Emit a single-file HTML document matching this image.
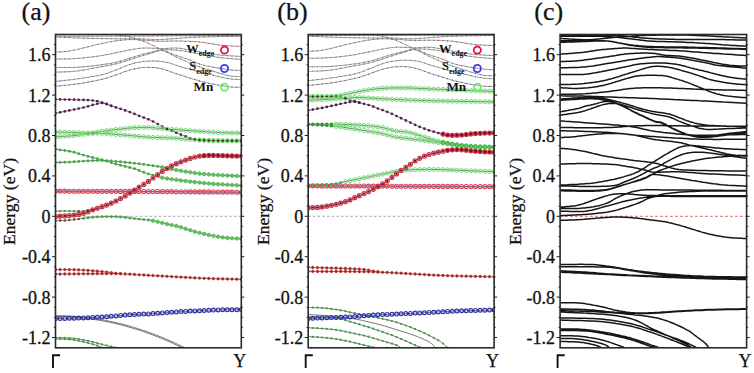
<!DOCTYPE html>
<html><head><meta charset="utf-8"><style>
html,body{margin:0;padding:0;background:#fff;width:754px;height:373px;overflow:hidden}
svg{display:block}
text{font-family:"Liberation Serif",serif;fill:#111}
.tl{font-size:18px;stroke:#111;stroke-width:0.3px}
.ky{font-size:18px;stroke:#111;stroke-width:0.25px}
.yl{font-size:17px;stroke:#111;stroke-width:0.25px}
.pl{font-size:26px;stroke:#111;stroke-width:0.25px}
.lg{font-size:12.5px;font-weight:bold}
.lgs{font-size:8px;font-weight:bold}
</style></head><body>
<svg width="754" height="373" viewBox="0 0 754 373">
<clipPath id="cla"><rect x="55.5" y="34.5" width="185.80" height="313.30"/></clipPath>
<clipPath id="clb"><rect x="308.2" y="34.5" width="185.90" height="313.30"/></clipPath>
<clipPath id="clc"><rect x="560.1" y="34.5" width="186.50" height="313.30"/></clipPath>
<line x1="55.5" y1="216.30" x2="241.3" y2="216.30" stroke="#999" stroke-width="0.9" stroke-dasharray="2.4 2.3"/>
<line x1="308.2" y1="216.30" x2="494.1" y2="216.30" stroke="#999" stroke-width="0.9" stroke-dasharray="2.4 2.3"/>
<line x1="560.1" y1="216.30" x2="746.6" y2="216.30" stroke="#e04848" stroke-width="0.9" stroke-dasharray="2.7 2.3"/>
<g clip-path="url(#cla)">
<path d="M55.5 36.2 L62.0 36.2 L68.5 36.2 L75.0 36.2 L81.5 36.2 L88.0 36.2 L94.5 36.2 L101.0 36.1 L107.4 36.1 L113.7 36.1 L120.0 36.1 L126.2 36.1 L132.3 36.1 L138.3 36.0 L144.3 36.0 L150.2 36.0 L156.1 35.9 L162.0 35.9 L168.0 35.9 L174.0 35.8 L180.0 35.8 L186.8 35.8 L193.5 35.7 L200.3 35.7 L207.2 35.7 L214.0 35.7 L220.8 35.7 L227.7 35.6 L234.5 35.6 L241.3 35.6 M55.5 37.0 L58.5 37.1 L61.6 37.2 L64.6 37.4 L67.7 37.5 L70.7 37.6 L73.8 37.8 L76.8 37.9 L79.9 38.0 L82.9 38.1 L86.0 38.2 L89.1 38.3 L92.3 38.4 L95.5 38.4 L98.7 38.5 L102.0 38.6 L105.2 38.6 L108.3 38.7 L111.3 38.7 L114.2 38.8 L117.0 38.8 L119.6 38.8 L122.2 38.8 L124.6 38.8 L127.0 38.8 L129.3 38.8 L131.5 38.8 L133.7 38.8 L135.8 38.8 L137.9 38.9 L140.0 38.9 L142.0 39.0 L143.9 39.0 L145.8 39.1 L147.6 39.2 L149.4 39.3 L151.1 39.4 L152.8 39.5 L154.5 39.6 L156.3 39.6 L158.0 39.6 L159.7 39.6 L161.3 39.5 L162.9 39.4 L164.5 39.4 L166.1 39.2 L167.7 39.1 L169.3 39.0 L171.1 38.9 L173.0 38.7 L175.0 38.6 L177.1 38.5 L179.2 38.3 L181.4 38.1 L183.6 38.0 L186.0 37.8 L188.4 37.6 L191.0 37.4 L193.8 37.3 L196.8 37.1 L200.0 37.0 L203.9 36.9 L208.1 36.8 L212.6 36.7 L217.2 36.6 L222.1 36.5 L226.9 36.4 L231.8 36.4 L236.6 36.3 L241.3 36.2 M55.5 52.1 L56.5 52.0 L57.6 52.0 L58.6 52.0 L59.7 51.9 L60.8 51.9 L61.8 51.8 L62.9 51.8 L63.9 51.7 L65.0 51.6 L66.0 51.5 L67.0 51.4 L68.1 51.2 L69.2 51.0 L70.2 50.9 L71.2 50.7 L72.3 50.5 L73.3 50.3 L74.4 50.0 L75.5 49.8 L76.5 49.6 L77.5 49.4 L78.6 49.1 L79.6 48.9 L80.7 48.6 L81.7 48.4 L82.8 48.1 L83.8 47.8 L84.9 47.5 L85.9 47.3 L87.0 47.0 L88.1 46.7 L89.2 46.5 L90.3 46.2 L91.4 45.9 L92.5 45.6 L93.6 45.3 L94.7 45.1 L95.8 44.8 L96.9 44.6 L98.0 44.3 L99.1 44.1 L100.2 43.8 L101.3 43.6 L102.4 43.3 L103.5 43.1 L104.5 42.9 L105.6 42.7 L106.6 42.5 L107.6 42.3 L108.6 42.1 L109.5 41.9 L110.3 41.8 L111.1 41.6 L111.9 41.5 L112.6 41.3 L113.4 41.2 L114.2 41.1 L115.1 40.9 L116.0 40.8 L117.0 40.7 L118.1 40.6 L119.3 40.4 L120.5 40.3 L121.8 40.2 L123.1 40.0 L124.4 39.9 L125.8 39.8 L127.2 39.7 L128.6 39.6 L130.0 39.6 L131.4 39.6 L132.9 39.6 L134.4 39.6 L135.9 39.7 L137.4 39.8 L138.9 39.8 L140.4 39.9 L142.0 40.0 L143.5 40.1 L145.0 40.2 L146.5 40.3 L147.9 40.4 L149.3 40.5 L150.8 40.6 L152.2 40.8 L153.6 40.9 L155.1 41.0 L156.7 41.1 L158.3 41.1 L160.0 41.2 L161.8 41.2 L163.7 41.2 L165.6 41.2 L167.6 41.1 L169.7 41.1 L171.8 41.0 L173.8 41.0 L175.9 41.0 L178.0 41.0 L180.0 41.0 L182.0 41.0 L184.0 41.1 L185.9 41.2 L187.9 41.2 L189.9 41.3 L191.9 41.4 L193.9 41.6 L195.9 41.7 L197.9 41.9 L200.0 42.1 L202.1 42.3 L204.3 42.6 L206.5 43.0 L208.8 43.3 L211.0 43.7 L213.3 44.1 L215.5 44.4 L217.7 44.8 L219.9 45.1 L222.0 45.3 L224.3 45.5 L226.5 45.7 L228.6 45.8 L230.8 45.9 L232.9 46.0 L235.0 46.1 L237.1 46.2 L239.2 46.3 L241.3 46.4 M112.0 34.0 L112.8 34.1 L113.6 34.2 L114.3 34.3 L115.1 34.5 L115.9 34.6 L116.7 34.7 L117.5 34.8 L118.3 34.9 L119.1 35.1 L120.0 35.2 L120.9 35.4 L121.9 35.5 L122.9 35.7 L123.9 35.8 L124.9 36.0 L125.9 36.2 L126.9 36.4 L128.0 36.6 L129.0 36.8 L130.0 37.0 L131.0 37.2 L132.0 37.5 L133.0 37.8 L134.0 38.1 L135.1 38.4 L136.1 38.7 L137.1 39.0 L138.1 39.3 L139.0 39.7 L140.0 40.0 L140.9 40.3 L141.9 40.7 L142.8 41.0 L143.7 41.4 L144.6 41.7 L145.4 42.1 L146.3 42.4 L147.2 42.8 L148.1 43.2 L149.0 43.6 L149.9 44.0 L150.8 44.4 L151.7 44.9 L152.6 45.3 L153.5 45.8 L154.4 46.2 L155.3 46.7 L156.2 47.1 L157.1 47.6 L158.0 48.0 L158.9 48.4 L159.7 48.8 L160.6 49.2 L161.4 49.6 L162.3 50.0 L163.1 50.4 L164.0 50.8 L164.8 51.2 L165.7 51.6 L166.5 52.0 L167.3 52.4 L168.2 52.9 L169.0 53.3 L169.9 53.8 L170.7 54.3 L171.6 54.7 L172.4 55.2 L173.3 55.6 L174.1 56.1 L175.0 56.5 L175.9 56.9 L176.8 57.3 L177.8 57.8 L178.7 58.2 L179.7 58.6 L180.6 59.0 L181.5 59.3 L182.4 59.7 L183.2 60.1 L184.0 60.4 L184.7 60.7 L185.3 61.0 L185.8 61.2 L186.2 61.4 L186.7 61.7 L187.2 61.9 L187.7 62.1 L188.3 62.4 L189.1 62.7 L190.0 63.1 L191.0 63.5 L192.1 63.9 L193.3 64.4 L194.5 64.9 L195.9 65.4 L197.3 66.0 L198.8 66.5 L200.4 67.1 L202.2 67.7 L204.0 68.3 L206.0 69.0 L208.3 69.7 L210.8 70.5 L213.4 71.3 L216.0 72.1 L218.7 73.0 L221.3 73.7 L223.7 74.4 L226.0 75.0 L228.0 75.5 L229.9 75.9 L231.7 76.2 L233.2 76.3 L234.6 76.4 L236.0 76.5 L237.3 76.5 L238.5 76.5 L239.9 76.6 L241.3 76.7 M55.5 59.1 L57.6 59.0 L59.7 59.0 L61.8 59.0 L63.9 58.9 L66.0 58.9 L68.1 58.9 L70.2 58.8 L72.3 58.7 L74.4 58.6 L76.5 58.5 L78.6 58.3 L80.8 58.2 L83.0 58.0 L85.2 57.7 L87.4 57.5 L89.6 57.2 L91.7 57.0 L93.9 56.7 L95.9 56.4 L98.0 56.1 L100.0 55.8 L102.0 55.5 L104.0 55.1 L105.9 54.7 L107.8 54.4 L109.7 54.0 L111.6 53.6 L113.4 53.2 L115.2 52.8 L117.0 52.5 L118.7 52.2 L120.5 51.8 L122.1 51.5 L123.8 51.1 L125.4 50.8 L127.0 50.4 L128.6 50.1 L130.1 49.8 L131.6 49.5 L133.0 49.3 L134.3 49.1 L135.6 48.9 L136.7 48.7 L137.8 48.6 L138.9 48.4 L140.0 48.3 L141.2 48.2 L142.3 48.1 L143.6 48.0 L145.0 48.0 L146.5 48.0 L148.1 48.0 L149.7 48.1 L151.4 48.2 L153.2 48.2 L155.0 48.3 L156.7 48.4 L158.5 48.5 L160.3 48.6 L162.0 48.6 L163.7 48.6 L165.3 48.5 L167.0 48.4 L168.6 48.3 L170.2 48.2 L171.9 48.1 L173.6 48.0 L175.3 48.0 L177.1 48.1 L179.0 48.2 L180.9 48.4 L183.0 48.7 L185.0 49.1 L187.2 49.5 L189.3 49.9 L191.5 50.3 L193.6 50.8 L195.8 51.2 L197.9 51.6 L200.0 52.0 L202.0 52.3 L204.0 52.7 L206.0 53.0 L208.0 53.3 L210.0 53.6 L212.0 53.9 L213.9 54.2 L215.9 54.5 L218.0 54.8 L220.0 55.0 L222.3 55.2 L224.6 55.4 L227.0 55.6 L229.4 55.8 L231.8 55.9 L234.2 56.1 L236.5 56.2 L238.9 56.3 L241.3 56.5 M55.5 67.5 L57.6 67.5 L59.7 67.5 L61.8 67.5 L63.9 67.5 L66.0 67.5 L68.1 67.5 L70.2 67.5 L72.3 67.5 L74.4 67.4 L76.5 67.3 L78.6 67.2 L80.8 67.0 L83.0 66.8 L85.2 66.6 L87.4 66.4 L89.6 66.2 L91.7 66.0 L93.9 65.7 L95.9 65.5 L98.0 65.2 L100.0 64.9 L102.0 64.7 L103.9 64.4 L105.8 64.1 L107.7 63.8 L109.6 63.5 L111.5 63.2 L113.3 62.8 L115.2 62.4 L117.0 62.0 L118.9 61.5 L120.7 61.0 L122.6 60.5 L124.4 59.9 L126.2 59.3 L128.1 58.7 L129.9 58.1 L131.6 57.5 L133.3 57.0 L135.0 56.5 L136.6 56.0 L138.2 55.6 L139.8 55.1 L141.4 54.7 L142.9 54.3 L144.4 53.9 L145.8 53.6 L147.2 53.2 L148.6 52.8 L150.0 52.5 L151.3 52.2 L152.5 51.8 L153.6 51.5 L154.7 51.2 L155.8 50.9 L156.9 50.6 L158.1 50.3 L159.3 50.1 L160.6 49.9 L162.0 49.8 L163.5 49.7 L165.2 49.7 L166.9 49.7 L168.7 49.7 L170.5 49.8 L172.4 49.9 L174.3 50.0 L176.2 50.1 L178.1 50.3 L180.0 50.5 L181.9 50.7 L183.9 51.0 L185.9 51.3 L187.9 51.7 L189.9 52.1 L191.9 52.5 L193.9 52.9 L196.0 53.3 L198.0 53.6 L200.0 54.0 L202.0 54.4 L204.0 54.7 L206.0 55.1 L207.9 55.5 L209.9 55.8 L211.9 56.2 L213.9 56.6 L215.9 56.9 L217.9 57.2 L220.0 57.5 L222.3 57.8 L224.6 58.0 L227.0 58.3 L229.4 58.5 L231.8 58.7 L234.2 58.9 L236.5 59.1 L238.9 59.3 L241.3 59.5 M55.5 72.2 L57.6 72.1 L59.7 72.0 L61.8 72.0 L63.9 71.9 L66.0 71.8 L68.1 71.7 L70.2 71.6 L72.3 71.5 L74.4 71.3 L76.5 71.1 L78.6 70.8 L80.8 70.5 L83.0 70.2 L85.2 69.8 L87.4 69.4 L89.6 68.9 L91.7 68.5 L93.9 68.1 L95.9 67.7 L98.0 67.3 L100.0 66.9 L102.0 66.6 L103.9 66.2 L105.8 65.9 L107.7 65.6 L109.6 65.2 L111.5 64.8 L113.3 64.5 L115.2 64.0 L117.0 63.6 L118.9 63.1 L120.7 62.6 L122.6 62.0 L124.4 61.4 L126.2 60.9 L128.1 60.3 L129.9 59.7 L131.6 59.1 L133.3 58.5 L135.0 58.0 L136.6 57.5 L138.2 57.0 L139.8 56.5 L141.4 56.0 L142.9 55.6 L144.4 55.1 L145.8 54.7 L147.2 54.3 L148.6 53.9 L150.0 53.5 L151.3 53.1 L152.6 52.7 L153.8 52.3 L155.0 51.8 L156.1 51.4 L157.3 51.1 L158.4 50.8 L159.6 50.6 L160.8 50.5 L162.0 50.5 L163.3 50.6 L164.5 50.9 L165.8 51.3 L167.0 51.7 L168.3 52.2 L169.6 52.8 L170.9 53.4 L172.3 53.9 L173.6 54.5 L175.0 55.0 L176.4 55.5 L177.9 56.0 L179.4 56.5 L180.9 56.9 L182.4 57.4 L184.0 58.0 L185.5 58.5 L187.0 59.0 L188.5 59.5 L190.0 60.0 L191.4 60.5 L192.7 61.1 L194.0 61.6 L195.2 62.2 L196.4 62.7 L197.7 63.2 L199.1 63.8 L200.6 64.3 L202.2 64.8 L204.0 65.3 L206.0 65.8 L208.3 66.3 L210.8 66.7 L213.4 67.2 L216.0 67.7 L218.7 68.1 L221.3 68.5 L223.7 68.9 L226.0 69.2 L228.0 69.5 L229.9 69.8 L231.7 70.0 L233.2 70.1 L234.6 70.2 L236.0 70.3 L237.3 70.4 L238.5 70.5 L239.9 70.6 L241.3 70.7 M55.5 81.5 L58.0 81.2 L60.4 80.9 L62.9 80.6 L65.4 80.3 L67.8 80.1 L70.3 79.8 L72.8 79.5 L75.2 79.2 L77.6 78.8 L80.0 78.5 L82.4 78.1 L84.8 77.8 L87.3 77.4 L89.7 77.0 L92.2 76.6 L94.5 76.2 L96.8 75.8 L99.0 75.4 L101.1 74.9 L103.0 74.5 L104.8 74.0 L106.3 73.6 L107.8 73.1 L109.2 72.6 L110.4 72.1 L111.7 71.6 L112.9 71.1 L114.2 70.6 L115.6 70.0 L117.0 69.5 L118.5 68.9 L120.1 68.3 L121.7 67.7 L123.3 67.0 L124.9 66.3 L126.5 65.7 L128.1 65.1 L129.8 64.5 L131.4 64.0 L133.0 63.5 L134.6 63.1 L136.2 62.7 L137.8 62.4 L139.4 62.1 L141.0 61.9 L142.6 61.6 L144.2 61.5 L145.8 61.3 L147.4 61.2 L149.0 61.1 L150.6 61.0 L152.2 61.0 L153.8 61.0 L155.4 61.0 L157.1 61.1 L158.7 61.2 L160.3 61.4 L161.9 61.5 L163.4 61.7 L165.0 62.0 L166.5 62.3 L167.9 62.6 L169.3 63.0 L170.6 63.4 L172.0 63.9 L173.4 64.4 L174.9 64.9 L176.4 65.4 L178.1 65.9 L180.0 66.5 L182.0 67.1 L184.2 67.7 L186.5 68.4 L189.0 69.0 L191.4 69.7 L194.0 70.4 L196.5 71.1 L199.1 71.8 L201.6 72.5 L204.0 73.1 L206.4 73.7 L209.0 74.3 L211.5 74.9 L214.1 75.5 L216.7 76.1 L219.2 76.7 L221.6 77.2 L223.9 77.7 L226.0 78.1 L228.0 78.5 L229.9 78.8 L231.7 79.0 L233.2 79.2 L234.6 79.3 L236.0 79.4 L237.3 79.5 L238.5 79.5 L239.9 79.6 L241.3 79.7 M55.5 86.3 L58.0 86.0 L60.4 85.8 L62.9 85.5 L65.4 85.3 L67.8 85.0 L70.3 84.7 L72.8 84.5 L75.2 84.2 L77.6 83.8 L80.0 83.5 L82.4 83.1 L84.8 82.7 L87.3 82.3 L89.7 81.8 L92.2 81.4 L94.5 80.9 L96.8 80.4 L99.0 79.9 L101.1 79.5 L103.0 79.0 L104.8 78.5 L106.4 78.1 L107.9 77.7 L109.3 77.2 L110.6 76.8 L111.9 76.3 L113.2 75.8 L114.4 75.4 L115.7 75.0 L117.0 74.5 L118.3 74.0 L119.6 73.6 L120.9 73.1 L122.2 72.6 L123.5 72.1 L124.8 71.7 L126.1 71.2 L127.4 70.8 L128.7 70.4 L130.0 70.0 L131.4 69.7 L132.7 69.3 L134.1 69.0 L135.4 68.7 L136.8 68.4 L138.2 68.2 L139.6 67.9 L141.1 67.8 L142.5 67.6 L144.0 67.5 L145.5 67.4 L147.0 67.4 L148.5 67.3 L150.1 67.3 L151.6 67.4 L153.2 67.5 L154.8 67.6 L156.5 67.8 L158.2 68.1 L160.0 68.4 L161.8 68.8 L163.7 69.3 L165.6 69.9 L167.5 70.6 L169.5 71.3 L171.5 72.0 L173.6 72.7 L175.7 73.5 L177.8 74.2 L180.0 74.9 L182.2 75.6 L184.5 76.3 L186.9 77.1 L189.3 77.9 L191.8 78.6 L194.2 79.4 L196.7 80.1 L199.1 80.8 L201.6 81.5 L204.0 82.1 L206.4 82.7 L209.0 83.2 L211.5 83.8 L214.1 84.3 L216.7 84.8 L219.2 85.2 L221.6 85.6 L223.9 86.0 L226.0 86.3 L228.0 86.6 L229.9 86.8 L231.7 87.0 L233.2 87.1 L234.6 87.2 L236.0 87.2 L237.3 87.2 L238.5 87.2 L239.9 87.2 L241.3 87.3" fill="none" stroke="#8c8c8c" stroke-width="0.85"/>
<circle cx="55.5" cy="36.2" r="0.55" fill="#666"/><circle cx="60.1" cy="36.2" r="0.55" fill="#666"/><circle cx="64.8" cy="36.2" r="0.55" fill="#666"/><circle cx="69.4" cy="36.2" r="0.55" fill="#666"/><circle cx="74.1" cy="36.2" r="0.55" fill="#666"/><circle cx="78.7" cy="36.2" r="0.55" fill="#666"/><circle cx="83.4" cy="36.2" r="0.55" fill="#666"/><circle cx="88.0" cy="36.2" r="0.55" fill="#666"/><circle cx="92.7" cy="36.2" r="0.55" fill="#666"/><circle cx="97.3" cy="36.2" r="0.55" fill="#666"/><circle cx="102.0" cy="36.1" r="0.55" fill="#666"/><circle cx="106.6" cy="36.1" r="0.55" fill="#666"/><circle cx="111.2" cy="36.1" r="0.55" fill="#666"/><circle cx="115.9" cy="36.1" r="0.55" fill="#666"/><circle cx="120.5" cy="36.1" r="0.55" fill="#666"/><circle cx="125.2" cy="36.1" r="0.55" fill="#666"/><circle cx="129.8" cy="36.1" r="0.55" fill="#666"/><circle cx="134.5" cy="36.0" r="0.55" fill="#666"/><circle cx="139.1" cy="36.0" r="0.55" fill="#666"/><circle cx="143.8" cy="36.0" r="0.55" fill="#666"/><circle cx="148.4" cy="36.0" r="0.55" fill="#666"/><circle cx="153.0" cy="35.9" r="0.55" fill="#666"/><circle cx="157.7" cy="35.9" r="0.55" fill="#666"/><circle cx="162.3" cy="35.9" r="0.55" fill="#666"/><circle cx="167.0" cy="35.9" r="0.55" fill="#666"/><circle cx="171.6" cy="35.8" r="0.55" fill="#666"/><circle cx="176.3" cy="35.8" r="0.55" fill="#666"/><circle cx="180.9" cy="35.8" r="0.55" fill="#666"/><circle cx="185.6" cy="35.8" r="0.55" fill="#666"/><circle cx="190.2" cy="35.8" r="0.55" fill="#666"/><circle cx="194.8" cy="35.7" r="0.55" fill="#666"/><circle cx="199.5" cy="35.7" r="0.55" fill="#666"/><circle cx="204.1" cy="35.7" r="0.55" fill="#666"/><circle cx="208.8" cy="35.7" r="0.55" fill="#666"/><circle cx="213.4" cy="35.7" r="0.55" fill="#666"/><circle cx="218.1" cy="35.7" r="0.55" fill="#666"/><circle cx="222.7" cy="35.7" r="0.55" fill="#666"/><circle cx="227.4" cy="35.6" r="0.55" fill="#666"/><circle cx="232.0" cy="35.6" r="0.55" fill="#666"/><circle cx="236.7" cy="35.6" r="0.55" fill="#666"/><circle cx="241.3" cy="35.6" r="0.55" fill="#666"/><circle cx="55.5" cy="37.0" r="0.55" fill="#666"/><circle cx="60.1" cy="37.2" r="0.55" fill="#666"/><circle cx="64.8" cy="37.4" r="0.55" fill="#666"/><circle cx="69.4" cy="37.6" r="0.55" fill="#666"/><circle cx="74.1" cy="37.8" r="0.55" fill="#666"/><circle cx="78.7" cy="38.0" r="0.55" fill="#666"/><circle cx="83.4" cy="38.1" r="0.55" fill="#666"/><circle cx="88.0" cy="38.3" r="0.55" fill="#666"/><circle cx="92.7" cy="38.4" r="0.55" fill="#666"/><circle cx="97.3" cy="38.5" r="0.55" fill="#666"/><circle cx="102.0" cy="38.6" r="0.55" fill="#666"/><circle cx="106.6" cy="38.6" r="0.55" fill="#666"/><circle cx="111.2" cy="38.7" r="0.55" fill="#666"/><circle cx="115.9" cy="38.8" r="0.55" fill="#666"/><circle cx="120.5" cy="38.8" r="0.55" fill="#666"/><circle cx="125.2" cy="38.8" r="0.55" fill="#666"/><circle cx="129.8" cy="38.8" r="0.55" fill="#666"/><circle cx="134.5" cy="38.8" r="0.55" fill="#666"/><circle cx="139.1" cy="38.9" r="0.55" fill="#666"/><circle cx="143.8" cy="39.0" r="0.55" fill="#666"/><circle cx="148.4" cy="39.3" r="0.55" fill="#666"/><circle cx="153.0" cy="39.5" r="0.55" fill="#666"/><circle cx="157.7" cy="39.6" r="0.55" fill="#666"/><circle cx="162.3" cy="39.5" r="0.55" fill="#666"/><circle cx="167.0" cy="39.2" r="0.55" fill="#666"/><circle cx="171.6" cy="38.8" r="0.55" fill="#666"/><circle cx="176.3" cy="38.5" r="0.55" fill="#666"/><circle cx="180.9" cy="38.2" r="0.55" fill="#666"/><circle cx="185.6" cy="37.8" r="0.55" fill="#666"/><circle cx="190.2" cy="37.5" r="0.55" fill="#666"/><circle cx="194.8" cy="37.2" r="0.55" fill="#666"/><circle cx="199.5" cy="37.0" r="0.55" fill="#666"/><circle cx="204.1" cy="36.9" r="0.55" fill="#666"/><circle cx="208.8" cy="36.8" r="0.55" fill="#666"/><circle cx="213.4" cy="36.7" r="0.55" fill="#666"/><circle cx="218.1" cy="36.6" r="0.55" fill="#666"/><circle cx="222.7" cy="36.5" r="0.55" fill="#666"/><circle cx="227.4" cy="36.4" r="0.55" fill="#666"/><circle cx="232.0" cy="36.4" r="0.55" fill="#666"/><circle cx="236.7" cy="36.3" r="0.55" fill="#666"/><circle cx="241.3" cy="36.2" r="0.55" fill="#666"/><circle cx="55.5" cy="52.1" r="0.55" fill="#b03040"/><circle cx="60.1" cy="51.9" r="0.55" fill="#b03040"/><circle cx="64.8" cy="51.6" r="0.55" fill="#b03040"/><circle cx="69.4" cy="51.0" r="0.55" fill="#b03040"/><circle cx="74.1" cy="50.1" r="0.55" fill="#b03040"/><circle cx="78.7" cy="49.1" r="0.55" fill="#b03040"/><circle cx="83.4" cy="47.9" r="0.55" fill="#b03040"/><circle cx="88.0" cy="46.7" r="0.55" fill="#b03040"/><circle cx="92.7" cy="45.6" r="0.55" fill="#b03040"/><circle cx="97.3" cy="44.5" r="0.55" fill="#b03040"/><circle cx="102.0" cy="43.4" r="0.55" fill="#b03040"/><circle cx="106.6" cy="42.5" r="0.55" fill="#b03040"/><circle cx="111.2" cy="41.6" r="0.55" fill="#b03040"/><circle cx="115.9" cy="40.8" r="0.55" fill="#b03040"/><circle cx="120.5" cy="40.3" r="0.55" fill="#b03040"/><circle cx="125.2" cy="39.8" r="0.55" fill="#b03040"/><circle cx="129.8" cy="39.6" r="0.55" fill="#b03040"/><circle cx="134.5" cy="39.6" r="0.55" fill="#b03040"/><circle cx="139.1" cy="39.9" r="0.55" fill="#b03040"/><circle cx="143.8" cy="40.1" r="0.55" fill="#b03040"/><circle cx="148.4" cy="40.4" r="0.55" fill="#b03040"/><circle cx="153.0" cy="40.8" r="0.55" fill="#b03040"/><circle cx="157.7" cy="41.1" r="0.55" fill="#b03040"/><circle cx="162.3" cy="41.2" r="0.55" fill="#b03040"/><circle cx="167.0" cy="41.2" r="0.55" fill="#b03040"/><circle cx="171.6" cy="41.0" r="0.55" fill="#b03040"/><circle cx="176.3" cy="41.0" r="0.55" fill="#b03040"/><circle cx="180.9" cy="41.0" r="0.55" fill="#b03040"/><circle cx="185.6" cy="41.2" r="0.55" fill="#b03040"/><circle cx="190.2" cy="41.4" r="0.55" fill="#b03040"/><circle cx="194.8" cy="41.6" r="0.55" fill="#b03040"/><circle cx="199.5" cy="42.0" r="0.55" fill="#b03040"/><circle cx="204.1" cy="42.6" r="0.55" fill="#b03040"/><circle cx="208.8" cy="43.3" r="0.55" fill="#b03040"/><circle cx="213.4" cy="44.1" r="0.55" fill="#b03040"/><circle cx="218.1" cy="44.8" r="0.55" fill="#b03040"/><circle cx="222.7" cy="45.4" r="0.55" fill="#b03040"/><circle cx="227.4" cy="45.7" r="0.55" fill="#b03040"/><circle cx="232.0" cy="46.0" r="0.55" fill="#b03040"/><circle cx="236.7" cy="46.2" r="0.55" fill="#b03040"/><circle cx="241.3" cy="46.4" r="0.55" fill="#b03040"/><circle cx="115.9" cy="34.6" r="0.55" fill="#666"/><circle cx="120.5" cy="35.3" r="0.55" fill="#666"/><circle cx="125.2" cy="36.0" r="0.55" fill="#666"/><circle cx="129.8" cy="37.0" r="0.55" fill="#666"/><circle cx="134.5" cy="38.2" r="0.55" fill="#666"/><circle cx="139.1" cy="39.7" r="0.55" fill="#666"/><circle cx="143.8" cy="41.4" r="0.55" fill="#666"/><circle cx="148.4" cy="43.3" r="0.55" fill="#666"/><circle cx="153.0" cy="45.5" r="0.55" fill="#666"/><circle cx="157.7" cy="47.9" r="0.55" fill="#666"/><circle cx="162.3" cy="50.0" r="0.55" fill="#666"/><circle cx="167.0" cy="52.2" r="0.55" fill="#666"/><circle cx="171.6" cy="54.8" r="0.55" fill="#666"/><circle cx="176.3" cy="57.1" r="0.55" fill="#666"/><circle cx="180.9" cy="59.1" r="0.55" fill="#666"/><circle cx="185.6" cy="61.1" r="0.55" fill="#666"/><circle cx="190.2" cy="63.2" r="0.55" fill="#666"/><circle cx="194.8" cy="65.0" r="0.55" fill="#666"/><circle cx="199.5" cy="66.8" r="0.55" fill="#666"/><circle cx="204.1" cy="68.3" r="0.55" fill="#666"/><circle cx="208.8" cy="69.9" r="0.55" fill="#666"/><circle cx="213.4" cy="71.3" r="0.55" fill="#666"/><circle cx="218.1" cy="72.8" r="0.55" fill="#666"/><circle cx="222.7" cy="74.1" r="0.55" fill="#666"/><circle cx="227.4" cy="75.4" r="0.55" fill="#666"/><circle cx="232.0" cy="76.2" r="0.55" fill="#666"/><circle cx="236.7" cy="76.5" r="0.55" fill="#666"/><circle cx="241.3" cy="76.7" r="0.55" fill="#666"/><circle cx="55.5" cy="59.1" r="0.55" fill="#666"/><circle cx="60.1" cy="59.0" r="0.55" fill="#666"/><circle cx="64.8" cy="58.9" r="0.55" fill="#666"/><circle cx="69.4" cy="58.8" r="0.55" fill="#666"/><circle cx="74.1" cy="58.6" r="0.55" fill="#666"/><circle cx="78.7" cy="58.3" r="0.55" fill="#666"/><circle cx="83.4" cy="57.9" r="0.55" fill="#666"/><circle cx="88.0" cy="57.4" r="0.55" fill="#666"/><circle cx="92.7" cy="56.8" r="0.55" fill="#666"/><circle cx="97.3" cy="56.2" r="0.55" fill="#666"/><circle cx="102.0" cy="55.5" r="0.55" fill="#666"/><circle cx="106.6" cy="54.6" r="0.55" fill="#666"/><circle cx="111.2" cy="53.7" r="0.55" fill="#666"/><circle cx="115.9" cy="52.7" r="0.55" fill="#666"/><circle cx="120.5" cy="51.8" r="0.55" fill="#666"/><circle cx="125.2" cy="50.8" r="0.55" fill="#666"/><circle cx="129.8" cy="49.9" r="0.55" fill="#666"/><circle cx="134.5" cy="49.1" r="0.55" fill="#666"/><circle cx="139.1" cy="48.4" r="0.55" fill="#666"/><circle cx="143.8" cy="48.0" r="0.55" fill="#666"/><circle cx="148.4" cy="48.0" r="0.55" fill="#666"/><circle cx="153.0" cy="48.2" r="0.55" fill="#666"/><circle cx="157.7" cy="48.5" r="0.55" fill="#666"/><circle cx="162.3" cy="48.6" r="0.55" fill="#666"/><circle cx="167.0" cy="48.4" r="0.55" fill="#666"/><circle cx="171.6" cy="48.1" r="0.55" fill="#666"/><circle cx="176.3" cy="48.0" r="0.55" fill="#666"/><circle cx="180.9" cy="48.4" r="0.55" fill="#666"/><circle cx="185.6" cy="49.2" r="0.55" fill="#666"/><circle cx="190.2" cy="50.1" r="0.55" fill="#666"/><circle cx="194.8" cy="51.0" r="0.55" fill="#666"/><circle cx="199.5" cy="51.9" r="0.55" fill="#666"/><circle cx="204.1" cy="52.7" r="0.55" fill="#666"/><circle cx="208.8" cy="53.5" r="0.55" fill="#666"/><circle cx="213.4" cy="54.2" r="0.55" fill="#666"/><circle cx="218.1" cy="54.8" r="0.55" fill="#666"/><circle cx="222.7" cy="55.3" r="0.55" fill="#666"/><circle cx="227.4" cy="55.6" r="0.55" fill="#666"/><circle cx="232.0" cy="55.9" r="0.55" fill="#666"/><circle cx="236.7" cy="56.2" r="0.55" fill="#666"/><circle cx="241.3" cy="56.5" r="0.55" fill="#666"/><circle cx="55.5" cy="67.5" r="0.55" fill="#666"/><circle cx="60.1" cy="67.5" r="0.55" fill="#666"/><circle cx="64.8" cy="67.5" r="0.55" fill="#666"/><circle cx="69.4" cy="67.5" r="0.55" fill="#666"/><circle cx="74.1" cy="67.4" r="0.55" fill="#666"/><circle cx="78.7" cy="67.2" r="0.55" fill="#666"/><circle cx="83.4" cy="66.8" r="0.55" fill="#666"/><circle cx="88.0" cy="66.4" r="0.55" fill="#666"/><circle cx="92.7" cy="65.9" r="0.55" fill="#666"/><circle cx="97.3" cy="65.3" r="0.55" fill="#666"/><circle cx="102.0" cy="64.7" r="0.55" fill="#666"/><circle cx="106.6" cy="64.0" r="0.55" fill="#666"/><circle cx="111.2" cy="63.2" r="0.55" fill="#666"/><circle cx="115.9" cy="62.3" r="0.55" fill="#666"/><circle cx="120.5" cy="61.1" r="0.55" fill="#666"/><circle cx="125.2" cy="59.6" r="0.55" fill="#666"/><circle cx="129.8" cy="58.1" r="0.55" fill="#666"/><circle cx="134.5" cy="56.7" r="0.55" fill="#666"/><circle cx="139.1" cy="55.3" r="0.55" fill="#666"/><circle cx="143.8" cy="54.1" r="0.55" fill="#666"/><circle cx="148.4" cy="52.9" r="0.55" fill="#666"/><circle cx="153.0" cy="51.7" r="0.55" fill="#666"/><circle cx="157.7" cy="50.4" r="0.55" fill="#666"/><circle cx="162.3" cy="49.8" r="0.55" fill="#666"/><circle cx="167.0" cy="49.7" r="0.55" fill="#666"/><circle cx="171.6" cy="49.8" r="0.55" fill="#666"/><circle cx="176.3" cy="50.1" r="0.55" fill="#666"/><circle cx="180.9" cy="50.6" r="0.55" fill="#666"/><circle cx="185.6" cy="51.3" r="0.55" fill="#666"/><circle cx="190.2" cy="52.1" r="0.55" fill="#666"/><circle cx="194.8" cy="53.0" r="0.55" fill="#666"/><circle cx="199.5" cy="53.9" r="0.55" fill="#666"/><circle cx="204.1" cy="54.8" r="0.55" fill="#666"/><circle cx="208.8" cy="55.6" r="0.55" fill="#666"/><circle cx="213.4" cy="56.5" r="0.55" fill="#666"/><circle cx="218.1" cy="57.2" r="0.55" fill="#666"/><circle cx="222.7" cy="57.8" r="0.55" fill="#666"/><circle cx="227.4" cy="58.3" r="0.55" fill="#666"/><circle cx="232.0" cy="58.7" r="0.55" fill="#666"/><circle cx="236.7" cy="59.1" r="0.55" fill="#666"/><circle cx="241.3" cy="59.5" r="0.55" fill="#666"/><circle cx="55.5" cy="72.2" r="0.55" fill="#666"/><circle cx="60.1" cy="72.0" r="0.55" fill="#666"/><circle cx="64.8" cy="71.9" r="0.55" fill="#666"/><circle cx="69.4" cy="71.7" r="0.55" fill="#666"/><circle cx="74.1" cy="71.3" r="0.55" fill="#666"/><circle cx="78.7" cy="70.8" r="0.55" fill="#666"/><circle cx="83.4" cy="70.1" r="0.55" fill="#666"/><circle cx="88.0" cy="69.2" r="0.55" fill="#666"/><circle cx="92.7" cy="68.3" r="0.55" fill="#666"/><circle cx="97.3" cy="67.4" r="0.55" fill="#666"/><circle cx="102.0" cy="66.6" r="0.55" fill="#666"/><circle cx="106.6" cy="65.8" r="0.55" fill="#666"/><circle cx="111.2" cy="64.9" r="0.55" fill="#666"/><circle cx="115.9" cy="63.9" r="0.55" fill="#666"/><circle cx="120.5" cy="62.6" r="0.55" fill="#666"/><circle cx="125.2" cy="61.2" r="0.55" fill="#666"/><circle cx="129.8" cy="59.7" r="0.55" fill="#666"/><circle cx="134.5" cy="58.2" r="0.55" fill="#666"/><circle cx="139.1" cy="56.7" r="0.55" fill="#666"/><circle cx="143.8" cy="55.3" r="0.55" fill="#666"/><circle cx="148.4" cy="54.0" r="0.55" fill="#666"/><circle cx="153.0" cy="52.5" r="0.55" fill="#666"/><circle cx="157.7" cy="51.0" r="0.55" fill="#666"/><circle cx="162.3" cy="50.5" r="0.55" fill="#666"/><circle cx="167.0" cy="51.7" r="0.55" fill="#666"/><circle cx="171.6" cy="53.7" r="0.55" fill="#666"/><circle cx="176.3" cy="55.4" r="0.55" fill="#666"/><circle cx="180.9" cy="57.0" r="0.55" fill="#666"/><circle cx="185.6" cy="58.5" r="0.55" fill="#666"/><circle cx="190.2" cy="60.1" r="0.55" fill="#666"/><circle cx="194.8" cy="62.0" r="0.55" fill="#666"/><circle cx="199.5" cy="63.9" r="0.55" fill="#666"/><circle cx="204.1" cy="65.3" r="0.55" fill="#666"/><circle cx="208.8" cy="66.3" r="0.55" fill="#666"/><circle cx="213.4" cy="67.2" r="0.55" fill="#666"/><circle cx="218.1" cy="68.0" r="0.55" fill="#666"/><circle cx="222.7" cy="68.7" r="0.55" fill="#666"/><circle cx="227.4" cy="69.4" r="0.55" fill="#666"/><circle cx="232.0" cy="70.0" r="0.55" fill="#666"/><circle cx="236.7" cy="70.4" r="0.55" fill="#666"/><circle cx="241.3" cy="70.7" r="0.55" fill="#666"/><circle cx="55.5" cy="81.5" r="0.55" fill="#666"/><circle cx="60.1" cy="80.9" r="0.55" fill="#666"/><circle cx="64.8" cy="80.4" r="0.55" fill="#666"/><circle cx="69.4" cy="79.9" r="0.55" fill="#666"/><circle cx="74.1" cy="79.3" r="0.55" fill="#666"/><circle cx="78.7" cy="78.7" r="0.55" fill="#666"/><circle cx="83.4" cy="78.0" r="0.55" fill="#666"/><circle cx="88.0" cy="77.3" r="0.55" fill="#666"/><circle cx="92.7" cy="76.5" r="0.55" fill="#666"/><circle cx="97.3" cy="75.7" r="0.55" fill="#666"/><circle cx="102.0" cy="74.7" r="0.55" fill="#666"/><circle cx="106.6" cy="73.5" r="0.55" fill="#666"/><circle cx="111.2" cy="71.8" r="0.55" fill="#666"/><circle cx="115.9" cy="69.9" r="0.55" fill="#666"/><circle cx="120.5" cy="68.1" r="0.55" fill="#666"/><circle cx="125.2" cy="66.2" r="0.55" fill="#666"/><circle cx="129.8" cy="64.5" r="0.55" fill="#666"/><circle cx="134.5" cy="63.1" r="0.55" fill="#666"/><circle cx="139.1" cy="62.2" r="0.55" fill="#666"/><circle cx="143.8" cy="61.5" r="0.55" fill="#666"/><circle cx="148.4" cy="61.1" r="0.55" fill="#666"/><circle cx="153.0" cy="61.0" r="0.55" fill="#666"/><circle cx="157.7" cy="61.2" r="0.55" fill="#666"/><circle cx="162.3" cy="61.6" r="0.55" fill="#666"/><circle cx="167.0" cy="62.4" r="0.55" fill="#666"/><circle cx="171.6" cy="63.8" r="0.55" fill="#666"/><circle cx="176.3" cy="65.4" r="0.55" fill="#666"/><circle cx="180.9" cy="66.8" r="0.55" fill="#666"/><circle cx="185.6" cy="68.1" r="0.55" fill="#666"/><circle cx="190.2" cy="69.4" r="0.55" fill="#666"/><circle cx="194.8" cy="70.7" r="0.55" fill="#666"/><circle cx="199.5" cy="71.9" r="0.55" fill="#666"/><circle cx="204.1" cy="73.1" r="0.55" fill="#666"/><circle cx="208.8" cy="74.3" r="0.55" fill="#666"/><circle cx="213.4" cy="75.4" r="0.55" fill="#666"/><circle cx="218.1" cy="76.5" r="0.55" fill="#666"/><circle cx="222.7" cy="77.5" r="0.55" fill="#666"/><circle cx="227.4" cy="78.4" r="0.55" fill="#666"/><circle cx="232.0" cy="79.1" r="0.55" fill="#666"/><circle cx="236.7" cy="79.4" r="0.55" fill="#666"/><circle cx="241.3" cy="79.7" r="0.55" fill="#666"/><circle cx="55.5" cy="86.3" r="0.55" fill="#3040a0"/><circle cx="60.1" cy="85.8" r="0.55" fill="#3040a0"/><circle cx="64.8" cy="85.3" r="0.55" fill="#3040a0"/><circle cx="69.4" cy="84.8" r="0.55" fill="#3040a0"/><circle cx="74.1" cy="84.3" r="0.55" fill="#3040a0"/><circle cx="78.7" cy="83.7" r="0.55" fill="#3040a0"/><circle cx="83.4" cy="83.0" r="0.55" fill="#3040a0"/><circle cx="88.0" cy="82.1" r="0.55" fill="#3040a0"/><circle cx="92.7" cy="81.3" r="0.55" fill="#3040a0"/><circle cx="97.3" cy="80.3" r="0.55" fill="#3040a0"/><circle cx="102.0" cy="79.3" r="0.55" fill="#3040a0"/><circle cx="106.6" cy="78.0" r="0.55" fill="#3040a0"/><circle cx="111.2" cy="76.5" r="0.55" fill="#3040a0"/><circle cx="115.9" cy="74.9" r="0.55" fill="#3040a0"/><circle cx="120.5" cy="73.2" r="0.55" fill="#3040a0"/><circle cx="125.2" cy="71.5" r="0.55" fill="#3040a0"/><circle cx="129.8" cy="70.0" r="0.55" fill="#3040a0"/><circle cx="134.5" cy="68.9" r="0.55" fill="#3040a0"/><circle cx="139.1" cy="68.0" r="0.55" fill="#3040a0"/><circle cx="143.8" cy="67.5" r="0.55" fill="#3040a0"/><circle cx="148.4" cy="67.3" r="0.55" fill="#3040a0"/><circle cx="153.0" cy="67.5" r="0.55" fill="#3040a0"/><circle cx="157.7" cy="68.0" r="0.55" fill="#3040a0"/><circle cx="162.3" cy="69.0" r="0.55" fill="#3040a0"/><circle cx="167.0" cy="70.4" r="0.55" fill="#3040a0"/><circle cx="171.6" cy="72.0" r="0.55" fill="#3040a0"/><circle cx="176.3" cy="73.7" r="0.55" fill="#3040a0"/><circle cx="180.9" cy="75.2" r="0.55" fill="#3040a0"/><circle cx="185.6" cy="76.7" r="0.55" fill="#3040a0"/><circle cx="190.2" cy="78.1" r="0.55" fill="#3040a0"/><circle cx="194.8" cy="79.6" r="0.55" fill="#3040a0"/><circle cx="199.5" cy="80.9" r="0.55" fill="#3040a0"/><circle cx="204.1" cy="82.1" r="0.55" fill="#3040a0"/><circle cx="208.8" cy="83.2" r="0.55" fill="#3040a0"/><circle cx="213.4" cy="84.1" r="0.55" fill="#3040a0"/><circle cx="218.1" cy="85.0" r="0.55" fill="#3040a0"/><circle cx="222.7" cy="85.8" r="0.55" fill="#3040a0"/><circle cx="227.4" cy="86.5" r="0.55" fill="#3040a0"/><circle cx="232.0" cy="87.0" r="0.55" fill="#3040a0"/><circle cx="236.7" cy="87.2" r="0.55" fill="#3040a0"/><circle cx="241.3" cy="87.3" r="0.55" fill="#3040a0"/>
<path d="M55.5 99.3 L57.4 99.3 L59.2 99.4 L61.1 99.4 L62.9 99.4 L64.8 99.5 L66.6 99.5 L68.5 99.6 L70.3 99.6 L72.2 99.6 L74.0 99.7 L75.9 99.8 L77.8 99.8 L79.7 99.8 L81.6 99.9 L83.5 99.9 L85.4 100.0 L87.2 100.1 L88.9 100.2 L90.5 100.3 L92.0 100.4 L93.3 100.5 L94.5 100.7 L95.6 100.9 L96.6 101.1 L97.6 101.3 L98.5 101.5 L99.3 101.7 L100.2 102.0 L101.1 102.2 L102.0 102.5 L102.9 102.8 L103.8 103.1 L104.7 103.4 L105.6 103.7 L106.5 104.1 L107.4 104.4 L108.3 104.8 L109.2 105.1 L110.1 105.5 L111.0 105.8 L112.0 106.1 L112.9 106.4 L113.9 106.8 L114.9 107.1 L115.9 107.4 L117.0 107.7 L118.0 108.0 L119.0 108.3 L120.0 108.7 L121.0 109.0 L122.0 109.3 L123.0 109.7 L124.0 110.0 L125.0 110.4 L126.1 110.7 L127.1 111.1 L128.1 111.4 L129.1 111.8 L130.0 112.1 L131.0 112.5 L131.9 112.9 L132.8 113.2 L133.7 113.6 L134.6 114.0 L135.5 114.3 L136.4 114.7 L137.3 115.1 L138.2 115.5 L139.1 115.8 L140.0 116.2 L141.0 116.6 L142.0 117.0 L143.0 117.3 L144.1 117.7 L145.1 118.1 L146.2 118.5 L147.2 118.9 L148.2 119.3 L149.1 119.6 L150.0 120.0 L150.8 120.4 L151.6 120.7 L152.3 121.1 L152.9 121.4 L153.6 121.7 L154.2 122.1 L154.8 122.4 L155.5 122.8 L156.2 123.2 L157.0 123.6 L157.8 124.0 L158.7 124.5 L159.5 125.0 L160.4 125.5 L161.3 126.0 L162.2 126.5 L163.2 127.0 L164.1 127.5 L165.1 127.9 L166.0 128.4 L167.0 128.8 L167.9 129.3 L168.9 129.7 L169.9 130.1 L170.9 130.6 L172.0 131.0 L173.0 131.4 L174.0 131.8 L175.0 132.2 L176.0 132.6 L177.0 133.0 L178.0 133.4 L179.1 133.9 L180.1 134.3 L181.1 134.7 L182.1 135.1 L183.1 135.5 L184.1 135.9 L185.1 136.3 L186.0 136.6 L186.9 136.9 L187.7 137.2 L188.5 137.5 L189.3 137.7 L190.1 138.0 L190.8 138.2 L191.6 138.4 L192.4 138.6 L193.2 138.8 L194.0 139.0 L194.8 139.2 L195.6 139.3 L196.4 139.5 L197.1 139.6 L197.9 139.8 L198.8 139.9 L199.7 140.0 L200.7 140.1 L201.8 140.2 L203.0 140.3 L204.4 140.4 L205.8 140.5 L207.4 140.5 L209.0 140.6 L210.7 140.6 L212.5 140.7 L214.3 140.7 L216.2 140.7 L218.1 140.8 L220.0 140.8 L222.2 140.8 L224.4 140.8 L226.8 140.8 L229.2 140.8 L231.6 140.8 L234.0 140.8 L236.5 140.8 L238.9 140.8 L241.3 140.8 M55.5 113.3 L57.1 113.0 L58.6 112.7 L60.2 112.3 L61.8 112.0 L63.4 111.7 L65.0 111.3 L66.5 111.0 L68.1 110.7 L69.6 110.4 L71.0 110.1 L72.4 109.8 L73.8 109.5 L75.2 109.3 L76.5 109.0 L77.8 108.7 L79.1 108.5 L80.4 108.2 L81.6 107.9 L82.8 107.7 L84.0 107.4 L85.1 107.1 L86.2 106.8 L87.3 106.5 L88.3 106.2 L89.2 105.9 L90.2 105.6 L91.2 105.4 L92.1 105.1 L93.1 104.8 L94.0 104.6 L94.9 104.4 L95.9 104.1 L96.8 103.9 L97.7 103.7 L98.6 103.5 L99.5 103.3 L100.4 103.1 L101.3 103.0 L102.1 103.0 L103.0 103.0 L103.9 103.1 L104.8 103.3 L105.7 103.6 L106.6 103.9 L107.5 104.3 L108.4 104.7 L109.2 105.1 L110.1 105.5 L111.0 105.8 M55.5 132.1 L57.5 132.1 L59.5 132.2 L61.5 132.2 L63.5 132.2 L65.5 132.2 L67.5 132.3 L69.5 132.3 L71.4 132.3 L73.2 132.4 L75.0 132.4 L76.7 132.5 L78.3 132.5 L79.9 132.6 L81.4 132.7 L82.8 132.8 L84.3 132.9 L85.7 133.0 L87.1 133.0 L88.6 133.0 L90.0 133.0 L91.4 132.9 L92.9 132.8 L94.3 132.6 L95.7 132.4 L97.1 132.1 L98.5 131.9 L99.9 131.7 L101.3 131.4 L102.6 131.2 L104.0 131.0 L105.3 130.8 L106.6 130.7 L107.9 130.5 L109.1 130.3 L110.4 130.2 L111.6 130.0 L112.9 129.9 L114.2 129.7 L115.6 129.6 L117.0 129.4 L118.5 129.2 L120.0 129.1 L121.5 128.9 L123.1 128.7 L124.8 128.5 L126.4 128.3 L128.0 128.2 L129.7 128.0 L131.3 127.9 L133.0 127.8 L134.7 127.7 L136.4 127.6 L138.1 127.6 L139.8 127.5 L141.6 127.5 L143.3 127.4 L145.0 127.4 L146.7 127.4 L148.4 127.5 L150.0 127.5 L151.5 127.6 L152.9 127.7 L154.2 127.8 L155.4 127.9 L156.7 128.1 L158.0 128.2 L159.5 128.4 L161.1 128.5 L162.9 128.7 L165.0 128.9 L167.4 129.1 L170.1 129.3 L173.1 129.5 L176.2 129.7 L179.4 129.9 L182.6 130.2 L185.9 130.4 L189.1 130.6 L192.1 130.8 L195.0 131.0 L197.7 131.2 L200.4 131.4 L203.0 131.6 L205.5 131.7 L208.0 131.9 L210.5 132.1 L212.9 132.2 L215.3 132.4 L217.7 132.5 L220.0 132.6 L222.5 132.7 L225.0 132.8 L227.4 132.8 L229.7 132.9 L232.0 132.9 L234.3 133.0 L236.6 133.0 L239.0 133.1 L241.3 133.1 M55.5 136.9 L57.5 136.8 L59.5 136.6 L61.5 136.5 L63.5 136.4 L65.5 136.2 L67.5 136.1 L69.5 136.0 L71.4 135.8 L73.2 135.7 L75.0 135.5 L76.7 135.3 L78.3 135.1 L79.9 134.9 L81.4 134.6 L82.8 134.4 L84.3 134.2 L85.7 134.0 L87.1 133.8 L88.6 133.6 L90.0 133.5 L91.4 133.4 L92.9 133.4 L94.3 133.3 L95.7 133.3 L97.1 133.3 L98.5 133.3 L99.9 133.4 L101.3 133.4 L102.6 133.5 L104.0 133.5 L105.3 133.6 L106.6 133.6 L107.9 133.7 L109.1 133.8 L110.4 133.9 L111.6 134.0 L112.9 134.1 L114.2 134.3 L115.6 134.4 L117.0 134.5 L118.5 134.6 L120.0 134.7 L121.5 134.9 L123.1 135.0 L124.8 135.1 L126.4 135.3 L128.0 135.4 L129.7 135.5 L131.3 135.7 L133.0 135.8 L134.6 135.9 L136.2 136.1 L137.8 136.2 L139.3 136.4 L140.9 136.5 L142.6 136.7 L144.3 136.8 L146.1 136.9 L148.0 137.1 L150.0 137.2 L152.2 137.3 L154.6 137.4 L157.1 137.5 L159.7 137.6 L162.3 137.7 L165.0 137.8 L167.6 137.9 L170.2 138.0 L172.7 138.1 L175.0 138.2 L177.2 138.3 L179.2 138.5 L181.2 138.7 L183.1 138.8 L185.0 139.0 L186.9 139.2 L188.8 139.4 L190.8 139.5 L192.8 139.7 L195.0 139.8 L197.3 139.9 L199.7 140.0 L202.2 140.1 L204.8 140.2 L207.4 140.3 L210.0 140.4 L212.6 140.4 L215.2 140.5 L217.6 140.5 L220.0 140.6 L222.5 140.6 L225.0 140.7 L227.4 140.7 L229.7 140.7 L232.0 140.7 L234.3 140.8 L236.6 140.8 L239.0 140.8 L241.3 140.8 M55.5 149.3 L57.0 149.5 L58.6 149.7 L60.1 149.9 L61.7 150.1 L63.2 150.3 L64.8 150.5 L66.3 150.7 L67.9 151.0 L69.4 151.3 L71.0 151.6 L72.6 152.0 L74.2 152.4 L75.8 152.8 L77.4 153.3 L79.0 153.7 L80.6 154.2 L82.2 154.7 L83.8 155.2 L85.4 155.7 L87.0 156.1 L88.6 156.5 L90.2 156.9 L91.8 157.3 L93.4 157.7 L95.0 158.1 L96.6 158.5 L98.2 158.9 L99.8 159.3 L101.4 159.7 L103.0 160.1 L104.6 160.6 L106.2 161.0 L107.8 161.5 L109.4 162.0 L111.0 162.5 L112.6 163.0 L114.2 163.5 L115.8 164.0 L117.4 164.4 L119.0 164.9 L120.6 165.3 L122.3 165.7 L123.9 166.1 L125.6 166.5 L127.2 166.9 L128.9 167.3 L130.5 167.7 L132.1 168.1 L133.6 168.5 L135.0 168.9 L136.3 169.3 L137.6 169.8 L138.8 170.2 L139.9 170.7 L141.0 171.2 L142.1 171.7 L143.2 172.1 L144.4 172.6 L145.7 173.0 L147.0 173.5 L148.4 174.0 L149.9 174.4 L151.5 174.9 L153.1 175.3 L154.8 175.8 L156.4 176.2 L158.1 176.7 L159.7 177.1 L161.4 177.4 L163.0 177.8 L164.6 178.1 L166.2 178.4 L167.8 178.7 L169.4 178.9 L171.0 179.2 L172.6 179.4 L174.2 179.6 L175.8 179.8 L177.4 180.0 L179.0 180.2 L180.6 180.4 L182.2 180.6 L183.8 180.8 L185.4 181.0 L187.0 181.2 L188.6 181.4 L190.2 181.6 L191.8 181.7 L193.4 181.9 L195.0 182.1 L196.5 182.3 L198.0 182.4 L199.3 182.6 L200.7 182.8 L202.1 182.9 L203.6 183.1 L205.1 183.2 L206.9 183.4 L208.8 183.5 L211.0 183.7 L213.7 183.9 L216.8 184.1 L220.0 184.3 L223.5 184.5 L227.0 184.7 L230.7 184.9 L234.3 185.1 L237.9 185.3 L241.3 185.5 M55.5 162.5 L57.0 162.5 L58.6 162.4 L60.1 162.4 L61.7 162.3 L63.2 162.3 L64.8 162.2 L66.3 162.2 L67.9 162.1 L69.4 162.1 L71.0 162.0 L72.6 161.9 L74.2 161.8 L75.8 161.7 L77.4 161.6 L79.0 161.4 L80.6 161.3 L82.2 161.2 L83.8 161.1 L85.4 161.0 L87.0 160.9 L88.6 160.8 L90.2 160.8 L91.8 160.7 L93.4 160.7 L95.0 160.6 L96.6 160.6 L98.2 160.6 L99.8 160.6 L101.4 160.6 L103.0 160.6 L104.6 160.7 L106.2 160.7 L107.8 160.8 L109.4 160.9 L111.0 161.0 L112.6 161.2 L114.2 161.3 L115.8 161.4 L117.4 161.6 L119.0 161.7 L120.6 161.8 L122.3 162.0 L123.9 162.1 L125.6 162.3 L127.2 162.5 L128.9 162.6 L130.5 162.8 L132.1 163.0 L133.6 163.1 L135.0 163.3 L136.3 163.5 L137.6 163.6 L138.8 163.8 L139.9 163.9 L141.0 164.1 L142.1 164.2 L143.2 164.4 L144.4 164.5 L145.7 164.7 L147.0 164.9 L148.4 165.1 L149.9 165.3 L151.5 165.5 L153.1 165.8 L154.8 166.0 L156.4 166.2 L158.1 166.5 L159.7 166.8 L161.4 167.0 L163.0 167.3 L164.6 167.6 L166.2 167.9 L167.8 168.2 L169.4 168.6 L171.0 168.9 L172.6 169.2 L174.2 169.6 L175.8 169.9 L177.4 170.2 L179.0 170.5 L180.6 170.8 L182.2 171.1 L183.8 171.3 L185.4 171.6 L187.0 171.9 L188.6 172.1 L190.2 172.3 L191.8 172.6 L193.4 172.8 L195.0 173.0 L196.5 173.2 L198.0 173.4 L199.3 173.5 L200.7 173.7 L202.1 173.9 L203.6 174.0 L205.1 174.1 L206.9 174.3 L208.8 174.4 L211.0 174.6 L213.7 174.8 L216.8 175.0 L220.0 175.1 L223.5 175.3 L227.0 175.5 L230.7 175.7 L234.3 175.8 L237.9 176.0 L241.3 176.2 M55.5 191.1 L65.0 191.1 L74.5 191.2 L84.0 191.2 L93.5 191.2 L103.0 191.3 L112.4 191.3 L121.9 191.4 L131.3 191.4 L140.7 191.4 L150.0 191.5 L160.3 191.6 L170.5 191.6 L180.7 191.7 L190.8 191.8 L200.9 191.9 L211.0 192.0 L221.1 192.0 L231.2 192.1 L241.3 192.2 M55.5 211.1 L57.2 211.1 L58.9 211.1 L60.7 211.1 L62.4 211.1 L64.2 211.1 L65.9 211.1 L67.5 211.1 L69.1 211.1 L70.6 211.1 L72.0 211.1 L73.3 211.1 L74.4 211.1 L75.5 211.2 L76.6 211.2 L77.5 211.2 L78.5 211.3 L79.4 211.3 L80.2 211.3 L81.1 211.3 L82.0 211.3 L82.9 211.3 L83.8 211.2 L84.7 211.1 L85.6 211.1 L86.4 211.0 L87.2 210.9 L88.0 210.8 L88.7 210.7 L89.4 210.6 L90.0 210.5 L90.6 210.4 L91.1 210.3 L91.5 210.2 L91.9 210.1 L92.2 210.0 L92.6 209.8 L92.9 209.7 L93.2 209.6 L93.6 209.5 M55.5 216.5 L56.4 216.4 L57.3 216.4 L58.2 216.3 L59.1 216.3 L60.0 216.2 L60.9 216.2 L61.8 216.1 L62.7 216.0 L63.7 216.0 L64.6 215.9 L65.5 215.8 L66.5 215.8 L67.5 215.7 L68.4 215.6 L69.4 215.6 L70.4 215.5 L71.4 215.4 L72.4 215.3 L73.3 215.2 L74.3 215.1 L75.3 215.0 L76.2 214.8 L77.2 214.7 L78.1 214.5 L79.1 214.3 L80.1 214.1 L81.0 213.9 L82.0 213.7 L82.9 213.5 L83.9 213.2 L84.9 212.9 L85.8 212.6 L86.8 212.2 L87.8 211.8 L88.8 211.4 L89.7 211.0 L90.7 210.6 L91.7 210.2 L92.6 209.9 L93.6 209.5 L94.6 209.2 L95.5 208.8 L96.5 208.5 L97.4 208.2 L98.4 207.9 L99.4 207.6 L100.3 207.3 L101.3 207.0 L102.2 206.6 L103.2 206.3 L104.2 205.9 L105.1 205.6 L106.1 205.2 L107.1 204.9 L108.0 204.5 L109.0 204.1 L110.0 203.7 L111.0 203.3 L111.9 202.9 L112.9 202.5 L113.9 202.0 L114.9 201.6 L115.9 201.1 L116.8 200.6 L117.8 200.0 L118.8 199.5 L119.8 199.0 L120.7 198.5 L121.6 198.0 L122.5 197.5 L123.3 197.0 L124.1 196.6 L124.9 196.1 L125.7 195.7 L126.4 195.2 L127.1 194.8 L127.9 194.3 L128.6 193.9 L129.3 193.4 L130.0 193.0 L130.7 192.5 L131.4 192.1 L132.2 191.6 L132.9 191.2 L133.6 190.7 L134.3 190.3 L135.0 189.8 L135.6 189.4 L136.3 188.9 L137.0 188.5 L137.7 188.1 L138.3 187.7 L139.0 187.3 L139.6 186.9 L140.2 186.5 L140.9 186.2 L141.5 185.8 L142.1 185.4 L142.8 185.0 L143.4 184.6 L144.1 184.2 L144.7 183.8 L145.4 183.4 L146.0 182.9 L146.7 182.5 L147.4 182.1 L148.0 181.6 L148.7 181.2 L149.3 180.8 L150.0 180.3 L150.6 179.8 L151.3 179.4 L151.9 178.9 L152.5 178.5 L153.1 178.0 L153.7 177.5 L154.4 177.0 L155.1 176.5 L155.8 176.0 L156.6 175.4 L157.4 174.8 L158.3 174.2 L159.3 173.5 L160.3 172.8 L161.3 172.2 L162.3 171.5 L163.3 170.8 L164.3 170.1 L165.3 169.5 L166.3 168.9 L167.3 168.3 L168.2 167.8 L169.2 167.2 L170.2 166.7 L171.2 166.2 L172.1 165.7 L173.1 165.2 L174.1 164.7 L175.0 164.2 L176.0 163.8 L177.0 163.4 L177.9 163.0 L178.9 162.6 L179.8 162.2 L180.8 161.8 L181.8 161.5 L182.7 161.1 L183.7 160.8 L184.6 160.4 L185.6 160.1 L186.6 159.8 L187.5 159.4 L188.5 159.0 L189.4 158.7 L190.4 158.4 L191.3 158.0 L192.3 157.7 L193.3 157.4 L194.2 157.1 L195.2 156.9 L196.2 156.7 L197.2 156.5 L198.1 156.3 L199.1 156.2 L200.1 156.1 L201.1 155.9 L202.1 155.8 L203.1 155.8 L204.0 155.7 L205.0 155.6 L205.9 155.5 L206.9 155.5 L207.8 155.4 L208.7 155.4 L209.6 155.4 L210.5 155.4 L211.4 155.4 L212.4 155.4 L213.4 155.4 L214.5 155.4 L215.6 155.4 L216.8 155.4 L218.0 155.5 L219.2 155.5 L220.5 155.6 L221.7 155.6 L223.0 155.7 L224.3 155.7 L225.7 155.8 L227.0 155.8 L228.5 155.8 L230.1 155.9 L231.6 155.9 L233.2 155.9 L234.8 156.0 L236.5 156.0 L238.1 156.0 L239.7 156.1 L241.3 156.1 M55.5 220.7 L56.5 220.7 L57.4 220.7 L58.4 220.6 L59.3 220.6 L60.3 220.6 L61.2 220.6 L62.2 220.5 L63.1 220.5 L64.1 220.5 L65.0 220.4 L65.9 220.3 L66.9 220.2 L67.8 220.2 L68.7 220.1 L69.6 220.0 L70.6 219.8 L71.5 219.7 L72.4 219.6 L73.4 219.5 L74.3 219.4 L75.3 219.3 L76.2 219.2 L77.2 219.1 L78.2 219.0 L79.1 218.9 L80.1 218.7 L81.1 218.6 L82.1 218.5 L83.0 218.4 L84.0 218.3 L85.0 218.2 L85.9 218.1 L86.9 218.0 L87.8 217.8 L88.8 217.7 L89.8 217.6 L90.7 217.5 L91.7 217.4 L92.6 217.3 L93.6 217.2 L94.6 217.1 L95.5 217.1 L96.5 217.0 L97.4 216.9 L98.4 216.9 L99.3 216.8 L100.3 216.8 L101.3 216.8 L102.2 216.7 L103.2 216.7 L104.2 216.7 L105.2 216.7 L106.1 216.6 L107.1 216.6 L108.1 216.6 L109.1 216.6 L110.1 216.6 L111.1 216.7 L112.0 216.7 L113.0 216.7 L114.0 216.7 L114.9 216.8 L115.9 216.8 L116.8 216.8 L117.8 216.9 L118.7 216.9 L119.7 217.0 L120.6 217.1 L121.6 217.1 L122.5 217.2 L123.4 217.3 L124.4 217.4 L125.3 217.5 L126.3 217.6 L127.2 217.7 L128.2 217.8 L129.1 218.0 L130.1 218.1 L131.0 218.2 L132.0 218.3 L133.0 218.4 L134.0 218.5 L135.0 218.6 L136.1 218.8 L137.1 218.9 L138.1 219.0 L139.1 219.1 L140.1 219.2 L141.1 219.3 L142.0 219.4 L142.9 219.5 L143.8 219.6 L144.6 219.6 L145.4 219.7 L146.2 219.8 L147.0 219.9 L147.8 219.9 L148.5 220.0 L149.3 220.1 L150.0 220.2 L150.7 220.3 L151.4 220.4 L152.0 220.5 L152.6 220.6 L153.2 220.7 L153.8 220.9 L154.4 221.0 L155.1 221.2 L155.8 221.3 L156.6 221.5 L157.4 221.7 L158.3 221.9 L159.3 222.2 L160.3 222.4 L161.3 222.7 L162.3 222.9 L163.3 223.2 L164.3 223.4 L165.3 223.7 L166.3 223.9 L167.3 224.1 L168.2 224.3 L169.2 224.5 L170.2 224.7 L171.2 224.9 L172.1 225.1 L173.1 225.2 L174.1 225.4 L175.0 225.7 L176.0 225.9 L177.0 226.2 L177.9 226.4 L178.9 226.7 L179.8 227.0 L180.8 227.3 L181.8 227.6 L182.7 227.9 L183.7 228.2 L184.6 228.5 L185.6 228.8 L186.6 229.1 L187.5 229.4 L188.5 229.7 L189.4 230.0 L190.4 230.3 L191.3 230.6 L192.3 230.9 L193.3 231.2 L194.2 231.4 L195.2 231.7 L196.2 232.0 L197.2 232.2 L198.1 232.5 L199.1 232.7 L200.1 233.0 L201.1 233.2 L202.1 233.4 L203.1 233.7 L204.0 233.9 L205.0 234.1 L206.0 234.3 L206.9 234.5 L207.9 234.7 L208.8 234.9 L209.8 235.1 L210.7 235.3 L211.7 235.5 L212.6 235.6 L213.6 235.8 L214.5 236.0 L215.4 236.2 L216.4 236.4 L217.3 236.5 L218.3 236.7 L219.2 236.9 L220.2 237.0 L221.1 237.2 L222.1 237.3 L223.0 237.5 L224.0 237.6 L225.0 237.7 L226.0 237.8 L227.0 237.9 L228.1 238.0 L229.1 238.1 L230.2 238.2 L231.2 238.2 L232.2 238.3 L233.1 238.3 L234.0 238.4 L234.9 238.5 L235.8 238.5 L236.6 238.5 L237.4 238.6 L238.2 238.6 L239.0 238.6 L239.7 238.6 L240.5 238.7 L241.3 238.7 M55.5 269.6 L57.8 269.6 L60.2 269.6 L62.5 269.6 L64.9 269.6 L67.2 269.7 L69.6 269.7 L71.9 269.7 L74.3 269.7 L76.6 269.8 L79.0 269.9 L81.4 270.0 L83.9 270.2 L86.5 270.3 L89.1 270.5 L91.7 270.7 L94.2 270.9 L96.6 271.1 L98.9 271.3 L101.0 271.5 L103.0 271.7 L104.8 271.9 L106.4 272.1 L107.9 272.2 L109.3 272.4 L110.6 272.6 L111.8 272.7 L113.0 272.9 L114.0 273.1 L115.0 273.2 L116.0 273.3 L117.0 273.4 L117.8 273.5 L118.5 273.5 L119.1 273.6 L119.7 273.6 L120.3 273.7 L120.8 273.7 L121.4 273.8 L122.0 273.8 M55.5 274.1 L58.6 274.1 L61.8 274.0 L64.9 274.0 L68.1 274.0 L71.2 273.9 L74.4 273.9 L77.5 273.9 L80.7 273.8 L83.8 273.8 L87.0 273.8 L90.2 273.8 L93.4 273.8 L96.6 273.7 L99.8 273.7 L103.0 273.7 L106.2 273.7 L109.5 273.7 L112.7 273.7 L115.8 273.7 L119.0 273.8 L122.1 273.9 L125.3 274.0 L128.4 274.2 L131.6 274.3 L134.7 274.5 L137.8 274.7 L140.9 274.9 L143.9 275.1 L147.0 275.2 L150.0 275.4 L153.0 275.6 L155.9 275.7 L158.8 275.9 L161.6 276.0 L164.4 276.2 L167.3 276.4 L170.1 276.5 L173.0 276.7 L176.0 276.8 L179.0 277.0 L182.1 277.2 L185.2 277.3 L188.4 277.5 L191.7 277.7 L194.9 277.9 L198.2 278.0 L201.4 278.2 L204.7 278.3 L207.9 278.5 L211.0 278.6 L214.4 278.7 L217.8 278.8 L221.2 278.9 L224.6 279.0 L227.9 279.0 L231.3 279.1 L234.6 279.2 L237.9 279.2 L241.3 279.3 M55.5 315.6 L56.9 315.6 L58.4 315.7 L59.8 315.7 L61.3 315.7 L62.7 315.7 L64.2 315.8 L65.6 315.8 L67.1 315.9 L68.5 315.9 L70.0 316.0 L71.5 316.1 L73.0 316.2 L74.5 316.3 L76.0 316.4 L77.5 316.5 L79.0 316.7 L80.5 316.8 L82.0 316.9 L83.5 317.1 L85.0 317.3 L86.5 317.4 L88.0 317.6 L89.5 317.8 L91.0 318.0 L92.5 318.2 L94.0 318.4 L95.5 318.7 L97.0 318.9 L98.5 319.1 L100.0 319.4 L101.5 319.7 L103.0 319.9 L104.5 320.2 L106.0 320.5 L107.5 320.8 L109.0 321.1 L110.5 321.4 L112.0 321.7 L113.5 322.1 L115.0 322.4 L116.5 322.7 L118.0 323.1 L119.5 323.5 L121.0 323.8 L122.5 324.2 L124.0 324.6 L125.5 325.0 L127.0 325.4 L128.5 325.8 L130.0 326.3 L131.5 326.7 L133.0 327.1 L134.5 327.6 L136.0 328.0 L137.5 328.5 L139.0 329.0 L140.5 329.5 L142.0 330.0 L143.5 330.5 L145.0 331.0 L146.5 331.5 L148.0 332.0 L149.5 332.6 L151.0 333.1 L152.5 333.7 L154.0 334.2 L155.5 334.8 L157.0 335.4 L158.5 336.0 L160.0 336.6 L161.5 337.2 L163.0 337.8 L164.5 338.4 L166.0 339.0 L167.5 339.7 L169.0 340.3 L170.5 341.0 L172.0 341.7 L173.5 342.3 L175.0 343.0 L176.7 343.8 L178.3 344.6 L180.0 345.4 L181.7 346.2 L183.3 347.0 L185.0 347.9 L186.7 348.7 L188.3 349.5 L190.0 350.3 M55.5 316.6 L56.9 316.6 L58.4 316.7 L59.8 316.7 L61.3 316.7 L62.7 316.8 L64.2 316.8 L65.6 316.8 L67.1 316.9 L68.5 316.9 L70.0 317.0 L71.5 317.1 L73.0 317.2 L74.5 317.3 L76.0 317.4 L77.5 317.5 L79.0 317.7 L80.5 317.8 L82.0 318.0 L83.5 318.1 L85.0 318.3 L86.5 318.5 L88.0 318.7 L89.5 318.8 L91.0 319.0 L92.5 319.3 L94.0 319.5 L95.5 319.7 L97.0 319.9 L98.5 320.2 L100.0 320.4 L101.5 320.7 L103.0 321.0 L104.5 321.3 L106.0 321.5 L107.5 321.8 L109.0 322.2 L110.5 322.5 L112.0 322.8 L113.5 323.1 L115.0 323.5 L116.5 323.8 L118.0 324.2 L119.5 324.5 L121.0 324.9 L122.5 325.3 L124.0 325.7 L125.5 326.1 L127.0 326.5 L128.5 326.9 L130.0 327.4 L131.5 327.8 L133.0 328.3 L134.5 328.7 L136.0 329.2 L137.5 329.6 L139.0 330.1 L140.5 330.6 L142.0 331.1 L143.5 331.6 L145.0 332.1 L146.5 332.7 L148.0 333.2 L149.5 333.7 L151.0 334.3 L152.5 334.9 L154.0 335.4 L155.5 336.0 L157.0 336.6 L158.5 337.2 L160.0 337.8 L161.5 338.4 L163.0 339.0 L164.5 339.7 L166.0 340.3 L167.5 340.9 L169.0 341.6 L170.5 342.3 L172.0 342.9 L173.5 343.6 L175.0 344.3 L176.7 345.1 L178.3 345.9 L180.0 346.7 L181.7 347.5 L183.3 348.4 L185.0 349.2 L186.7 350.0 L188.3 350.9 L190.0 351.7 M55.5 318.6 L57.8 318.6 L60.2 318.5 L62.5 318.5 L64.9 318.4 L67.2 318.4 L69.6 318.3 L71.9 318.3 L74.3 318.2 L76.6 318.2 L79.0 318.1 L81.4 318.0 L83.8 317.9 L86.2 317.8 L88.6 317.8 L91.0 317.7 L93.4 317.5 L95.8 317.4 L98.2 317.3 L100.6 317.2 L103.0 317.0 L105.4 316.8 L107.8 316.6 L110.2 316.4 L112.6 316.2 L115.1 315.9 L117.5 315.7 L119.9 315.5 L122.3 315.3 L124.6 315.1 L127.0 314.9 L129.3 314.8 L131.7 314.6 L134.0 314.5 L136.4 314.4 L138.7 314.3 L141.0 314.2 L143.3 314.1 L145.5 314.0 L147.8 313.9 L150.0 313.8 L152.2 313.7 L154.3 313.5 L156.4 313.3 L158.4 313.2 L160.4 313.0 L162.5 312.8 L164.5 312.7 L166.6 312.5 L168.8 312.4 L171.0 312.2 L173.3 312.1 L175.6 311.9 L178.0 311.8 L180.4 311.6 L182.8 311.5 L185.3 311.4 L187.7 311.3 L190.2 311.1 L192.6 311.0 L195.0 310.9 L197.4 310.8 L199.8 310.7 L202.3 310.6 L204.7 310.4 L207.1 310.3 L209.5 310.2 L211.9 310.1 L214.3 310.1 L216.7 310.0 L219.0 309.9 L221.6 309.8 L224.1 309.8 L226.6 309.7 L229.0 309.7 L231.5 309.7 L233.9 309.7 L236.4 309.7 L238.8 309.6 L241.3 309.6 M55.5 337.7 L57.0 337.7 L58.6 337.8 L60.1 337.8 L61.7 337.8 L63.2 337.8 L64.8 337.9 L66.3 337.9 L67.9 338.0 L69.4 338.1 L71.0 338.2 L72.6 338.4 L74.2 338.5 L75.8 338.7 L77.4 338.9 L79.0 339.2 L80.6 339.4 L82.2 339.7 L83.8 340.0 L85.4 340.3 L87.0 340.6 L88.6 340.9 L90.2 341.3 L91.9 341.7 L93.5 342.2 L95.2 342.6 L96.8 343.1 L98.4 343.5 L100.0 343.9 L101.5 344.3 L103.0 344.7 L104.6 345.1 L106.1 345.4 L107.6 345.8 L109.0 346.1 L110.4 346.4 L111.8 346.7 L113.2 347.0 L114.6 347.3 L116.0 347.6 M55.5 338.8 L57.1 338.9 L58.6 338.9 L60.2 339.0 L61.8 339.0 L63.3 339.1 L64.9 339.2 L66.5 339.2 L68.0 339.3 L69.5 339.4 L71.0 339.6 L72.5 339.8 L73.9 340.0 L75.3 340.2 L76.7 340.4 L78.1 340.7 L79.5 341.0 L80.8 341.3 L82.2 341.6 L83.6 341.9 L85.0 342.2 L86.4 342.6 L88.0 343.0 L89.5 343.4 L91.1 343.8 L92.7 344.3 L94.2 344.7 L95.6 345.1 L96.9 345.5 L98.0 345.9 L99.0 346.2 L99.8 346.5 L100.4 346.7 L100.8 346.9 L101.1 347.0 L101.3 347.1 L101.4 347.2 L101.5 347.3 L101.7 347.5 L102.0 347.6" fill="none" stroke="#505050" stroke-width="0.8"/>
<circle cx="55.5" cy="99.3" r="1.35" fill="#5a1850"/><circle cx="60.1" cy="99.4" r="1.35" fill="#5a1850"/><circle cx="64.8" cy="99.5" r="1.35" fill="#5a1850"/><circle cx="69.4" cy="99.6" r="1.35" fill="#5a1850"/><circle cx="74.1" cy="99.7" r="1.35" fill="#5a1850"/><circle cx="78.7" cy="99.8" r="1.35" fill="#5a1850"/><circle cx="83.4" cy="99.9" r="1.35" fill="#5a1850"/><circle cx="88.0" cy="100.1" r="1.35" fill="#5a1850"/><circle cx="92.7" cy="100.5" r="1.35" fill="#5a1850"/><circle cx="97.3" cy="101.2" r="1.35" fill="#5a1850"/><circle cx="102.0" cy="102.5" r="1.35" fill="#5a1850"/><circle cx="106.6" cy="104.1" r="1.35" fill="#5a1850"/><circle cx="111.2" cy="105.9" r="1.35" fill="#5a1850"/><circle cx="115.9" cy="107.4" r="1.35" fill="#5a1850"/><circle cx="120.5" cy="108.8" r="1.35" fill="#5a1850"/><circle cx="125.2" cy="110.4" r="1.35" fill="#5a1850"/><circle cx="129.8" cy="112.1" r="1.35" fill="#5a1850"/><circle cx="134.5" cy="113.9" r="1.35" fill="#5a1850"/><circle cx="139.1" cy="115.8" r="1.35" fill="#5a1850"/><circle cx="143.8" cy="117.6" r="1.35" fill="#5a1850"/><circle cx="148.4" cy="119.3" r="1.35" fill="#5a1850"/><circle cx="153.0" cy="121.5" r="1.35" fill="#5a1850"/><circle cx="157.7" cy="124.0" r="1.35" fill="#5a1850"/><circle cx="162.3" cy="126.5" r="1.35" fill="#5a1850"/><circle cx="167.0" cy="128.9" r="1.35" fill="#5a1850"/><circle cx="171.6" cy="130.8" r="1.35" fill="#5a1850"/><circle cx="176.3" cy="132.7" r="1.35" fill="#5a1850"/><circle cx="180.9" cy="134.6" r="1.35" fill="#5a1850"/><circle cx="185.6" cy="136.4" r="1.35" fill="#5a1850"/><circle cx="190.2" cy="138.0" r="1.35" fill="#5a1850"/><circle cx="194.8" cy="139.2" r="1.35" fill="#5a1850"/><circle cx="199.5" cy="140.0" r="2.0" fill="none" stroke="#6fe06f" stroke-width="1"/><circle cx="199.5" cy="140.0" r="1.3" fill="#5a1a2a"/><circle cx="204.1" cy="140.4" r="2.0" fill="none" stroke="#6fe06f" stroke-width="1"/><circle cx="204.1" cy="140.4" r="1.3" fill="#5a1a2a"/><circle cx="208.8" cy="140.6" r="2.0" fill="none" stroke="#6fe06f" stroke-width="1"/><circle cx="208.8" cy="140.6" r="1.3" fill="#5a1a2a"/><circle cx="213.4" cy="140.7" r="2.0" fill="none" stroke="#6fe06f" stroke-width="1"/><circle cx="213.4" cy="140.7" r="1.3" fill="#5a1a2a"/><circle cx="218.1" cy="140.8" r="2.0" fill="none" stroke="#6fe06f" stroke-width="1"/><circle cx="218.1" cy="140.8" r="1.3" fill="#5a1a2a"/><circle cx="222.7" cy="140.8" r="2.0" fill="none" stroke="#6fe06f" stroke-width="1"/><circle cx="222.7" cy="140.8" r="1.3" fill="#5a1a2a"/><circle cx="227.4" cy="140.8" r="2.0" fill="none" stroke="#6fe06f" stroke-width="1"/><circle cx="227.4" cy="140.8" r="1.3" fill="#5a1a2a"/><circle cx="232.0" cy="140.8" r="2.0" fill="none" stroke="#6fe06f" stroke-width="1"/><circle cx="232.0" cy="140.8" r="1.3" fill="#5a1a2a"/><circle cx="236.7" cy="140.8" r="2.0" fill="none" stroke="#6fe06f" stroke-width="1"/><circle cx="236.7" cy="140.8" r="1.3" fill="#5a1a2a"/><circle cx="241.3" cy="140.8" r="2.0" fill="none" stroke="#6fe06f" stroke-width="1"/><circle cx="241.3" cy="140.8" r="1.3" fill="#5a1a2a"/><circle cx="55.5" cy="113.3" r="1.35" fill="#5a1850"/><circle cx="60.1" cy="112.3" r="1.35" fill="#5a1850"/><circle cx="64.8" cy="111.4" r="1.35" fill="#5a1850"/><circle cx="69.4" cy="110.4" r="1.35" fill="#5a1850"/><circle cx="74.1" cy="109.5" r="1.35" fill="#5a1850"/><circle cx="78.7" cy="108.5" r="1.35" fill="#5a1850"/><circle cx="83.4" cy="107.5" r="1.35" fill="#5a1850"/><circle cx="88.0" cy="106.3" r="1.35" fill="#5a1850"/><circle cx="92.7" cy="104.9" r="1.35" fill="#5a1850"/><circle cx="97.3" cy="103.8" r="1.35" fill="#5a1850"/><circle cx="102.0" cy="103.0" r="1.35" fill="#5a1850"/><circle cx="106.6" cy="103.9" r="1.35" fill="#5a1850"/><circle cx="111.2" cy="105.8" r="1.35" fill="#5a1850"/><circle cx="55.5" cy="132.1" r="2.0" fill="none" stroke="#6ee06e" stroke-width="1"/><circle cx="60.1" cy="132.2" r="2.0" fill="none" stroke="#6ee06e" stroke-width="1"/><circle cx="64.8" cy="132.2" r="2.0" fill="none" stroke="#6ee06e" stroke-width="1"/><circle cx="69.4" cy="132.3" r="2.0" fill="none" stroke="#6ee06e" stroke-width="1"/><circle cx="74.1" cy="132.4" r="2.0" fill="none" stroke="#6ee06e" stroke-width="1"/><circle cx="78.7" cy="132.6" r="2.0" fill="none" stroke="#6ee06e" stroke-width="1"/><circle cx="83.4" cy="132.9" r="2.0" fill="none" stroke="#6ee06e" stroke-width="1"/><circle cx="88.0" cy="133.0" r="2.0" fill="none" stroke="#6ee06e" stroke-width="1"/><circle cx="92.7" cy="132.8" r="2.0" fill="none" stroke="#6ee06e" stroke-width="1"/><circle cx="97.3" cy="132.1" r="2.0" fill="none" stroke="#6ee06e" stroke-width="1"/><circle cx="102.0" cy="131.3" r="2.0" fill="none" stroke="#6ee06e" stroke-width="1"/><circle cx="106.6" cy="130.7" r="2.0" fill="none" stroke="#6ee06e" stroke-width="1"/><circle cx="111.2" cy="130.1" r="2.0" fill="none" stroke="#6ee06e" stroke-width="1"/><circle cx="115.9" cy="129.5" r="2.0" fill="none" stroke="#6ee06e" stroke-width="1"/><circle cx="120.5" cy="129.0" r="2.0" fill="none" stroke="#6ee06e" stroke-width="1"/><circle cx="125.2" cy="128.5" r="2.0" fill="none" stroke="#6ee06e" stroke-width="1"/><circle cx="129.8" cy="128.0" r="2.0" fill="none" stroke="#6ee06e" stroke-width="1"/><circle cx="134.5" cy="127.7" r="2.0" fill="none" stroke="#6ee06e" stroke-width="1"/><circle cx="139.1" cy="127.5" r="2.0" fill="none" stroke="#6ee06e" stroke-width="1"/><circle cx="143.8" cy="127.4" r="2.0" fill="none" stroke="#6ee06e" stroke-width="1"/><circle cx="148.4" cy="127.5" r="2.0" fill="none" stroke="#6ee06e" stroke-width="1"/><circle cx="153.0" cy="127.7" r="2.0" fill="none" stroke="#6ee06e" stroke-width="1"/><circle cx="157.7" cy="128.2" r="2.0" fill="none" stroke="#6ee06e" stroke-width="1"/><circle cx="162.3" cy="128.7" r="2.0" fill="none" stroke="#6ee06e" stroke-width="1"/><circle cx="167.0" cy="129.1" r="2.0" fill="none" stroke="#6ee06e" stroke-width="1"/><circle cx="171.6" cy="129.4" r="2.0" fill="none" stroke="#6ee06e" stroke-width="1"/><circle cx="176.3" cy="129.7" r="2.0" fill="none" stroke="#6ee06e" stroke-width="1"/><circle cx="180.9" cy="130.0" r="2.0" fill="none" stroke="#6ee06e" stroke-width="1"/><circle cx="185.6" cy="130.4" r="2.0" fill="none" stroke="#6ee06e" stroke-width="1"/><circle cx="190.2" cy="130.7" r="2.0" fill="none" stroke="#6ee06e" stroke-width="1"/><circle cx="194.8" cy="131.0" r="2.0" fill="none" stroke="#6ee06e" stroke-width="1"/><circle cx="199.5" cy="131.3" r="2.0" fill="none" stroke="#6ee06e" stroke-width="1"/><circle cx="204.1" cy="131.6" r="2.0" fill="none" stroke="#6ee06e" stroke-width="1"/><circle cx="208.8" cy="131.9" r="2.0" fill="none" stroke="#6ee06e" stroke-width="1"/><circle cx="213.4" cy="132.2" r="2.0" fill="none" stroke="#6ee06e" stroke-width="1"/><circle cx="218.1" cy="132.5" r="2.0" fill="none" stroke="#6ee06e" stroke-width="1"/><circle cx="222.7" cy="132.7" r="2.0" fill="none" stroke="#6ee06e" stroke-width="1"/><circle cx="227.4" cy="132.8" r="2.0" fill="none" stroke="#6ee06e" stroke-width="1"/><circle cx="232.0" cy="132.9" r="2.0" fill="none" stroke="#6ee06e" stroke-width="1"/><circle cx="236.7" cy="133.0" r="2.0" fill="none" stroke="#6ee06e" stroke-width="1"/><circle cx="241.3" cy="133.1" r="2.0" fill="none" stroke="#6ee06e" stroke-width="1"/><circle cx="55.5" cy="136.9" r="2.0" fill="none" stroke="#6ee06e" stroke-width="1"/><circle cx="60.1" cy="136.6" r="2.0" fill="none" stroke="#6ee06e" stroke-width="1"/><circle cx="64.8" cy="136.3" r="2.0" fill="none" stroke="#6ee06e" stroke-width="1"/><circle cx="69.4" cy="136.0" r="2.0" fill="none" stroke="#6ee06e" stroke-width="1"/><circle cx="74.1" cy="135.6" r="2.0" fill="none" stroke="#6ee06e" stroke-width="1"/><circle cx="78.7" cy="135.0" r="2.0" fill="none" stroke="#6ee06e" stroke-width="1"/><circle cx="83.4" cy="134.3" r="2.0" fill="none" stroke="#6ee06e" stroke-width="1"/><circle cx="88.0" cy="133.7" r="2.0" fill="none" stroke="#6ee06e" stroke-width="1"/><circle cx="92.7" cy="133.4" r="2.0" fill="none" stroke="#6ee06e" stroke-width="1"/><circle cx="97.3" cy="133.3" r="2.0" fill="none" stroke="#6ee06e" stroke-width="1"/><circle cx="102.0" cy="133.4" r="2.0" fill="none" stroke="#6ee06e" stroke-width="1"/><circle cx="106.6" cy="133.6" r="2.0" fill="none" stroke="#6ee06e" stroke-width="1"/><circle cx="111.2" cy="134.0" r="2.0" fill="none" stroke="#6ee06e" stroke-width="1"/><circle cx="115.9" cy="134.4" r="2.0" fill="none" stroke="#6ee06e" stroke-width="1"/><circle cx="120.5" cy="134.8" r="2.0" fill="none" stroke="#6ee06e" stroke-width="1"/><circle cx="125.2" cy="135.2" r="2.0" fill="none" stroke="#6ee06e" stroke-width="1"/><circle cx="129.8" cy="135.5" r="2.0" fill="none" stroke="#6ee06e" stroke-width="1"/><circle cx="134.5" cy="135.9" r="2.0" fill="none" stroke="#6ee06e" stroke-width="1"/><circle cx="139.1" cy="136.4" r="2.0" fill="none" stroke="#6ee06e" stroke-width="1"/><circle cx="143.8" cy="136.8" r="2.0" fill="none" stroke="#6ee06e" stroke-width="1"/><circle cx="148.4" cy="137.1" r="2.0" fill="none" stroke="#6ee06e" stroke-width="1"/><circle cx="153.0" cy="137.4" r="2.0" fill="none" stroke="#6ee06e" stroke-width="1"/><circle cx="157.7" cy="137.5" r="2.0" fill="none" stroke="#6ee06e" stroke-width="1"/><circle cx="162.3" cy="137.7" r="2.0" fill="none" stroke="#6ee06e" stroke-width="1"/><circle cx="167.0" cy="137.8" r="2.0" fill="none" stroke="#6ee06e" stroke-width="1"/><circle cx="171.6" cy="138.0" r="2.0" fill="none" stroke="#6ee06e" stroke-width="1"/><circle cx="176.3" cy="138.3" r="2.0" fill="none" stroke="#6ee06e" stroke-width="1"/><circle cx="180.9" cy="138.6" r="2.0" fill="none" stroke="#6ee06e" stroke-width="1"/><circle cx="185.6" cy="139.1" r="2.0" fill="none" stroke="#6ee06e" stroke-width="1"/><circle cx="190.2" cy="139.5" r="2.0" fill="none" stroke="#6ee06e" stroke-width="1"/><circle cx="194.8" cy="139.8" r="2.0" fill="none" stroke="#6ee06e" stroke-width="1"/><circle cx="199.5" cy="140.0" r="2.0" fill="none" stroke="#6ee06e" stroke-width="1"/><circle cx="204.1" cy="140.2" r="2.0" fill="none" stroke="#6ee06e" stroke-width="1"/><circle cx="208.8" cy="140.3" r="2.0" fill="none" stroke="#6ee06e" stroke-width="1"/><circle cx="213.4" cy="140.4" r="2.0" fill="none" stroke="#6ee06e" stroke-width="1"/><circle cx="218.1" cy="140.6" r="2.0" fill="none" stroke="#6ee06e" stroke-width="1"/><circle cx="222.7" cy="140.7" r="2.0" fill="none" stroke="#6ee06e" stroke-width="1"/><circle cx="227.4" cy="140.7" r="2.0" fill="none" stroke="#6ee06e" stroke-width="1"/><circle cx="232.0" cy="140.7" r="2.0" fill="none" stroke="#6ee06e" stroke-width="1"/><circle cx="236.7" cy="140.8" r="2.0" fill="none" stroke="#6ee06e" stroke-width="1"/><circle cx="241.3" cy="140.8" r="2.0" fill="none" stroke="#6ee06e" stroke-width="1"/><circle cx="55.5" cy="149.3" r="1.45" fill="#3cae3c"/><circle cx="60.1" cy="149.9" r="1.45" fill="#3cae3c"/><circle cx="64.8" cy="150.5" r="1.45" fill="#3cae3c"/><circle cx="69.4" cy="151.3" r="1.45" fill="#3cae3c"/><circle cx="74.1" cy="152.3" r="1.45" fill="#3cae3c"/><circle cx="78.7" cy="153.7" r="1.45" fill="#3cae3c"/><circle cx="83.4" cy="155.1" r="1.45" fill="#3cae3c"/><circle cx="88.0" cy="156.4" r="1.45" fill="#3cae3c"/><circle cx="92.7" cy="157.5" r="1.45" fill="#3cae3c"/><circle cx="97.3" cy="158.6" r="1.45" fill="#3cae3c"/><circle cx="102.0" cy="159.8" r="1.45" fill="#3cae3c"/><circle cx="106.6" cy="161.1" r="1.45" fill="#3cae3c"/><circle cx="111.2" cy="162.6" r="1.45" fill="#3cae3c"/><circle cx="115.9" cy="164.0" r="1.45" fill="#3cae3c"/><circle cx="120.5" cy="165.3" r="1.45" fill="#3cae3c"/><circle cx="125.2" cy="166.4" r="1.45" fill="#3cae3c"/><circle cx="129.8" cy="167.5" r="1.45" fill="#3cae3c"/><circle cx="134.5" cy="168.7" r="1.45" fill="#3cae3c"/><circle cx="139.1" cy="170.4" r="1.45" fill="#3cae3c"/><circle cx="143.8" cy="172.3" r="1.45" fill="#3cae3c"/><circle cx="148.4" cy="173.9" r="1.45" fill="#3cae3c"/><circle cx="153.0" cy="175.3" r="1.45" fill="#3cae3c"/><circle cx="157.7" cy="176.6" r="1.45" fill="#3cae3c"/><circle cx="162.3" cy="177.7" r="1.8" fill="#5cc85c" stroke="#3a9a3a" stroke-width="0.5"/><circle cx="167.0" cy="178.5" r="1.8" fill="#5cc85c" stroke="#3a9a3a" stroke-width="0.5"/><circle cx="171.6" cy="179.2" r="1.8" fill="#5cc85c" stroke="#3a9a3a" stroke-width="0.5"/><circle cx="176.3" cy="179.8" r="1.8" fill="#5cc85c" stroke="#3a9a3a" stroke-width="0.5"/><circle cx="180.9" cy="180.5" r="1.8" fill="#5cc85c" stroke="#3a9a3a" stroke-width="0.5"/><circle cx="185.6" cy="181.0" r="1.8" fill="#5cc85c" stroke="#3a9a3a" stroke-width="0.5"/><circle cx="190.2" cy="181.6" r="1.8" fill="#5cc85c" stroke="#3a9a3a" stroke-width="0.5"/><circle cx="194.8" cy="182.1" r="1.8" fill="#5cc85c" stroke="#3a9a3a" stroke-width="0.5"/><circle cx="199.5" cy="182.6" r="1.8" fill="#5cc85c" stroke="#3a9a3a" stroke-width="0.5"/><circle cx="204.1" cy="183.1" r="1.8" fill="#5cc85c" stroke="#3a9a3a" stroke-width="0.5"/><circle cx="208.8" cy="183.5" r="1.8" fill="#5cc85c" stroke="#3a9a3a" stroke-width="0.5"/><circle cx="213.4" cy="183.9" r="1.8" fill="#5cc85c" stroke="#3a9a3a" stroke-width="0.5"/><circle cx="218.1" cy="184.2" r="1.8" fill="#5cc85c" stroke="#3a9a3a" stroke-width="0.5"/><circle cx="222.7" cy="184.4" r="1.8" fill="#5cc85c" stroke="#3a9a3a" stroke-width="0.5"/><circle cx="227.4" cy="184.7" r="1.8" fill="#5cc85c" stroke="#3a9a3a" stroke-width="0.5"/><circle cx="232.0" cy="185.0" r="1.8" fill="#5cc85c" stroke="#3a9a3a" stroke-width="0.5"/><circle cx="236.7" cy="185.2" r="1.8" fill="#5cc85c" stroke="#3a9a3a" stroke-width="0.5"/><circle cx="241.3" cy="185.5" r="1.8" fill="#5cc85c" stroke="#3a9a3a" stroke-width="0.5"/><circle cx="55.5" cy="162.5" r="1.45" fill="#3cae3c"/><circle cx="60.1" cy="162.4" r="1.45" fill="#3cae3c"/><circle cx="64.8" cy="162.2" r="1.45" fill="#3cae3c"/><circle cx="69.4" cy="162.1" r="1.45" fill="#3cae3c"/><circle cx="74.1" cy="161.8" r="1.45" fill="#3cae3c"/><circle cx="78.7" cy="161.5" r="1.45" fill="#3cae3c"/><circle cx="83.4" cy="161.1" r="1.45" fill="#3cae3c"/><circle cx="88.0" cy="160.9" r="1.45" fill="#3cae3c"/><circle cx="92.7" cy="160.7" r="1.45" fill="#3cae3c"/><circle cx="97.3" cy="160.6" r="1.45" fill="#3cae3c"/><circle cx="102.0" cy="160.6" r="1.45" fill="#3cae3c"/><circle cx="106.6" cy="160.7" r="1.45" fill="#3cae3c"/><circle cx="111.2" cy="161.0" r="1.45" fill="#3cae3c"/><circle cx="115.9" cy="161.4" r="1.45" fill="#3cae3c"/><circle cx="120.5" cy="161.8" r="1.45" fill="#3cae3c"/><circle cx="125.2" cy="162.3" r="1.45" fill="#3cae3c"/><circle cx="129.8" cy="162.7" r="1.45" fill="#3cae3c"/><circle cx="134.5" cy="163.2" r="1.45" fill="#3cae3c"/><circle cx="139.1" cy="163.8" r="1.45" fill="#3cae3c"/><circle cx="143.8" cy="164.4" r="1.45" fill="#3cae3c"/><circle cx="148.4" cy="165.1" r="1.45" fill="#3cae3c"/><circle cx="153.0" cy="165.8" r="1.45" fill="#3cae3c"/><circle cx="157.7" cy="166.4" r="1.45" fill="#3cae3c"/><circle cx="162.3" cy="167.2" r="1.8" fill="#5cc85c" stroke="#3a9a3a" stroke-width="0.5"/><circle cx="167.0" cy="168.1" r="1.8" fill="#5cc85c" stroke="#3a9a3a" stroke-width="0.5"/><circle cx="171.6" cy="169.0" r="1.8" fill="#5cc85c" stroke="#3a9a3a" stroke-width="0.5"/><circle cx="176.3" cy="170.0" r="1.8" fill="#5cc85c" stroke="#3a9a3a" stroke-width="0.5"/><circle cx="180.9" cy="170.8" r="1.8" fill="#5cc85c" stroke="#3a9a3a" stroke-width="0.5"/><circle cx="185.6" cy="171.6" r="1.8" fill="#5cc85c" stroke="#3a9a3a" stroke-width="0.5"/><circle cx="190.2" cy="172.3" r="1.8" fill="#5cc85c" stroke="#3a9a3a" stroke-width="0.5"/><circle cx="194.8" cy="173.0" r="1.8" fill="#5cc85c" stroke="#3a9a3a" stroke-width="0.5"/><circle cx="199.5" cy="173.6" r="1.8" fill="#5cc85c" stroke="#3a9a3a" stroke-width="0.5"/><circle cx="204.1" cy="174.1" r="1.8" fill="#5cc85c" stroke="#3a9a3a" stroke-width="0.5"/><circle cx="208.8" cy="174.4" r="1.8" fill="#5cc85c" stroke="#3a9a3a" stroke-width="0.5"/><circle cx="213.4" cy="174.8" r="1.8" fill="#5cc85c" stroke="#3a9a3a" stroke-width="0.5"/><circle cx="218.1" cy="175.0" r="1.8" fill="#5cc85c" stroke="#3a9a3a" stroke-width="0.5"/><circle cx="222.7" cy="175.3" r="1.8" fill="#5cc85c" stroke="#3a9a3a" stroke-width="0.5"/><circle cx="227.4" cy="175.5" r="1.8" fill="#5cc85c" stroke="#3a9a3a" stroke-width="0.5"/><circle cx="232.0" cy="175.7" r="1.8" fill="#5cc85c" stroke="#3a9a3a" stroke-width="0.5"/><circle cx="236.7" cy="176.0" r="1.8" fill="#5cc85c" stroke="#3a9a3a" stroke-width="0.5"/><circle cx="241.3" cy="176.2" r="1.8" fill="#5cc85c" stroke="#3a9a3a" stroke-width="0.5"/><circle cx="55.5" cy="191.1" r="2.0" fill="none" stroke="#e2424f" stroke-width="1.15"/><circle cx="55.5" cy="191.1" r="0.85" fill="#5060c0"/><circle cx="60.1" cy="191.1" r="2.0" fill="none" stroke="#e2424f" stroke-width="1.15"/><circle cx="60.1" cy="191.1" r="0.85" fill="#5060c0"/><circle cx="64.8" cy="191.1" r="2.0" fill="none" stroke="#e2424f" stroke-width="1.15"/><circle cx="64.8" cy="191.1" r="0.85" fill="#5060c0"/><circle cx="69.4" cy="191.2" r="2.0" fill="none" stroke="#e2424f" stroke-width="1.15"/><circle cx="69.4" cy="191.2" r="0.85" fill="#5060c0"/><circle cx="74.1" cy="191.2" r="2.0" fill="none" stroke="#e2424f" stroke-width="1.15"/><circle cx="74.1" cy="191.2" r="0.85" fill="#5060c0"/><circle cx="78.7" cy="191.2" r="2.0" fill="none" stroke="#e2424f" stroke-width="1.15"/><circle cx="78.7" cy="191.2" r="0.85" fill="#5060c0"/><circle cx="83.4" cy="191.2" r="2.0" fill="none" stroke="#e2424f" stroke-width="1.15"/><circle cx="83.4" cy="191.2" r="0.85" fill="#5060c0"/><circle cx="88.0" cy="191.2" r="2.0" fill="none" stroke="#e2424f" stroke-width="1.15"/><circle cx="88.0" cy="191.2" r="0.85" fill="#5060c0"/><circle cx="92.7" cy="191.2" r="2.0" fill="none" stroke="#e2424f" stroke-width="1.15"/><circle cx="92.7" cy="191.2" r="0.85" fill="#5060c0"/><circle cx="97.3" cy="191.3" r="2.0" fill="none" stroke="#e2424f" stroke-width="1.15"/><circle cx="97.3" cy="191.3" r="0.85" fill="#5060c0"/><circle cx="102.0" cy="191.3" r="2.0" fill="none" stroke="#e2424f" stroke-width="1.15"/><circle cx="102.0" cy="191.3" r="0.85" fill="#5060c0"/><circle cx="106.6" cy="191.3" r="2.0" fill="none" stroke="#e2424f" stroke-width="1.15"/><circle cx="106.6" cy="191.3" r="0.85" fill="#5060c0"/><circle cx="111.2" cy="191.3" r="2.0" fill="none" stroke="#e2424f" stroke-width="1.15"/><circle cx="111.2" cy="191.3" r="0.85" fill="#5060c0"/><circle cx="115.9" cy="191.3" r="2.0" fill="none" stroke="#e2424f" stroke-width="1.15"/><circle cx="115.9" cy="191.3" r="0.85" fill="#5060c0"/><circle cx="120.5" cy="191.4" r="2.0" fill="none" stroke="#e2424f" stroke-width="1.15"/><circle cx="120.5" cy="191.4" r="0.85" fill="#5060c0"/><circle cx="125.2" cy="191.4" r="2.0" fill="none" stroke="#e2424f" stroke-width="1.15"/><circle cx="125.2" cy="191.4" r="0.85" fill="#5060c0"/><circle cx="129.8" cy="191.4" r="2.0" fill="none" stroke="#e2424f" stroke-width="1.15"/><circle cx="129.8" cy="191.4" r="0.85" fill="#5060c0"/><circle cx="134.5" cy="191.4" r="2.0" fill="none" stroke="#e2424f" stroke-width="1.15"/><circle cx="134.5" cy="191.4" r="0.85" fill="#5060c0"/><circle cx="139.1" cy="191.4" r="2.0" fill="none" stroke="#e2424f" stroke-width="1.15"/><circle cx="139.1" cy="191.4" r="0.85" fill="#5060c0"/><circle cx="143.8" cy="191.5" r="2.0" fill="none" stroke="#e2424f" stroke-width="1.15"/><circle cx="143.8" cy="191.5" r="0.85" fill="#5060c0"/><circle cx="148.4" cy="191.5" r="2.0" fill="none" stroke="#e2424f" stroke-width="1.15"/><circle cx="148.4" cy="191.5" r="0.85" fill="#5060c0"/><circle cx="153.0" cy="191.5" r="2.0" fill="none" stroke="#e2424f" stroke-width="1.15"/><circle cx="153.0" cy="191.5" r="0.85" fill="#5060c0"/><circle cx="157.7" cy="191.5" r="2.0" fill="none" stroke="#e2424f" stroke-width="1.15"/><circle cx="157.7" cy="191.5" r="0.85" fill="#5060c0"/><circle cx="162.3" cy="191.6" r="2.0" fill="none" stroke="#e2424f" stroke-width="1.15"/><circle cx="162.3" cy="191.6" r="0.85" fill="#5060c0"/><circle cx="167.0" cy="191.6" r="2.0" fill="none" stroke="#e2424f" stroke-width="1.15"/><circle cx="167.0" cy="191.6" r="0.85" fill="#5060c0"/><circle cx="171.6" cy="191.6" r="2.0" fill="none" stroke="#e2424f" stroke-width="1.15"/><circle cx="171.6" cy="191.6" r="0.85" fill="#5060c0"/><circle cx="176.3" cy="191.7" r="2.0" fill="none" stroke="#e2424f" stroke-width="1.15"/><circle cx="176.3" cy="191.7" r="0.85" fill="#5060c0"/><circle cx="180.9" cy="191.7" r="2.0" fill="none" stroke="#e2424f" stroke-width="1.15"/><circle cx="180.9" cy="191.7" r="0.85" fill="#5060c0"/><circle cx="185.6" cy="191.7" r="2.0" fill="none" stroke="#e2424f" stroke-width="1.15"/><circle cx="185.6" cy="191.7" r="0.85" fill="#5060c0"/><circle cx="190.2" cy="191.8" r="2.0" fill="none" stroke="#e2424f" stroke-width="1.15"/><circle cx="190.2" cy="191.8" r="0.85" fill="#5060c0"/><circle cx="194.8" cy="191.8" r="2.0" fill="none" stroke="#e2424f" stroke-width="1.15"/><circle cx="194.8" cy="191.8" r="0.85" fill="#5060c0"/><circle cx="199.5" cy="191.9" r="2.0" fill="none" stroke="#e2424f" stroke-width="1.15"/><circle cx="199.5" cy="191.9" r="0.85" fill="#5060c0"/><circle cx="204.1" cy="191.9" r="2.0" fill="none" stroke="#e2424f" stroke-width="1.15"/><circle cx="204.1" cy="191.9" r="0.85" fill="#5060c0"/><circle cx="208.8" cy="191.9" r="2.0" fill="none" stroke="#e2424f" stroke-width="1.15"/><circle cx="208.8" cy="191.9" r="0.85" fill="#5060c0"/><circle cx="213.4" cy="192.0" r="2.0" fill="none" stroke="#e2424f" stroke-width="1.15"/><circle cx="213.4" cy="192.0" r="0.85" fill="#5060c0"/><circle cx="218.1" cy="192.0" r="2.0" fill="none" stroke="#e2424f" stroke-width="1.15"/><circle cx="218.1" cy="192.0" r="0.85" fill="#5060c0"/><circle cx="222.7" cy="192.1" r="2.0" fill="none" stroke="#e2424f" stroke-width="1.15"/><circle cx="222.7" cy="192.1" r="0.85" fill="#5060c0"/><circle cx="227.4" cy="192.1" r="2.0" fill="none" stroke="#e2424f" stroke-width="1.15"/><circle cx="227.4" cy="192.1" r="0.85" fill="#5060c0"/><circle cx="232.0" cy="192.1" r="2.0" fill="none" stroke="#e2424f" stroke-width="1.15"/><circle cx="232.0" cy="192.1" r="0.85" fill="#5060c0"/><circle cx="236.7" cy="192.2" r="2.0" fill="none" stroke="#e2424f" stroke-width="1.15"/><circle cx="236.7" cy="192.2" r="0.85" fill="#5060c0"/><circle cx="241.3" cy="192.2" r="2.0" fill="none" stroke="#e2424f" stroke-width="1.15"/><circle cx="241.3" cy="192.2" r="0.85" fill="#5060c0"/><circle cx="55.5" cy="211.1" r="1.1" fill="#2ea42e"/><circle cx="60.1" cy="211.1" r="1.1" fill="#2ea42e"/><circle cx="64.8" cy="211.1" r="1.1" fill="#2ea42e"/><circle cx="69.4" cy="211.1" r="1.1" fill="#2ea42e"/><circle cx="74.1" cy="211.1" r="1.1" fill="#2ea42e"/><circle cx="78.7" cy="211.3" r="1.25" fill="#8a3a1a"/><circle cx="83.4" cy="211.2" r="1.25" fill="#8a3a1a"/><circle cx="88.0" cy="210.8" r="1.25" fill="#8a3a1a"/><circle cx="92.7" cy="209.8" r="1.25" fill="#8a3a1a"/><circle cx="55.5" cy="216.5" r="2.0" fill="none" stroke="#d8303e" stroke-width="1.2"/><circle cx="55.5" cy="216.5" r="1.1" fill="#4a1a3a"/><circle cx="60.1" cy="216.2" r="2.0" fill="none" stroke="#d8303e" stroke-width="1.2"/><circle cx="60.1" cy="216.2" r="1.1" fill="#4a1a3a"/><circle cx="64.8" cy="215.9" r="2.0" fill="none" stroke="#d8303e" stroke-width="1.2"/><circle cx="64.8" cy="215.9" r="1.1" fill="#4a1a3a"/><circle cx="69.4" cy="215.6" r="2.0" fill="none" stroke="#d8303e" stroke-width="1.2"/><circle cx="69.4" cy="215.6" r="1.1" fill="#4a1a3a"/><circle cx="74.1" cy="215.1" r="2.0" fill="none" stroke="#d8303e" stroke-width="1.2"/><circle cx="74.1" cy="215.1" r="1.1" fill="#4a1a3a"/><circle cx="78.7" cy="214.4" r="2.0" fill="none" stroke="#d8303e" stroke-width="1.2"/><circle cx="78.7" cy="214.4" r="1.1" fill="#4a1a3a"/><circle cx="83.4" cy="213.3" r="2.0" fill="none" stroke="#d8303e" stroke-width="1.2"/><circle cx="83.4" cy="213.3" r="1.1" fill="#4a1a3a"/><circle cx="88.0" cy="211.7" r="2.0" fill="none" stroke="#d8303e" stroke-width="1.2"/><circle cx="88.0" cy="211.7" r="1.1" fill="#4a1a3a"/><circle cx="92.7" cy="209.8" r="2.0" fill="none" stroke="#d8303e" stroke-width="1.2"/><circle cx="92.7" cy="209.8" r="1.1" fill="#4a1a3a"/><circle cx="97.3" cy="208.3" r="2.0" fill="none" stroke="#d8303e" stroke-width="1.2"/><circle cx="97.3" cy="208.3" r="1.1" fill="#4a1a3a"/><circle cx="102.0" cy="206.7" r="2.0" fill="none" stroke="#d8303e" stroke-width="1.2"/><circle cx="102.0" cy="206.7" r="1.1" fill="#4a1a3a"/><circle cx="106.6" cy="205.1" r="2.0" fill="none" stroke="#d8303e" stroke-width="1.2"/><circle cx="106.6" cy="205.1" r="1.1" fill="#4a1a3a"/><circle cx="111.2" cy="203.2" r="2.0" fill="none" stroke="#d8303e" stroke-width="1.2"/><circle cx="111.2" cy="203.2" r="1.1" fill="#4a1a3a"/><circle cx="115.9" cy="201.1" r="2.0" fill="none" stroke="#d8303e" stroke-width="1.2"/><circle cx="115.9" cy="201.1" r="1.1" fill="#4a1a3a"/><circle cx="120.5" cy="198.6" r="2.0" fill="none" stroke="#d8303e" stroke-width="1.2"/><circle cx="120.5" cy="198.6" r="1.1" fill="#4a1a3a"/><circle cx="125.2" cy="196.0" r="2.0" fill="none" stroke="#d8303e" stroke-width="1.2"/><circle cx="125.2" cy="196.0" r="1.1" fill="#4a1a3a"/><circle cx="129.8" cy="193.1" r="2.0" fill="none" stroke="#d8303e" stroke-width="1.2"/><circle cx="129.8" cy="193.1" r="1.1" fill="#4a1a3a"/><circle cx="134.5" cy="190.1" r="2.0" fill="none" stroke="#d8303e" stroke-width="1.2"/><circle cx="134.5" cy="190.1" r="1.1" fill="#4a1a3a"/><circle cx="139.1" cy="187.2" r="2.0" fill="none" stroke="#d8303e" stroke-width="1.2"/><circle cx="139.1" cy="187.2" r="1.1" fill="#4a1a3a"/><circle cx="143.8" cy="184.4" r="2.0" fill="none" stroke="#d8303e" stroke-width="1.2"/><circle cx="143.8" cy="184.4" r="1.1" fill="#4a1a3a"/><circle cx="148.4" cy="181.4" r="2.0" fill="none" stroke="#d8303e" stroke-width="1.2"/><circle cx="148.4" cy="181.4" r="1.1" fill="#4a1a3a"/><circle cx="153.0" cy="178.0" r="2.0" fill="none" stroke="#d8303e" stroke-width="1.2"/><circle cx="153.0" cy="178.0" r="1.1" fill="#4a1a3a"/><circle cx="157.7" cy="174.6" r="2.0" fill="none" stroke="#d8303e" stroke-width="1.2"/><circle cx="157.7" cy="174.6" r="1.1" fill="#4a1a3a"/><circle cx="162.3" cy="171.4" r="2.0" fill="none" stroke="#d8303e" stroke-width="1.2"/><circle cx="162.3" cy="171.4" r="1.1" fill="#4a1a3a"/><circle cx="167.0" cy="168.5" r="2.0" fill="none" stroke="#d8303e" stroke-width="1.2"/><circle cx="167.0" cy="168.5" r="1.1" fill="#4a1a3a"/><circle cx="171.6" cy="165.9" r="2.0" fill="none" stroke="#d8303e" stroke-width="1.2"/><circle cx="171.6" cy="165.9" r="1.1" fill="#4a1a3a"/><circle cx="176.3" cy="163.7" r="2.0" fill="none" stroke="#d8303e" stroke-width="1.2"/><circle cx="176.3" cy="163.7" r="1.1" fill="#4a1a3a"/><circle cx="180.9" cy="161.8" r="2.0" fill="none" stroke="#d8303e" stroke-width="1.2"/><circle cx="180.9" cy="161.8" r="1.1" fill="#4a1a3a"/><circle cx="185.6" cy="160.1" r="2.0" fill="none" stroke="#d8303e" stroke-width="1.2"/><circle cx="185.6" cy="160.1" r="1.1" fill="#4a1a3a"/><circle cx="190.2" cy="158.4" r="2.0" fill="none" stroke="#d8303e" stroke-width="1.2"/><circle cx="190.2" cy="158.4" r="1.1" fill="#4a1a3a"/><circle cx="194.8" cy="157.0" r="2.0" fill="none" stroke="#d8303e" stroke-width="1.2"/><circle cx="194.8" cy="157.0" r="1.1" fill="#4a1a3a"/><circle cx="199.5" cy="156.1" r="2.0" fill="none" stroke="#d8303e" stroke-width="1.2"/><circle cx="199.5" cy="156.1" r="1.1" fill="#4a1a3a"/><circle cx="204.1" cy="155.7" r="2.0" fill="#5a1838" stroke="#d8303e" stroke-width="1.2"/><circle cx="208.8" cy="155.4" r="2.0" fill="#5a1838" stroke="#d8303e" stroke-width="1.2"/><circle cx="213.4" cy="155.4" r="2.0" fill="#5a1838" stroke="#d8303e" stroke-width="1.2"/><circle cx="218.1" cy="155.5" r="2.0" fill="#5a1838" stroke="#d8303e" stroke-width="1.2"/><circle cx="222.7" cy="155.7" r="2.0" fill="#5a1838" stroke="#d8303e" stroke-width="1.2"/><circle cx="227.4" cy="155.8" r="2.0" fill="#5a1838" stroke="#d8303e" stroke-width="1.2"/><circle cx="232.0" cy="155.9" r="2.0" fill="#5a1838" stroke="#d8303e" stroke-width="1.2"/><circle cx="236.7" cy="156.0" r="2.0" fill="#5a1838" stroke="#d8303e" stroke-width="1.2"/><circle cx="241.3" cy="156.1" r="2.0" fill="#5a1838" stroke="#d8303e" stroke-width="1.2"/><circle cx="55.5" cy="220.7" r="1.25" fill="#8a3a1a"/><circle cx="60.1" cy="220.6" r="1.25" fill="#8a3a1a"/><circle cx="64.8" cy="220.4" r="1.25" fill="#8a3a1a"/><circle cx="69.4" cy="220.0" r="1.25" fill="#8a3a1a"/><circle cx="74.1" cy="219.4" r="1.25" fill="#8a3a1a"/><circle cx="78.7" cy="218.9" r="1.25" fill="#8a3a1a"/><circle cx="83.4" cy="218.4" r="1.45" fill="#3cae3c"/><circle cx="88.0" cy="217.8" r="1.45" fill="#3cae3c"/><circle cx="92.7" cy="217.3" r="1.45" fill="#3cae3c"/><circle cx="97.3" cy="216.9" r="1.45" fill="#3cae3c"/><circle cx="102.0" cy="216.7" r="1.45" fill="#3cae3c"/><circle cx="106.6" cy="216.6" r="1.45" fill="#3cae3c"/><circle cx="111.2" cy="216.7" r="1.45" fill="#3cae3c"/><circle cx="115.9" cy="216.8" r="1.45" fill="#3cae3c"/><circle cx="120.5" cy="217.0" r="1.45" fill="#3cae3c"/><circle cx="125.2" cy="217.5" r="1.45" fill="#3cae3c"/><circle cx="129.8" cy="218.0" r="1.45" fill="#3cae3c"/><circle cx="134.5" cy="218.6" r="1.45" fill="#3cae3c"/><circle cx="139.1" cy="219.1" r="1.45" fill="#3cae3c"/><circle cx="143.8" cy="219.6" r="1.45" fill="#3cae3c"/><circle cx="148.4" cy="220.0" r="1.45" fill="#3cae3c"/><circle cx="153.0" cy="220.7" r="1.8" fill="#5cc85c" stroke="#3a9a3a" stroke-width="0.5"/><circle cx="157.7" cy="221.8" r="1.8" fill="#5cc85c" stroke="#3a9a3a" stroke-width="0.5"/><circle cx="162.3" cy="222.9" r="1.8" fill="#5cc85c" stroke="#3a9a3a" stroke-width="0.5"/><circle cx="167.0" cy="224.1" r="1.8" fill="#5cc85c" stroke="#3a9a3a" stroke-width="0.5"/><circle cx="171.6" cy="225.0" r="1.8" fill="#5cc85c" stroke="#3a9a3a" stroke-width="0.5"/><circle cx="176.3" cy="226.0" r="1.8" fill="#5cc85c" stroke="#3a9a3a" stroke-width="0.5"/><circle cx="180.9" cy="227.3" r="1.8" fill="#5cc85c" stroke="#3a9a3a" stroke-width="0.5"/><circle cx="185.6" cy="228.8" r="1.8" fill="#5cc85c" stroke="#3a9a3a" stroke-width="0.5"/><circle cx="190.2" cy="230.2" r="1.8" fill="#5cc85c" stroke="#3a9a3a" stroke-width="0.5"/><circle cx="194.8" cy="231.6" r="1.8" fill="#5cc85c" stroke="#3a9a3a" stroke-width="0.5"/><circle cx="199.5" cy="232.8" r="1.8" fill="#5cc85c" stroke="#3a9a3a" stroke-width="0.5"/><circle cx="204.1" cy="233.9" r="1.8" fill="#5cc85c" stroke="#3a9a3a" stroke-width="0.5"/><circle cx="208.8" cy="234.9" r="1.8" fill="#5cc85c" stroke="#3a9a3a" stroke-width="0.5"/><circle cx="213.4" cy="235.8" r="1.8" fill="#5cc85c" stroke="#3a9a3a" stroke-width="0.5"/><circle cx="218.1" cy="236.7" r="1.8" fill="#5cc85c" stroke="#3a9a3a" stroke-width="0.5"/><circle cx="222.7" cy="237.4" r="1.8" fill="#5cc85c" stroke="#3a9a3a" stroke-width="0.5"/><circle cx="227.4" cy="237.9" r="1.8" fill="#5cc85c" stroke="#3a9a3a" stroke-width="0.5"/><circle cx="232.0" cy="238.3" r="1.8" fill="#5cc85c" stroke="#3a9a3a" stroke-width="0.5"/><circle cx="236.7" cy="238.5" r="1.8" fill="#5cc85c" stroke="#3a9a3a" stroke-width="0.5"/><circle cx="241.3" cy="238.7" r="1.8" fill="#5cc85c" stroke="#3a9a3a" stroke-width="0.5"/><circle cx="55.5" cy="269.6" r="1.4" fill="#a81c1c" stroke="#d04848" stroke-width="0.4"/><circle cx="60.1" cy="269.6" r="1.4" fill="#a81c1c" stroke="#d04848" stroke-width="0.4"/><circle cx="64.8" cy="269.6" r="1.4" fill="#a81c1c" stroke="#d04848" stroke-width="0.4"/><circle cx="69.4" cy="269.7" r="1.4" fill="#a81c1c" stroke="#d04848" stroke-width="0.4"/><circle cx="74.1" cy="269.7" r="1.4" fill="#a81c1c" stroke="#d04848" stroke-width="0.4"/><circle cx="78.7" cy="269.9" r="1.4" fill="#a81c1c" stroke="#d04848" stroke-width="0.4"/><circle cx="83.4" cy="270.1" r="1.4" fill="#a81c1c" stroke="#d04848" stroke-width="0.4"/><circle cx="88.0" cy="270.4" r="1.4" fill="#a81c1c" stroke="#d04848" stroke-width="0.4"/><circle cx="92.7" cy="270.8" r="1.4" fill="#a81c1c" stroke="#d04848" stroke-width="0.4"/><circle cx="97.3" cy="271.2" r="1.4" fill="#a81c1c" stroke="#d04848" stroke-width="0.4"/><circle cx="102.0" cy="271.6" r="1.4" fill="#a81c1c" stroke="#d04848" stroke-width="0.4"/><circle cx="106.6" cy="272.1" r="1.4" fill="#a81c1c" stroke="#d04848" stroke-width="0.4"/><circle cx="111.2" cy="272.7" r="1.4" fill="#a81c1c" stroke="#d04848" stroke-width="0.4"/><circle cx="115.9" cy="273.3" r="1.4" fill="#a81c1c" stroke="#d04848" stroke-width="0.4"/><circle cx="120.5" cy="273.7" r="1.4" fill="#a81c1c" stroke="#d04848" stroke-width="0.4"/><circle cx="55.5" cy="274.1" r="1.4" fill="#a81c1c" stroke="#d04848" stroke-width="0.4"/><circle cx="60.1" cy="274.1" r="1.4" fill="#a81c1c" stroke="#d04848" stroke-width="0.4"/><circle cx="64.8" cy="274.0" r="1.4" fill="#a81c1c" stroke="#d04848" stroke-width="0.4"/><circle cx="69.4" cy="274.0" r="1.4" fill="#a81c1c" stroke="#d04848" stroke-width="0.4"/><circle cx="74.1" cy="273.9" r="1.4" fill="#a81c1c" stroke="#d04848" stroke-width="0.4"/><circle cx="78.7" cy="273.9" r="1.4" fill="#a81c1c" stroke="#d04848" stroke-width="0.4"/><circle cx="83.4" cy="273.8" r="1.4" fill="#a81c1c" stroke="#d04848" stroke-width="0.4"/><circle cx="88.0" cy="273.8" r="1.4" fill="#a81c1c" stroke="#d04848" stroke-width="0.4"/><circle cx="92.7" cy="273.8" r="1.4" fill="#a81c1c" stroke="#d04848" stroke-width="0.4"/><circle cx="97.3" cy="273.7" r="1.4" fill="#a81c1c" stroke="#d04848" stroke-width="0.4"/><circle cx="102.0" cy="273.7" r="1.4" fill="#a81c1c" stroke="#d04848" stroke-width="0.4"/><circle cx="106.6" cy="273.7" r="1.4" fill="#a81c1c" stroke="#d04848" stroke-width="0.4"/><circle cx="111.2" cy="273.7" r="1.4" fill="#a81c1c" stroke="#d04848" stroke-width="0.4"/><circle cx="115.9" cy="273.7" r="1.4" fill="#a81c1c" stroke="#d04848" stroke-width="0.4"/><circle cx="120.5" cy="273.8" r="1.4" fill="#a81c1c" stroke="#d04848" stroke-width="0.4"/><circle cx="125.2" cy="274.0" r="1.4" fill="#a81c1c" stroke="#d04848" stroke-width="0.4"/><circle cx="129.8" cy="274.2" r="1.4" fill="#a81c1c" stroke="#d04848" stroke-width="0.4"/><circle cx="134.5" cy="274.5" r="1.4" fill="#a81c1c" stroke="#d04848" stroke-width="0.4"/><circle cx="139.1" cy="274.8" r="1.4" fill="#a81c1c" stroke="#d04848" stroke-width="0.4"/><circle cx="143.8" cy="275.0" r="1.4" fill="#a81c1c" stroke="#d04848" stroke-width="0.4"/><circle cx="148.4" cy="275.3" r="1.4" fill="#a81c1c" stroke="#d04848" stroke-width="0.4"/><circle cx="153.0" cy="275.6" r="1.4" fill="#a81c1c" stroke="#d04848" stroke-width="0.4"/><circle cx="157.7" cy="275.8" r="1.4" fill="#a81c1c" stroke="#d04848" stroke-width="0.4"/><circle cx="162.3" cy="276.1" r="1.4" fill="#a81c1c" stroke="#d04848" stroke-width="0.4"/><circle cx="167.0" cy="276.3" r="1.4" fill="#a81c1c" stroke="#d04848" stroke-width="0.4"/><circle cx="171.6" cy="276.6" r="1.4" fill="#a81c1c" stroke="#d04848" stroke-width="0.4"/><circle cx="176.3" cy="276.9" r="1.4" fill="#a81c1c" stroke="#d04848" stroke-width="0.4"/><circle cx="180.9" cy="277.1" r="1.4" fill="#a81c1c" stroke="#d04848" stroke-width="0.4"/><circle cx="185.6" cy="277.4" r="1.4" fill="#a81c1c" stroke="#d04848" stroke-width="0.4"/><circle cx="190.2" cy="277.6" r="1.4" fill="#a81c1c" stroke="#d04848" stroke-width="0.4"/><circle cx="194.8" cy="277.9" r="1.4" fill="#a81c1c" stroke="#d04848" stroke-width="0.4"/><circle cx="199.5" cy="278.1" r="1.4" fill="#a81c1c" stroke="#d04848" stroke-width="0.4"/><circle cx="204.1" cy="278.3" r="1.4" fill="#a81c1c" stroke="#d04848" stroke-width="0.4"/><circle cx="208.8" cy="278.5" r="1.4" fill="#a81c1c" stroke="#d04848" stroke-width="0.4"/><circle cx="213.4" cy="278.7" r="1.4" fill="#a81c1c" stroke="#d04848" stroke-width="0.4"/><circle cx="218.1" cy="278.8" r="1.4" fill="#a81c1c" stroke="#d04848" stroke-width="0.4"/><circle cx="222.7" cy="278.9" r="1.4" fill="#a81c1c" stroke="#d04848" stroke-width="0.4"/><circle cx="227.4" cy="279.0" r="1.4" fill="#a81c1c" stroke="#d04848" stroke-width="0.4"/><circle cx="232.0" cy="279.1" r="1.4" fill="#a81c1c" stroke="#d04848" stroke-width="0.4"/><circle cx="236.7" cy="279.2" r="1.4" fill="#a81c1c" stroke="#d04848" stroke-width="0.4"/><circle cx="241.3" cy="279.3" r="1.4" fill="#a81c1c" stroke="#d04848" stroke-width="0.4"/><circle cx="55.5" cy="318.6" r="1.9" fill="none" stroke="#2e2eaa" stroke-width="1.2"/><circle cx="60.1" cy="318.5" r="1.9" fill="none" stroke="#2e2eaa" stroke-width="1.2"/><circle cx="64.8" cy="318.4" r="1.9" fill="none" stroke="#2e2eaa" stroke-width="1.2"/><circle cx="69.4" cy="318.3" r="1.9" fill="none" stroke="#2e2eaa" stroke-width="1.2"/><circle cx="74.1" cy="318.2" r="1.9" fill="none" stroke="#2e2eaa" stroke-width="1.2"/><circle cx="78.7" cy="318.1" r="1.9" fill="none" stroke="#2e2eaa" stroke-width="1.2"/><circle cx="83.4" cy="317.9" r="1.9" fill="none" stroke="#2e2eaa" stroke-width="1.2"/><circle cx="88.0" cy="317.8" r="1.9" fill="none" stroke="#2e2eaa" stroke-width="1.2"/><circle cx="92.7" cy="317.6" r="1.9" fill="none" stroke="#2e2eaa" stroke-width="1.2"/><circle cx="97.3" cy="317.3" r="1.9" fill="none" stroke="#2e2eaa" stroke-width="1.2"/><circle cx="102.0" cy="317.1" r="1.9" fill="none" stroke="#2e2eaa" stroke-width="1.2"/><circle cx="106.6" cy="316.7" r="1.9" fill="none" stroke="#2e2eaa" stroke-width="1.2"/><circle cx="111.2" cy="316.3" r="1.9" fill="none" stroke="#2e2eaa" stroke-width="1.2"/><circle cx="115.9" cy="315.9" r="1.9" fill="none" stroke="#2e2eaa" stroke-width="1.2"/><circle cx="120.5" cy="315.4" r="1.9" fill="none" stroke="#2e2eaa" stroke-width="1.2"/><circle cx="125.2" cy="315.0" r="1.9" fill="none" stroke="#2e2eaa" stroke-width="1.2"/><circle cx="129.8" cy="314.7" r="1.9" fill="none" stroke="#2e2eaa" stroke-width="1.2"/><circle cx="134.5" cy="314.5" r="1.9" fill="none" stroke="#2e2eaa" stroke-width="1.2"/><circle cx="139.1" cy="314.3" r="1.9" fill="none" stroke="#2e2eaa" stroke-width="1.2"/><circle cx="143.8" cy="314.1" r="1.9" fill="none" stroke="#2e2eaa" stroke-width="1.2"/><circle cx="148.4" cy="313.9" r="1.9" fill="none" stroke="#2e2eaa" stroke-width="1.2"/><circle cx="153.0" cy="313.6" r="1.9" fill="none" stroke="#2e2eaa" stroke-width="1.2"/><circle cx="157.7" cy="313.2" r="1.9" fill="none" stroke="#2e2eaa" stroke-width="1.2"/><circle cx="162.3" cy="312.9" r="1.9" fill="none" stroke="#2e2eaa" stroke-width="1.2"/><circle cx="167.0" cy="312.5" r="1.9" fill="none" stroke="#2e2eaa" stroke-width="1.2"/><circle cx="171.6" cy="312.2" r="1.9" fill="none" stroke="#2e2eaa" stroke-width="1.2"/><circle cx="176.3" cy="311.9" r="1.9" fill="none" stroke="#2e2eaa" stroke-width="1.2"/><circle cx="180.9" cy="311.6" r="1.9" fill="none" stroke="#2e2eaa" stroke-width="1.2"/><circle cx="185.6" cy="311.4" r="1.9" fill="none" stroke="#2e2eaa" stroke-width="1.2"/><circle cx="190.2" cy="311.1" r="1.9" fill="none" stroke="#2e2eaa" stroke-width="1.2"/><circle cx="194.8" cy="310.9" r="1.9" fill="none" stroke="#2e2eaa" stroke-width="1.2"/><circle cx="199.5" cy="310.7" r="1.9" fill="none" stroke="#2e2eaa" stroke-width="1.2"/><circle cx="204.1" cy="310.5" r="1.9" fill="none" stroke="#2e2eaa" stroke-width="1.2"/><circle cx="208.8" cy="310.3" r="1.9" fill="none" stroke="#2e2eaa" stroke-width="1.2"/><circle cx="213.4" cy="310.1" r="1.9" fill="none" stroke="#2e2eaa" stroke-width="1.2"/><circle cx="218.1" cy="309.9" r="1.9" fill="none" stroke="#2e2eaa" stroke-width="1.2"/><circle cx="222.7" cy="309.8" r="1.9" fill="none" stroke="#2e2eaa" stroke-width="1.2"/><circle cx="227.4" cy="309.7" r="1.9" fill="none" stroke="#2e2eaa" stroke-width="1.2"/><circle cx="232.0" cy="309.7" r="1.9" fill="none" stroke="#2e2eaa" stroke-width="1.2"/><circle cx="236.7" cy="309.7" r="1.9" fill="none" stroke="#2e2eaa" stroke-width="1.2"/><circle cx="241.3" cy="309.6" r="1.9" fill="none" stroke="#2e2eaa" stroke-width="1.2"/><circle cx="55.5" cy="337.7" r="1.1" fill="#2ea42e"/><circle cx="60.1" cy="337.8" r="1.1" fill="#2ea42e"/><circle cx="64.8" cy="337.9" r="1.1" fill="#2ea42e"/><circle cx="69.4" cy="338.1" r="1.1" fill="#2ea42e"/><circle cx="74.1" cy="338.5" r="1.1" fill="#2ea42e"/><circle cx="78.7" cy="339.1" r="1.1" fill="#2ea42e"/><circle cx="83.4" cy="339.9" r="1.1" fill="#2ea42e"/><circle cx="88.0" cy="340.8" r="1.1" fill="#2ea42e"/><circle cx="92.7" cy="341.9" r="1.1" fill="#2ea42e"/><circle cx="97.3" cy="343.2" r="1.1" fill="#2ea42e"/><circle cx="102.0" cy="344.4" r="1.1" fill="#2ea42e"/><circle cx="106.6" cy="345.5" r="1.1" fill="#2ea42e"/><circle cx="111.2" cy="346.6" r="1.1" fill="#2ea42e"/><circle cx="115.9" cy="347.6" r="1.1" fill="#2ea42e"/><circle cx="55.5" cy="338.8" r="1.1" fill="#2ea42e"/><circle cx="60.1" cy="339.0" r="1.1" fill="#2ea42e"/><circle cx="64.8" cy="339.1" r="1.1" fill="#2ea42e"/><circle cx="69.4" cy="339.4" r="1.1" fill="#2ea42e"/><circle cx="74.1" cy="340.0" r="1.1" fill="#2ea42e"/><circle cx="78.7" cy="340.8" r="1.1" fill="#2ea42e"/><circle cx="83.4" cy="341.8" r="1.1" fill="#2ea42e"/><circle cx="88.0" cy="343.0" r="1.1" fill="#2ea42e"/><circle cx="92.7" cy="344.3" r="1.1" fill="#2ea42e"/><circle cx="97.3" cy="345.7" r="1.1" fill="#2ea42e"/><circle cx="102.0" cy="347.6" r="1.1" fill="#2ea42e"/>
</g>
<g clip-path="url(#clb)">
<path d="M308.2 35.4 L314.7 35.4 L321.2 35.4 L327.7 35.4 L334.2 35.4 L340.7 35.4 L347.2 35.4 L353.7 35.3 L360.1 35.3 L366.4 35.3 L372.7 35.3 L378.9 35.3 L385.0 35.3 L391.0 35.2 L397.0 35.2 L402.9 35.2 L408.8 35.1 L414.7 35.1 L420.7 35.1 L426.7 35.0 L432.7 35.0 L439.5 35.0 L446.2 34.9 L453.0 34.9 L459.9 34.9 L466.7 34.9 L473.5 34.9 L480.4 34.8 L487.2 34.8 L494.0 34.8 M308.2 36.2 L311.2 36.3 L314.3 36.4 L317.3 36.6 L320.4 36.7 L323.4 36.8 L326.5 37.0 L329.5 37.1 L332.6 37.2 L335.6 37.3 L338.7 37.4 L341.8 37.5 L345.0 37.6 L348.2 37.6 L351.4 37.7 L354.7 37.8 L357.9 37.8 L361.0 37.9 L364.0 37.9 L366.9 38.0 L369.7 38.0 L372.3 38.0 L374.9 38.0 L377.3 38.0 L379.7 38.0 L382.0 38.0 L384.2 38.0 L386.4 38.0 L388.5 38.0 L390.6 38.1 L392.7 38.1 L394.7 38.2 L396.6 38.2 L398.5 38.3 L400.3 38.4 L402.1 38.5 L403.8 38.6 L405.5 38.7 L407.2 38.8 L409.0 38.8 L410.7 38.8 L412.4 38.8 L414.0 38.7 L415.6 38.6 L417.2 38.6 L418.8 38.4 L420.4 38.3 L422.0 38.2 L423.8 38.1 L425.7 37.9 L427.7 37.8 L429.8 37.7 L431.9 37.5 L434.1 37.3 L436.3 37.2 L438.7 37.0 L441.1 36.8 L443.7 36.6 L446.5 36.5 L449.5 36.3 L452.7 36.2 L456.6 36.1 L460.8 36.0 L465.3 35.9 L469.9 35.8 L474.8 35.7 L479.6 35.6 L484.5 35.6 L489.3 35.5 L494.0 35.4 M308.2 51.3 L309.2 51.2 L310.3 51.2 L311.3 51.2 L312.4 51.1 L313.4 51.1 L314.5 51.0 L315.6 51.0 L316.6 50.9 L317.6 50.8 L318.7 50.7 L319.8 50.6 L320.8 50.4 L321.8 50.2 L322.9 50.1 L323.9 49.9 L325.0 49.7 L326.1 49.5 L327.1 49.2 L328.1 49.0 L329.2 48.8 L330.2 48.6 L331.3 48.3 L332.3 48.1 L333.4 47.8 L334.4 47.6 L335.5 47.3 L336.5 47.0 L337.6 46.7 L338.6 46.5 L339.7 46.2 L340.8 45.9 L341.9 45.7 L343.0 45.4 L344.1 45.1 L345.2 44.8 L346.3 44.5 L347.4 44.3 L348.5 44.0 L349.6 43.8 L350.7 43.5 L351.8 43.3 L352.9 43.0 L354.0 42.8 L355.1 42.5 L356.2 42.3 L357.2 42.1 L358.3 41.9 L359.3 41.7 L360.3 41.5 L361.3 41.3 L362.2 41.1 L363.0 41.0 L363.8 40.8 L364.6 40.7 L365.3 40.5 L366.1 40.4 L366.9 40.3 L367.8 40.1 L368.7 40.0 L369.7 39.9 L370.8 39.8 L372.0 39.6 L373.2 39.5 L374.5 39.4 L375.8 39.2 L377.1 39.1 L378.5 39.0 L379.9 38.9 L381.3 38.8 L382.7 38.8 L384.1 38.8 L385.6 38.8 L387.1 38.8 L388.6 38.9 L390.1 39.0 L391.6 39.0 L393.1 39.1 L394.7 39.2 L396.2 39.3 L397.7 39.4 L399.2 39.5 L400.6 39.6 L402.0 39.7 L403.5 39.8 L404.9 40.0 L406.3 40.1 L407.8 40.2 L409.4 40.3 L411.0 40.3 L412.7 40.4 L414.5 40.4 L416.4 40.4 L418.3 40.4 L420.3 40.3 L422.4 40.3 L424.5 40.2 L426.5 40.2 L428.6 40.2 L430.7 40.2 L432.7 40.2 L434.7 40.2 L436.7 40.3 L438.6 40.4 L440.6 40.4 L442.6 40.5 L444.6 40.6 L446.6 40.8 L448.6 40.9 L450.6 41.1 L452.7 41.3 L454.8 41.5 L457.0 41.8 L459.2 42.2 L461.5 42.5 L463.7 42.9 L466.0 43.3 L468.2 43.6 L470.4 44.0 L472.6 44.3 L474.7 44.5 L477.0 44.7 L479.2 44.9 L481.3 45.0 L483.5 45.1 L485.6 45.2 L487.7 45.3 L489.8 45.4 L491.9 45.5 L494.0 45.6 M364.7 33.2 L365.5 33.3 L366.3 33.4 L367.0 33.5 L367.8 33.7 L368.6 33.8 L369.4 33.9 L370.2 34.0 L371.0 34.1 L371.8 34.3 L372.7 34.4 L373.6 34.6 L374.6 34.7 L375.6 34.9 L376.6 35.0 L377.6 35.2 L378.6 35.4 L379.6 35.6 L380.7 35.8 L381.7 36.0 L382.7 36.2 L383.7 36.4 L384.7 36.7 L385.7 37.0 L386.7 37.3 L387.8 37.6 L388.8 37.9 L389.8 38.2 L390.8 38.5 L391.7 38.9 L392.7 39.2 L393.6 39.5 L394.6 39.9 L395.5 40.2 L396.4 40.6 L397.3 40.9 L398.1 41.3 L399.0 41.6 L399.9 42.0 L400.8 42.4 L401.7 42.8 L402.6 43.2 L403.5 43.6 L404.4 44.1 L405.3 44.5 L406.2 45.0 L407.1 45.4 L408.0 45.9 L408.9 46.3 L409.8 46.8 L410.7 47.2 L411.6 47.6 L412.4 48.0 L413.3 48.4 L414.1 48.8 L415.0 49.2 L415.8 49.6 L416.7 50.0 L417.5 50.4 L418.4 50.8 L419.2 51.2 L420.0 51.6 L420.9 52.1 L421.7 52.5 L422.6 53.0 L423.4 53.5 L424.3 53.9 L425.1 54.4 L426.0 54.8 L426.8 55.3 L427.7 55.7 L428.6 56.1 L429.5 56.5 L430.5 57.0 L431.4 57.4 L432.4 57.8 L433.3 58.2 L434.2 58.5 L435.1 58.9 L435.9 59.3 L436.7 59.6 L437.4 59.9 L438.0 60.2 L438.5 60.4 L438.9 60.6 L439.4 60.9 L439.9 61.1 L440.4 61.3 L441.0 61.6 L441.8 61.9 L442.7 62.3 L443.7 62.7 L444.8 63.1 L446.0 63.6 L447.2 64.1 L448.6 64.6 L450.0 65.2 L451.5 65.7 L453.1 66.3 L454.9 66.9 L456.7 67.5 L458.7 68.2 L461.0 68.9 L463.5 69.7 L466.1 70.5 L468.7 71.3 L471.4 72.2 L474.0 72.9 L476.4 73.6 L478.7 74.2 L480.7 74.7 L482.6 75.1 L484.4 75.4 L485.9 75.5 L487.3 75.6 L488.7 75.7 L490.0 75.7 L491.2 75.7 L492.6 75.8 L494.0 75.9 M308.2 58.3 L310.3 58.2 L312.4 58.2 L314.5 58.2 L316.6 58.1 L318.7 58.1 L320.8 58.1 L322.9 58.0 L325.0 57.9 L327.1 57.8 L329.2 57.7 L331.3 57.5 L333.5 57.4 L335.7 57.2 L337.9 56.9 L340.1 56.7 L342.3 56.4 L344.4 56.2 L346.6 55.9 L348.6 55.6 L350.7 55.3 L352.7 55.0 L354.7 54.7 L356.7 54.3 L358.6 53.9 L360.5 53.6 L362.4 53.2 L364.3 52.8 L366.1 52.4 L367.9 52.0 L369.7 51.7 L371.4 51.4 L373.2 51.0 L374.8 50.7 L376.5 50.3 L378.1 50.0 L379.7 49.6 L381.3 49.3 L382.8 49.0 L384.3 48.7 L385.7 48.5 L387.0 48.3 L388.3 48.1 L389.4 47.9 L390.5 47.8 L391.6 47.6 L392.7 47.5 L393.9 47.4 L395.0 47.3 L396.3 47.2 L397.7 47.2 L399.2 47.2 L400.8 47.2 L402.4 47.3 L404.1 47.4 L405.9 47.4 L407.7 47.5 L409.4 47.6 L411.2 47.7 L413.0 47.8 L414.7 47.8 L416.4 47.8 L418.0 47.7 L419.7 47.6 L421.3 47.5 L422.9 47.4 L424.6 47.3 L426.3 47.2 L428.0 47.2 L429.8 47.3 L431.7 47.4 L433.6 47.6 L435.7 47.9 L437.7 48.3 L439.9 48.7 L442.0 49.1 L444.2 49.5 L446.3 50.0 L448.5 50.4 L450.6 50.8 L452.7 51.2 L454.7 51.5 L456.7 51.9 L458.7 52.2 L460.7 52.5 L462.7 52.8 L464.7 53.1 L466.6 53.4 L468.6 53.7 L470.7 54.0 L472.7 54.2 L475.0 54.4 L477.3 54.6 L479.7 54.8 L482.1 55.0 L484.5 55.1 L486.9 55.3 L489.2 55.4 L491.6 55.5 L494.0 55.7 M308.2 66.7 L310.3 66.7 L312.4 66.7 L314.5 66.7 L316.6 66.7 L318.7 66.7 L320.8 66.7 L322.9 66.7 L325.0 66.7 L327.1 66.6 L329.2 66.5 L331.3 66.4 L333.5 66.2 L335.7 66.0 L337.9 65.8 L340.1 65.6 L342.3 65.4 L344.4 65.2 L346.6 64.9 L348.6 64.7 L350.7 64.4 L352.7 64.1 L354.7 63.9 L356.6 63.6 L358.5 63.3 L360.4 63.0 L362.3 62.7 L364.2 62.4 L366.0 62.0 L367.9 61.6 L369.7 61.2 L371.6 60.7 L373.4 60.2 L375.3 59.7 L377.1 59.1 L378.9 58.5 L380.8 57.9 L382.6 57.3 L384.3 56.7 L386.0 56.2 L387.7 55.7 L389.3 55.2 L390.9 54.8 L392.5 54.3 L394.1 53.9 L395.6 53.5 L397.1 53.1 L398.5 52.8 L399.9 52.4 L401.3 52.0 L402.7 51.7 L404.0 51.4 L405.2 51.0 L406.3 50.7 L407.4 50.4 L408.5 50.1 L409.6 49.8 L410.8 49.5 L412.0 49.3 L413.3 49.1 L414.7 49.0 L416.2 48.9 L417.9 48.9 L419.6 48.9 L421.4 48.9 L423.2 49.0 L425.1 49.1 L427.0 49.2 L428.9 49.3 L430.8 49.5 L432.7 49.7 L434.6 49.9 L436.6 50.2 L438.6 50.5 L440.6 50.9 L442.6 51.3 L444.6 51.7 L446.6 52.1 L448.7 52.5 L450.7 52.8 L452.7 53.2 L454.7 53.6 L456.7 53.9 L458.7 54.3 L460.6 54.7 L462.6 55.0 L464.6 55.4 L466.6 55.8 L468.6 56.1 L470.6 56.4 L472.7 56.7 L475.0 57.0 L477.3 57.2 L479.7 57.5 L482.1 57.7 L484.5 57.9 L486.9 58.1 L489.2 58.3 L491.6 58.5 L494.0 58.7 M308.2 71.4 L310.3 71.3 L312.4 71.2 L314.5 71.2 L316.6 71.1 L318.7 71.0 L320.8 70.9 L322.9 70.8 L325.0 70.7 L327.1 70.5 L329.2 70.3 L331.3 70.0 L333.5 69.7 L335.7 69.4 L337.9 69.0 L340.1 68.6 L342.3 68.1 L344.4 67.7 L346.6 67.3 L348.6 66.9 L350.7 66.5 L352.7 66.1 L354.7 65.8 L356.6 65.4 L358.5 65.1 L360.4 64.8 L362.3 64.4 L364.2 64.0 L366.0 63.7 L367.9 63.2 L369.7 62.8 L371.6 62.3 L373.4 61.8 L375.3 61.2 L377.1 60.6 L378.9 60.1 L380.8 59.5 L382.6 58.9 L384.3 58.3 L386.0 57.7 L387.7 57.2 L389.3 56.7 L390.9 56.2 L392.5 55.7 L394.1 55.2 L395.6 54.8 L397.1 54.3 L398.5 53.9 L399.9 53.5 L401.3 53.1 L402.7 52.7 L404.0 52.3 L405.3 51.9 L406.5 51.5 L407.7 51.0 L408.8 50.6 L410.0 50.3 L411.1 50.0 L412.3 49.8 L413.5 49.7 L414.7 49.7 L416.0 49.8 L417.2 50.1 L418.5 50.5 L419.7 50.9 L421.0 51.5 L422.3 52.0 L423.6 52.6 L425.0 53.1 L426.3 53.7 L427.7 54.2 L429.1 54.7 L430.6 55.2 L432.1 55.7 L433.6 56.1 L435.1 56.7 L436.7 57.2 L438.2 57.7 L439.7 58.2 L441.2 58.7 L442.7 59.2 L444.1 59.7 L445.4 60.3 L446.7 60.8 L447.9 61.4 L449.1 61.9 L450.4 62.4 L451.8 63.0 L453.3 63.5 L454.9 64.0 L456.7 64.5 L458.7 65.0 L461.0 65.5 L463.5 65.9 L466.1 66.4 L468.7 66.9 L471.4 67.3 L474.0 67.7 L476.4 68.1 L478.7 68.4 L480.7 68.7 L482.6 69.0 L484.4 69.2 L485.9 69.3 L487.3 69.4 L488.7 69.5 L490.0 69.6 L491.2 69.7 L492.6 69.8 L494.0 69.9 M308.2 80.7 L310.7 80.4 L313.1 80.1 L315.6 79.8 L318.1 79.5 L320.5 79.3 L323.0 79.0 L325.5 78.7 L327.9 78.4 L330.3 78.0 L332.7 77.7 L335.1 77.3 L337.5 77.0 L340.0 76.6 L342.4 76.2 L344.9 75.8 L347.2 75.4 L349.5 75.0 L351.7 74.6 L353.8 74.1 L355.7 73.7 L357.5 73.2 L359.0 72.8 L360.5 72.3 L361.9 71.8 L363.1 71.3 L364.4 70.8 L365.6 70.3 L366.9 69.8 L368.3 69.2 L369.7 68.7 L371.2 68.1 L372.8 67.5 L374.4 66.9 L376.0 66.2 L377.6 65.5 L379.2 64.9 L380.8 64.3 L382.5 63.7 L384.1 63.2 L385.7 62.7 L387.3 62.3 L388.9 61.9 L390.5 61.6 L392.1 61.3 L393.7 61.1 L395.3 60.8 L396.9 60.7 L398.5 60.5 L400.1 60.4 L401.7 60.3 L403.3 60.2 L404.9 60.2 L406.5 60.2 L408.1 60.2 L409.8 60.3 L411.4 60.4 L413.0 60.6 L414.6 60.7 L416.1 60.9 L417.7 61.2 L419.2 61.5 L420.6 61.8 L422.0 62.2 L423.3 62.6 L424.7 63.1 L426.1 63.6 L427.6 64.1 L429.1 64.6 L430.8 65.1 L432.7 65.7 L434.7 66.3 L436.9 66.9 L439.2 67.6 L441.7 68.2 L444.1 68.9 L446.7 69.6 L449.2 70.3 L451.8 71.0 L454.3 71.7 L456.7 72.3 L459.1 72.9 L461.7 73.5 L464.2 74.1 L466.8 74.7 L469.4 75.3 L471.9 75.9 L474.3 76.4 L476.6 76.9 L478.7 77.3 L480.7 77.7 L482.6 78.0 L484.4 78.2 L485.9 78.4 L487.3 78.5 L488.7 78.6 L490.0 78.7 L491.2 78.7 L492.6 78.8 L494.0 78.9 M308.2 85.5 L310.7 85.2 L313.1 85.0 L315.6 84.7 L318.1 84.5 L320.5 84.2 L323.0 83.9 L325.5 83.7 L327.9 83.4 L330.3 83.0 L332.7 82.7 L335.1 82.3 L337.5 81.9 L340.0 81.5 L342.4 81.0 L344.9 80.6 L347.2 80.1 L349.5 79.6 L351.7 79.1 L353.8 78.7 L355.7 78.2 L357.5 77.8 L359.1 77.3 L360.6 76.9 L362.0 76.4 L363.3 76.0 L364.6 75.5 L365.9 75.0 L367.1 74.6 L368.4 74.2 L369.7 73.7 L371.0 73.2 L372.3 72.8 L373.6 72.3 L374.9 71.8 L376.2 71.3 L377.5 70.9 L378.8 70.4 L380.1 70.0 L381.4 69.6 L382.7 69.2 L384.1 68.9 L385.4 68.5 L386.8 68.2 L388.1 67.9 L389.5 67.6 L390.9 67.4 L392.3 67.1 L393.8 67.0 L395.2 66.8 L396.7 66.7 L398.2 66.6 L399.7 66.6 L401.2 66.5 L402.8 66.5 L404.3 66.6 L405.9 66.7 L407.5 66.8 L409.2 67.0 L410.9 67.3 L412.7 67.6 L414.5 68.0 L416.4 68.5 L418.3 69.1 L420.2 69.8 L422.2 70.5 L424.2 71.2 L426.3 71.9 L428.4 72.7 L430.5 73.4 L432.7 74.1 L434.9 74.8 L437.2 75.5 L439.6 76.3 L442.0 77.1 L444.4 77.8 L446.9 78.6 L449.4 79.3 L451.8 80.0 L454.3 80.7 L456.7 81.3 L459.1 81.9 L461.7 82.4 L464.2 83.0 L466.8 83.5 L469.4 84.0 L471.9 84.4 L474.3 84.8 L476.6 85.2 L478.7 85.5 L480.7 85.8 L482.6 86.0 L484.4 86.2 L485.9 86.3 L487.3 86.4 L488.7 86.4 L490.0 86.4 L491.2 86.4 L492.6 86.4 L494.0 86.5" fill="none" stroke="#8c8c8c" stroke-width="0.85"/>
<circle cx="308.2" cy="35.4" r="0.55" fill="#666"/><circle cx="312.8" cy="35.4" r="0.55" fill="#666"/><circle cx="317.5" cy="35.4" r="0.55" fill="#666"/><circle cx="322.1" cy="35.4" r="0.55" fill="#666"/><circle cx="326.8" cy="35.4" r="0.55" fill="#666"/><circle cx="331.4" cy="35.4" r="0.55" fill="#666"/><circle cx="336.1" cy="35.4" r="0.55" fill="#666"/><circle cx="340.7" cy="35.4" r="0.55" fill="#666"/><circle cx="345.4" cy="35.4" r="0.55" fill="#666"/><circle cx="350.0" cy="35.4" r="0.55" fill="#666"/><circle cx="354.7" cy="35.3" r="0.55" fill="#666"/><circle cx="359.3" cy="35.3" r="0.55" fill="#666"/><circle cx="364.0" cy="35.3" r="0.55" fill="#666"/><circle cx="368.6" cy="35.3" r="0.55" fill="#666"/><circle cx="373.3" cy="35.3" r="0.55" fill="#666"/><circle cx="377.9" cy="35.3" r="0.55" fill="#666"/><circle cx="382.6" cy="35.3" r="0.55" fill="#666"/><circle cx="387.2" cy="35.2" r="0.55" fill="#666"/><circle cx="391.9" cy="35.2" r="0.55" fill="#666"/><circle cx="396.5" cy="35.2" r="0.55" fill="#666"/><circle cx="401.1" cy="35.2" r="0.55" fill="#666"/><circle cx="405.8" cy="35.1" r="0.55" fill="#666"/><circle cx="410.4" cy="35.1" r="0.55" fill="#666"/><circle cx="415.1" cy="35.1" r="0.55" fill="#666"/><circle cx="419.7" cy="35.1" r="0.55" fill="#666"/><circle cx="424.4" cy="35.0" r="0.55" fill="#666"/><circle cx="429.0" cy="35.0" r="0.55" fill="#666"/><circle cx="433.7" cy="35.0" r="0.55" fill="#666"/><circle cx="438.3" cy="35.0" r="0.55" fill="#666"/><circle cx="443.0" cy="35.0" r="0.55" fill="#666"/><circle cx="447.6" cy="34.9" r="0.55" fill="#666"/><circle cx="452.3" cy="34.9" r="0.55" fill="#666"/><circle cx="456.9" cy="34.9" r="0.55" fill="#666"/><circle cx="461.6" cy="34.9" r="0.55" fill="#666"/><circle cx="466.2" cy="34.9" r="0.55" fill="#666"/><circle cx="470.9" cy="34.9" r="0.55" fill="#666"/><circle cx="475.5" cy="34.9" r="0.55" fill="#666"/><circle cx="480.2" cy="34.8" r="0.55" fill="#666"/><circle cx="484.8" cy="34.8" r="0.55" fill="#666"/><circle cx="489.5" cy="34.8" r="0.55" fill="#666"/><circle cx="494.1" cy="34.8" r="0.55" fill="#666"/><circle cx="308.2" cy="36.2" r="0.55" fill="#666"/><circle cx="312.8" cy="36.4" r="0.55" fill="#666"/><circle cx="317.5" cy="36.6" r="0.55" fill="#666"/><circle cx="322.1" cy="36.8" r="0.55" fill="#666"/><circle cx="326.8" cy="37.0" r="0.55" fill="#666"/><circle cx="331.4" cy="37.2" r="0.55" fill="#666"/><circle cx="336.1" cy="37.3" r="0.55" fill="#666"/><circle cx="340.7" cy="37.5" r="0.55" fill="#666"/><circle cx="345.4" cy="37.6" r="0.55" fill="#666"/><circle cx="350.0" cy="37.7" r="0.55" fill="#666"/><circle cx="354.7" cy="37.8" r="0.55" fill="#666"/><circle cx="359.3" cy="37.8" r="0.55" fill="#666"/><circle cx="364.0" cy="37.9" r="0.55" fill="#666"/><circle cx="368.6" cy="38.0" r="0.55" fill="#666"/><circle cx="373.3" cy="38.0" r="0.55" fill="#666"/><circle cx="377.9" cy="38.0" r="0.55" fill="#666"/><circle cx="382.6" cy="38.0" r="0.55" fill="#666"/><circle cx="387.2" cy="38.0" r="0.55" fill="#666"/><circle cx="391.9" cy="38.1" r="0.55" fill="#666"/><circle cx="396.5" cy="38.2" r="0.55" fill="#666"/><circle cx="401.1" cy="38.5" r="0.55" fill="#666"/><circle cx="405.8" cy="38.7" r="0.55" fill="#666"/><circle cx="410.4" cy="38.8" r="0.55" fill="#666"/><circle cx="415.1" cy="38.7" r="0.55" fill="#666"/><circle cx="419.7" cy="38.4" r="0.55" fill="#666"/><circle cx="424.4" cy="38.0" r="0.55" fill="#666"/><circle cx="429.0" cy="37.7" r="0.55" fill="#666"/><circle cx="433.7" cy="37.4" r="0.55" fill="#666"/><circle cx="438.3" cy="37.0" r="0.55" fill="#666"/><circle cx="443.0" cy="36.7" r="0.55" fill="#666"/><circle cx="447.6" cy="36.4" r="0.55" fill="#666"/><circle cx="452.3" cy="36.2" r="0.55" fill="#666"/><circle cx="456.9" cy="36.1" r="0.55" fill="#666"/><circle cx="461.6" cy="36.0" r="0.55" fill="#666"/><circle cx="466.2" cy="35.9" r="0.55" fill="#666"/><circle cx="470.9" cy="35.8" r="0.55" fill="#666"/><circle cx="475.5" cy="35.7" r="0.55" fill="#666"/><circle cx="480.2" cy="35.6" r="0.55" fill="#666"/><circle cx="484.8" cy="35.6" r="0.55" fill="#666"/><circle cx="489.5" cy="35.5" r="0.55" fill="#666"/><circle cx="494.1" cy="35.4" r="0.55" fill="#666"/><circle cx="308.2" cy="51.3" r="0.55" fill="#b03040"/><circle cx="312.8" cy="51.1" r="0.55" fill="#b03040"/><circle cx="317.5" cy="50.8" r="0.55" fill="#b03040"/><circle cx="322.1" cy="50.2" r="0.55" fill="#b03040"/><circle cx="326.8" cy="49.3" r="0.55" fill="#b03040"/><circle cx="331.4" cy="48.3" r="0.55" fill="#b03040"/><circle cx="336.1" cy="47.1" r="0.55" fill="#b03040"/><circle cx="340.7" cy="45.9" r="0.55" fill="#b03040"/><circle cx="345.4" cy="44.8" r="0.55" fill="#b03040"/><circle cx="350.0" cy="43.7" r="0.55" fill="#b03040"/><circle cx="354.7" cy="42.6" r="0.55" fill="#b03040"/><circle cx="359.3" cy="41.7" r="0.55" fill="#b03040"/><circle cx="364.0" cy="40.8" r="0.55" fill="#b03040"/><circle cx="368.6" cy="40.0" r="0.55" fill="#b03040"/><circle cx="373.3" cy="39.5" r="0.55" fill="#b03040"/><circle cx="377.9" cy="39.0" r="0.55" fill="#b03040"/><circle cx="382.6" cy="38.8" r="0.55" fill="#b03040"/><circle cx="387.2" cy="38.8" r="0.55" fill="#b03040"/><circle cx="391.9" cy="39.1" r="0.55" fill="#b03040"/><circle cx="396.5" cy="39.3" r="0.55" fill="#b03040"/><circle cx="401.1" cy="39.6" r="0.55" fill="#b03040"/><circle cx="405.8" cy="40.0" r="0.55" fill="#b03040"/><circle cx="410.4" cy="40.3" r="0.55" fill="#b03040"/><circle cx="415.1" cy="40.4" r="0.55" fill="#b03040"/><circle cx="419.7" cy="40.4" r="0.55" fill="#b03040"/><circle cx="424.4" cy="40.2" r="0.55" fill="#b03040"/><circle cx="429.0" cy="40.2" r="0.55" fill="#b03040"/><circle cx="433.7" cy="40.2" r="0.55" fill="#b03040"/><circle cx="438.3" cy="40.4" r="0.55" fill="#b03040"/><circle cx="443.0" cy="40.6" r="0.55" fill="#b03040"/><circle cx="447.6" cy="40.9" r="0.55" fill="#b03040"/><circle cx="452.3" cy="41.3" r="0.55" fill="#b03040"/><circle cx="456.9" cy="41.8" r="0.55" fill="#b03040"/><circle cx="461.6" cy="42.5" r="0.55" fill="#b03040"/><circle cx="466.2" cy="43.3" r="0.55" fill="#b03040"/><circle cx="470.9" cy="44.0" r="0.55" fill="#b03040"/><circle cx="475.5" cy="44.6" r="0.55" fill="#b03040"/><circle cx="480.2" cy="45.0" r="0.55" fill="#b03040"/><circle cx="484.8" cy="45.2" r="0.55" fill="#b03040"/><circle cx="489.5" cy="45.4" r="0.55" fill="#b03040"/><circle cx="494.1" cy="45.6" r="0.55" fill="#b03040"/><circle cx="368.6" cy="33.8" r="0.55" fill="#666"/><circle cx="373.3" cy="34.5" r="0.55" fill="#666"/><circle cx="377.9" cy="35.2" r="0.55" fill="#666"/><circle cx="382.6" cy="36.2" r="0.55" fill="#666"/><circle cx="387.2" cy="37.4" r="0.55" fill="#666"/><circle cx="391.9" cy="38.9" r="0.55" fill="#666"/><circle cx="396.5" cy="40.6" r="0.55" fill="#666"/><circle cx="401.1" cy="42.6" r="0.55" fill="#666"/><circle cx="405.8" cy="44.8" r="0.55" fill="#666"/><circle cx="410.4" cy="47.1" r="0.55" fill="#666"/><circle cx="415.1" cy="49.2" r="0.55" fill="#666"/><circle cx="419.7" cy="51.5" r="0.55" fill="#666"/><circle cx="424.4" cy="54.0" r="0.55" fill="#666"/><circle cx="429.0" cy="56.3" r="0.55" fill="#666"/><circle cx="433.7" cy="58.3" r="0.55" fill="#666"/><circle cx="438.3" cy="60.4" r="0.55" fill="#666"/><circle cx="443.0" cy="62.4" r="0.55" fill="#666"/><circle cx="447.6" cy="64.3" r="0.55" fill="#666"/><circle cx="452.3" cy="66.0" r="0.55" fill="#666"/><circle cx="456.9" cy="67.6" r="0.55" fill="#666"/><circle cx="461.6" cy="69.1" r="0.55" fill="#666"/><circle cx="466.2" cy="70.6" r="0.55" fill="#666"/><circle cx="470.9" cy="72.0" r="0.55" fill="#666"/><circle cx="475.5" cy="73.4" r="0.55" fill="#666"/><circle cx="480.2" cy="74.6" r="0.55" fill="#666"/><circle cx="484.8" cy="75.4" r="0.55" fill="#666"/><circle cx="489.5" cy="75.7" r="0.55" fill="#666"/><circle cx="494.1" cy="75.9" r="0.55" fill="#666"/><circle cx="308.2" cy="58.3" r="0.55" fill="#666"/><circle cx="312.8" cy="58.2" r="0.55" fill="#666"/><circle cx="317.5" cy="58.1" r="0.55" fill="#666"/><circle cx="322.1" cy="58.0" r="0.55" fill="#666"/><circle cx="326.8" cy="57.8" r="0.55" fill="#666"/><circle cx="331.4" cy="57.5" r="0.55" fill="#666"/><circle cx="336.1" cy="57.1" r="0.55" fill="#666"/><circle cx="340.7" cy="56.6" r="0.55" fill="#666"/><circle cx="345.4" cy="56.0" r="0.55" fill="#666"/><circle cx="350.0" cy="55.4" r="0.55" fill="#666"/><circle cx="354.7" cy="54.7" r="0.55" fill="#666"/><circle cx="359.3" cy="53.8" r="0.55" fill="#666"/><circle cx="364.0" cy="52.9" r="0.55" fill="#666"/><circle cx="368.6" cy="51.9" r="0.55" fill="#666"/><circle cx="373.3" cy="51.0" r="0.55" fill="#666"/><circle cx="377.9" cy="50.0" r="0.55" fill="#666"/><circle cx="382.6" cy="49.1" r="0.55" fill="#666"/><circle cx="387.2" cy="48.3" r="0.55" fill="#666"/><circle cx="391.9" cy="47.6" r="0.55" fill="#666"/><circle cx="396.5" cy="47.2" r="0.55" fill="#666"/><circle cx="401.1" cy="47.2" r="0.55" fill="#666"/><circle cx="405.8" cy="47.4" r="0.55" fill="#666"/><circle cx="410.4" cy="47.7" r="0.55" fill="#666"/><circle cx="415.1" cy="47.8" r="0.55" fill="#666"/><circle cx="419.7" cy="47.6" r="0.55" fill="#666"/><circle cx="424.4" cy="47.3" r="0.55" fill="#666"/><circle cx="429.0" cy="47.2" r="0.55" fill="#666"/><circle cx="433.7" cy="47.6" r="0.55" fill="#666"/><circle cx="438.3" cy="48.4" r="0.55" fill="#666"/><circle cx="443.0" cy="49.3" r="0.55" fill="#666"/><circle cx="447.6" cy="50.2" r="0.55" fill="#666"/><circle cx="452.3" cy="51.1" r="0.55" fill="#666"/><circle cx="456.9" cy="51.9" r="0.55" fill="#666"/><circle cx="461.6" cy="52.7" r="0.55" fill="#666"/><circle cx="466.2" cy="53.4" r="0.55" fill="#666"/><circle cx="470.9" cy="54.0" r="0.55" fill="#666"/><circle cx="475.5" cy="54.5" r="0.55" fill="#666"/><circle cx="480.2" cy="54.8" r="0.55" fill="#666"/><circle cx="484.8" cy="55.1" r="0.55" fill="#666"/><circle cx="489.5" cy="55.4" r="0.55" fill="#666"/><circle cx="494.1" cy="55.7" r="0.55" fill="#666"/><circle cx="308.2" cy="66.7" r="0.55" fill="#666"/><circle cx="312.8" cy="66.7" r="0.55" fill="#666"/><circle cx="317.5" cy="66.7" r="0.55" fill="#666"/><circle cx="322.1" cy="66.7" r="0.55" fill="#666"/><circle cx="326.8" cy="66.6" r="0.55" fill="#666"/><circle cx="331.4" cy="66.4" r="0.55" fill="#666"/><circle cx="336.1" cy="66.0" r="0.55" fill="#666"/><circle cx="340.7" cy="65.6" r="0.55" fill="#666"/><circle cx="345.4" cy="65.1" r="0.55" fill="#666"/><circle cx="350.0" cy="64.5" r="0.55" fill="#666"/><circle cx="354.7" cy="63.9" r="0.55" fill="#666"/><circle cx="359.3" cy="63.2" r="0.55" fill="#666"/><circle cx="364.0" cy="62.4" r="0.55" fill="#666"/><circle cx="368.6" cy="61.4" r="0.55" fill="#666"/><circle cx="373.3" cy="60.3" r="0.55" fill="#666"/><circle cx="377.9" cy="58.8" r="0.55" fill="#666"/><circle cx="382.6" cy="57.3" r="0.55" fill="#666"/><circle cx="387.2" cy="55.8" r="0.55" fill="#666"/><circle cx="391.9" cy="54.5" r="0.55" fill="#666"/><circle cx="396.5" cy="53.3" r="0.55" fill="#666"/><circle cx="401.1" cy="52.1" r="0.55" fill="#666"/><circle cx="405.8" cy="50.8" r="0.55" fill="#666"/><circle cx="410.4" cy="49.6" r="0.55" fill="#666"/><circle cx="415.1" cy="49.0" r="0.55" fill="#666"/><circle cx="419.7" cy="48.9" r="0.55" fill="#666"/><circle cx="424.4" cy="49.0" r="0.55" fill="#666"/><circle cx="429.0" cy="49.3" r="0.55" fill="#666"/><circle cx="433.7" cy="49.8" r="0.55" fill="#666"/><circle cx="438.3" cy="50.5" r="0.55" fill="#666"/><circle cx="443.0" cy="51.4" r="0.55" fill="#666"/><circle cx="447.6" cy="52.3" r="0.55" fill="#666"/><circle cx="452.3" cy="53.1" r="0.55" fill="#666"/><circle cx="456.9" cy="54.0" r="0.55" fill="#666"/><circle cx="461.6" cy="54.8" r="0.55" fill="#666"/><circle cx="466.2" cy="55.7" r="0.55" fill="#666"/><circle cx="470.9" cy="56.4" r="0.55" fill="#666"/><circle cx="475.5" cy="57.0" r="0.55" fill="#666"/><circle cx="480.2" cy="57.5" r="0.55" fill="#666"/><circle cx="484.8" cy="57.9" r="0.55" fill="#666"/><circle cx="489.5" cy="58.3" r="0.55" fill="#666"/><circle cx="494.1" cy="58.7" r="0.55" fill="#666"/><circle cx="308.2" cy="71.4" r="0.55" fill="#666"/><circle cx="312.8" cy="71.2" r="0.55" fill="#666"/><circle cx="317.5" cy="71.1" r="0.55" fill="#666"/><circle cx="322.1" cy="70.9" r="0.55" fill="#666"/><circle cx="326.8" cy="70.5" r="0.55" fill="#666"/><circle cx="331.4" cy="70.0" r="0.55" fill="#666"/><circle cx="336.1" cy="69.3" r="0.55" fill="#666"/><circle cx="340.7" cy="68.4" r="0.55" fill="#666"/><circle cx="345.4" cy="67.5" r="0.55" fill="#666"/><circle cx="350.0" cy="66.6" r="0.55" fill="#666"/><circle cx="354.7" cy="65.8" r="0.55" fill="#666"/><circle cx="359.3" cy="65.0" r="0.55" fill="#666"/><circle cx="364.0" cy="64.1" r="0.55" fill="#666"/><circle cx="368.6" cy="63.1" r="0.55" fill="#666"/><circle cx="373.3" cy="61.8" r="0.55" fill="#666"/><circle cx="377.9" cy="60.4" r="0.55" fill="#666"/><circle cx="382.6" cy="58.9" r="0.55" fill="#666"/><circle cx="387.2" cy="57.4" r="0.55" fill="#666"/><circle cx="391.9" cy="55.9" r="0.55" fill="#666"/><circle cx="396.5" cy="54.5" r="0.55" fill="#666"/><circle cx="401.1" cy="53.1" r="0.55" fill="#666"/><circle cx="405.8" cy="51.7" r="0.55" fill="#666"/><circle cx="410.4" cy="50.2" r="0.55" fill="#666"/><circle cx="415.1" cy="49.7" r="0.55" fill="#666"/><circle cx="419.7" cy="50.9" r="0.55" fill="#666"/><circle cx="424.4" cy="52.9" r="0.55" fill="#666"/><circle cx="429.0" cy="54.6" r="0.55" fill="#666"/><circle cx="433.7" cy="56.2" r="0.55" fill="#666"/><circle cx="438.3" cy="57.7" r="0.55" fill="#666"/><circle cx="443.0" cy="59.3" r="0.55" fill="#666"/><circle cx="447.6" cy="61.2" r="0.55" fill="#666"/><circle cx="452.3" cy="63.2" r="0.55" fill="#666"/><circle cx="456.9" cy="64.6" r="0.55" fill="#666"/><circle cx="461.6" cy="65.6" r="0.55" fill="#666"/><circle cx="466.2" cy="66.4" r="0.55" fill="#666"/><circle cx="470.9" cy="67.2" r="0.55" fill="#666"/><circle cx="475.5" cy="67.9" r="0.55" fill="#666"/><circle cx="480.2" cy="68.6" r="0.55" fill="#666"/><circle cx="484.8" cy="69.2" r="0.55" fill="#666"/><circle cx="489.5" cy="69.6" r="0.55" fill="#666"/><circle cx="494.1" cy="69.9" r="0.55" fill="#666"/><circle cx="308.2" cy="80.7" r="0.55" fill="#666"/><circle cx="312.8" cy="80.1" r="0.55" fill="#666"/><circle cx="317.5" cy="79.6" r="0.55" fill="#666"/><circle cx="322.1" cy="79.1" r="0.55" fill="#666"/><circle cx="326.8" cy="78.5" r="0.55" fill="#666"/><circle cx="331.4" cy="77.9" r="0.55" fill="#666"/><circle cx="336.1" cy="77.2" r="0.55" fill="#666"/><circle cx="340.7" cy="76.5" r="0.55" fill="#666"/><circle cx="345.4" cy="75.7" r="0.55" fill="#666"/><circle cx="350.0" cy="74.9" r="0.55" fill="#666"/><circle cx="354.7" cy="73.9" r="0.55" fill="#666"/><circle cx="359.3" cy="72.7" r="0.55" fill="#666"/><circle cx="364.0" cy="71.0" r="0.55" fill="#666"/><circle cx="368.6" cy="69.1" r="0.55" fill="#666"/><circle cx="373.3" cy="67.3" r="0.55" fill="#666"/><circle cx="377.9" cy="65.4" r="0.55" fill="#666"/><circle cx="382.6" cy="63.7" r="0.55" fill="#666"/><circle cx="387.2" cy="62.3" r="0.55" fill="#666"/><circle cx="391.9" cy="61.4" r="0.55" fill="#666"/><circle cx="396.5" cy="60.7" r="0.55" fill="#666"/><circle cx="401.1" cy="60.3" r="0.55" fill="#666"/><circle cx="405.8" cy="60.2" r="0.55" fill="#666"/><circle cx="410.4" cy="60.4" r="0.55" fill="#666"/><circle cx="415.1" cy="60.8" r="0.55" fill="#666"/><circle cx="419.7" cy="61.6" r="0.55" fill="#666"/><circle cx="424.4" cy="63.0" r="0.55" fill="#666"/><circle cx="429.0" cy="64.6" r="0.55" fill="#666"/><circle cx="433.7" cy="66.0" r="0.55" fill="#666"/><circle cx="438.3" cy="67.3" r="0.55" fill="#666"/><circle cx="443.0" cy="68.6" r="0.55" fill="#666"/><circle cx="447.6" cy="69.9" r="0.55" fill="#666"/><circle cx="452.3" cy="71.2" r="0.55" fill="#666"/><circle cx="456.9" cy="72.4" r="0.55" fill="#666"/><circle cx="461.6" cy="73.5" r="0.55" fill="#666"/><circle cx="466.2" cy="74.6" r="0.55" fill="#666"/><circle cx="470.9" cy="75.7" r="0.55" fill="#666"/><circle cx="475.5" cy="76.7" r="0.55" fill="#666"/><circle cx="480.2" cy="77.6" r="0.55" fill="#666"/><circle cx="484.8" cy="78.3" r="0.55" fill="#666"/><circle cx="489.5" cy="78.6" r="0.55" fill="#666"/><circle cx="494.1" cy="78.9" r="0.55" fill="#666"/><circle cx="308.2" cy="85.5" r="0.55" fill="#3040a0"/><circle cx="312.8" cy="85.0" r="0.55" fill="#3040a0"/><circle cx="317.5" cy="84.5" r="0.55" fill="#3040a0"/><circle cx="322.1" cy="84.0" r="0.55" fill="#3040a0"/><circle cx="326.8" cy="83.5" r="0.55" fill="#3040a0"/><circle cx="331.4" cy="82.9" r="0.55" fill="#3040a0"/><circle cx="336.1" cy="82.2" r="0.55" fill="#3040a0"/><circle cx="340.7" cy="81.3" r="0.55" fill="#3040a0"/><circle cx="345.4" cy="80.5" r="0.55" fill="#3040a0"/><circle cx="350.0" cy="79.5" r="0.55" fill="#3040a0"/><circle cx="354.7" cy="78.4" r="0.55" fill="#3040a0"/><circle cx="359.3" cy="77.2" r="0.55" fill="#3040a0"/><circle cx="364.0" cy="75.7" r="0.55" fill="#3040a0"/><circle cx="368.6" cy="74.1" r="0.55" fill="#3040a0"/><circle cx="373.3" cy="72.4" r="0.55" fill="#3040a0"/><circle cx="377.9" cy="70.7" r="0.55" fill="#3040a0"/><circle cx="382.6" cy="69.2" r="0.55" fill="#3040a0"/><circle cx="387.2" cy="68.1" r="0.55" fill="#3040a0"/><circle cx="391.9" cy="67.2" r="0.55" fill="#3040a0"/><circle cx="396.5" cy="66.7" r="0.55" fill="#3040a0"/><circle cx="401.1" cy="66.5" r="0.55" fill="#3040a0"/><circle cx="405.8" cy="66.7" r="0.55" fill="#3040a0"/><circle cx="410.4" cy="67.2" r="0.55" fill="#3040a0"/><circle cx="415.1" cy="68.2" r="0.55" fill="#3040a0"/><circle cx="419.7" cy="69.6" r="0.55" fill="#3040a0"/><circle cx="424.4" cy="71.2" r="0.55" fill="#3040a0"/><circle cx="429.0" cy="72.9" r="0.55" fill="#3040a0"/><circle cx="433.7" cy="74.4" r="0.55" fill="#3040a0"/><circle cx="438.3" cy="75.9" r="0.55" fill="#3040a0"/><circle cx="443.0" cy="77.4" r="0.55" fill="#3040a0"/><circle cx="447.6" cy="78.8" r="0.55" fill="#3040a0"/><circle cx="452.3" cy="80.1" r="0.55" fill="#3040a0"/><circle cx="456.9" cy="81.4" r="0.55" fill="#3040a0"/><circle cx="461.6" cy="82.4" r="0.55" fill="#3040a0"/><circle cx="466.2" cy="83.4" r="0.55" fill="#3040a0"/><circle cx="470.9" cy="84.2" r="0.55" fill="#3040a0"/><circle cx="475.5" cy="85.0" r="0.55" fill="#3040a0"/><circle cx="480.2" cy="85.7" r="0.55" fill="#3040a0"/><circle cx="484.8" cy="86.2" r="0.55" fill="#3040a0"/><circle cx="489.5" cy="86.4" r="0.55" fill="#3040a0"/><circle cx="494.1" cy="86.5" r="0.55" fill="#3040a0"/>
<path d="M308.2 96.6 L309.8 96.6 L311.4 96.6 L312.9 96.6 L314.5 96.6 L316.1 96.6 L317.7 96.6 L319.2 96.6 L320.8 96.6 L322.4 96.6 L324.0 96.6 L325.6 96.6 L327.3 96.6 L329.0 96.6 L330.7 96.5 L332.4 96.5 L334.0 96.5 L335.6 96.5 L337.2 96.6 L338.7 96.7 L340.0 96.8 L341.2 97.0 L342.4 97.3 L343.4 97.6 L344.4 97.9 L345.3 98.2 L346.2 98.6 L347.1 99.0 L348.0 99.3 L348.9 99.7 L349.8 100.0 L350.8 100.3 L351.7 100.6 L352.7 100.9 L353.6 101.1 L354.6 101.4 L355.6 101.7 L356.5 101.9 L357.5 102.2 L358.4 102.4 L359.4 102.7 L360.4 102.9 L361.3 103.2 L362.3 103.4 L363.3 103.6 L364.2 103.8 L365.2 104.1 L366.2 104.3 L367.2 104.5 L368.1 104.8 L369.1 105.1 L370.1 105.4 L371.0 105.8 L372.0 106.1 L372.9 106.5 L373.9 106.9 L374.9 107.3 L375.8 107.7 L376.8 108.1 L377.7 108.4 L378.7 108.8 L379.7 109.1 L380.6 109.5 L381.5 109.8 L382.5 110.1 L383.4 110.4 L384.4 110.8 L385.3 111.1 L386.3 111.5 L387.4 111.9 L388.4 112.3 L389.5 112.8 L390.7 113.3 L391.8 113.8 L393.1 114.4 L394.3 115.0 L395.5 115.6 L396.7 116.1 L397.9 116.7 L399.0 117.2 L400.0 117.7 L400.9 118.1 L401.8 118.5 L402.6 118.9 L403.3 119.3 L404.1 119.6 L404.8 120.0 L405.6 120.3 L406.4 120.7 L407.3 121.1 L408.3 121.6 L409.4 122.1 L410.6 122.7 L411.9 123.3 L413.2 123.9 L414.6 124.6 L416.0 125.2 L417.4 125.9 L418.8 126.5 L420.2 127.1 L421.5 127.6 L422.8 128.1 L424.2 128.6 L425.5 129.1 L426.8 129.5 L428.2 130.0 L429.5 130.4 L430.8 130.8 L432.1 131.2 L433.5 131.6 L434.8 132.0 L436.1 132.4 L437.4 132.7 L438.8 133.1 L440.1 133.4 L441.4 133.8 L442.7 134.1 L444.0 134.4 L445.4 134.6 L446.7 134.8 L448.0 135.0 L449.3 135.1 L450.7 135.2 L452.0 135.3 L453.3 135.3 L454.6 135.3 L456.0 135.2 L457.3 135.2 L458.6 135.1 L460.0 135.1 L461.3 135.0 L462.6 134.9 L463.9 134.8 L465.1 134.7 L466.3 134.5 L467.6 134.3 L468.8 134.2 L470.2 134.0 L471.5 133.9 L473.0 133.7 L474.6 133.6 L476.5 133.5 L478.5 133.4 L480.6 133.3 L482.8 133.2 L485.1 133.1 L487.4 133.0 L489.6 133.0 L491.9 132.9 L494.1 132.8 M308.2 110.4 L309.8 110.1 L311.4 109.8 L312.9 109.5 L314.5 109.3 L316.1 109.0 L317.7 108.7 L319.2 108.4 L320.8 108.1 L322.4 107.8 L324.0 107.5 L325.6 107.2 L327.3 106.8 L329.0 106.4 L330.7 106.1 L332.4 105.7 L334.0 105.3 L335.6 105.0 L337.2 104.6 L338.7 104.3 L340.0 104.0 L341.2 103.7 L342.4 103.5 L343.5 103.2 L344.5 103.0 L345.5 102.7 L346.4 102.5 L347.3 102.3 L348.2 102.2 L349.0 102.0 L349.8 101.9 L350.6 101.8 L351.3 101.7 L352.0 101.7 L352.7 101.7 L353.3 101.7 L353.9 101.7 L354.5 101.7 L355.0 101.7 L355.5 101.8 L356.0 101.8 L356.5 101.9 L356.9 101.9 L357.3 102.0 L357.7 102.1 L358.0 102.2 L358.4 102.4 L358.7 102.5 L359.0 102.6 L359.4 102.7 M308.2 96.6 L310.6 96.6 L313.1 96.6 L315.6 96.7 L318.1 96.7 L320.6 96.8 L323.0 96.8 L325.4 96.8 L327.7 96.8 L329.9 96.7 L332.0 96.6 L333.9 96.4 L335.7 96.2 L337.4 96.0 L339.0 95.7 L340.5 95.4 L342.0 95.1 L343.4 94.8 L344.9 94.4 L346.4 94.1 L348.0 93.8 L349.6 93.5 L351.2 93.2 L352.8 92.8 L354.4 92.5 L356.0 92.2 L357.6 91.8 L359.2 91.5 L360.8 91.2 L362.4 90.9 L364.0 90.6 L365.6 90.3 L367.1 90.1 L368.6 89.8 L370.1 89.6 L371.6 89.4 L373.1 89.2 L374.7 89.0 L376.4 88.8 L378.1 88.6 L380.0 88.5 L382.0 88.4 L384.1 88.3 L386.2 88.2 L388.4 88.1 L390.7 88.0 L393.0 87.9 L395.4 87.9 L397.9 87.9 L400.4 87.9 L403.0 87.9 L405.6 87.9 L408.4 88.0 L411.2 88.1 L414.0 88.2 L416.9 88.3 L419.9 88.5 L422.9 88.6 L425.9 88.7 L429.0 88.9 L432.0 89.0 L435.1 89.1 L438.2 89.3 L441.4 89.4 L444.7 89.5 L447.9 89.7 L451.2 89.8 L454.4 89.9 L457.7 90.0 L460.9 90.2 L464.0 90.3 L467.4 90.4 L470.8 90.6 L474.2 90.7 L477.5 90.8 L480.8 90.9 L484.1 91.0 L487.4 91.2 L490.8 91.3 L494.1 91.4 M308.2 100.3 L311.5 100.1 L314.8 100.0 L318.2 99.8 L321.7 99.6 L325.1 99.5 L328.4 99.3 L331.6 99.2 L334.7 99.0 L337.5 98.8 L340.0 98.7 L342.2 98.6 L344.2 98.4 L346.0 98.3 L347.5 98.1 L349.0 98.0 L350.4 97.8 L351.7 97.7 L353.1 97.6 L354.5 97.5 L356.0 97.5 L357.6 97.5 L359.2 97.5 L360.8 97.6 L362.4 97.6 L364.0 97.7 L365.6 97.8 L367.2 97.9 L368.8 98.0 L370.4 98.1 L372.0 98.2 L373.6 98.3 L375.2 98.4 L376.8 98.5 L378.4 98.6 L380.1 98.7 L381.7 98.7 L383.3 98.8 L384.9 98.9 L386.4 99.0 L388.0 99.1 L389.5 99.2 L390.8 99.2 L392.1 99.3 L393.4 99.4 L394.7 99.4 L396.0 99.5 L397.5 99.6 L399.1 99.6 L400.9 99.7 L403.0 99.8 L405.3 99.9 L407.9 100.0 L410.6 100.1 L413.4 100.2 L416.4 100.3 L419.5 100.4 L422.6 100.5 L425.8 100.6 L428.9 100.7 L432.0 100.8 L435.1 100.9 L438.2 100.9 L441.4 101.0 L444.7 101.1 L447.9 101.1 L451.2 101.2 L454.4 101.2 L457.7 101.3 L460.9 101.3 L464.0 101.4 L467.4 101.5 L470.8 101.5 L474.2 101.6 L477.5 101.6 L480.8 101.7 L484.1 101.7 L487.4 101.8 L490.8 101.8 L494.1 101.9 M308.2 124.1 L310.6 124.1 L313.0 124.1 L315.3 124.1 L317.7 124.1 L320.1 124.0 L322.5 124.0 L324.8 124.0 L327.2 124.0 L329.6 124.1 L332.0 124.1 L334.4 124.1 L336.8 124.2 L339.2 124.2 L341.6 124.3 L344.0 124.4 L346.4 124.4 L348.8 124.5 L351.2 124.6 L353.6 124.8 L356.0 124.9 L358.4 125.1 L360.9 125.2 L363.5 125.4 L366.0 125.6 L368.6 125.8 L371.0 126.0 L373.5 126.3 L375.8 126.5 L378.0 126.8 L380.0 127.1 L381.9 127.4 L383.6 127.8 L385.2 128.2 L386.7 128.6 L388.2 129.1 L389.6 129.5 L390.9 129.9 L392.3 130.3 L393.6 130.6 L395.0 130.9 L396.4 131.1 L397.7 131.3 L399.0 131.4 L400.3 131.5 L401.6 131.5 L402.9 131.6 L404.1 131.7 L405.4 131.8 L406.7 132.0 L408.0 132.2 L409.3 132.5 L410.7 132.8 L412.0 133.2 L413.4 133.6 L414.7 134.0 L416.1 134.5 L417.4 134.9 L418.8 135.4 L420.2 135.8 L421.5 136.2 L422.8 136.6 L424.2 137.0 L425.5 137.4 L426.8 137.8 L428.2 138.3 L429.5 138.7 L430.8 139.1 L432.1 139.5 L433.5 139.8 L434.8 140.2 L436.1 140.6 L437.4 140.9 L438.8 141.2 L440.1 141.6 L441.4 141.9 L442.7 142.2 L444.1 142.5 L445.4 142.8 L446.7 143.0 L448.0 143.3 L449.3 143.5 L450.6 143.8 L451.9 144.0 L453.2 144.2 L454.5 144.4 L455.8 144.6 L457.1 144.8 L458.4 145.0 L459.7 145.1 L461.0 145.3 L462.3 145.4 L463.6 145.6 L464.9 145.7 L466.1 145.8 L467.4 145.9 L468.7 146.0 L470.1 146.1 L471.5 146.2 L473.0 146.3 L474.6 146.4 L476.5 146.5 L478.5 146.6 L480.7 146.7 L482.9 146.8 L485.1 146.9 L487.4 146.9 L489.7 147.0 L491.9 147.1 L494.1 147.2 M308.2 124.4 L310.6 124.6 L313.0 124.7 L315.3 124.8 L317.7 125.0 L320.1 125.1 L322.5 125.2 L324.8 125.4 L327.2 125.6 L329.6 125.8 L332.0 126.0 L334.4 126.3 L336.8 126.5 L339.2 126.8 L341.6 127.1 L344.0 127.4 L346.4 127.8 L348.8 128.1 L351.2 128.5 L353.6 128.8 L356.0 129.2 L358.4 129.6 L360.9 130.0 L363.5 130.4 L366.0 130.8 L368.6 131.2 L371.0 131.6 L373.5 132.0 L375.8 132.4 L378.0 132.8 L380.0 133.2 L381.9 133.6 L383.6 134.0 L385.2 134.4 L386.7 134.8 L388.2 135.2 L389.6 135.6 L390.9 135.9 L392.3 136.3 L393.6 136.6 L395.0 136.9 L396.4 137.2 L397.7 137.4 L399.0 137.6 L400.3 137.7 L401.6 137.9 L402.9 138.0 L404.1 138.2 L405.4 138.3 L406.7 138.4 L408.0 138.6 L409.3 138.8 L410.7 138.9 L412.0 139.1 L413.4 139.2 L414.7 139.4 L416.1 139.5 L417.4 139.7 L418.8 139.9 L420.2 140.0 L421.5 140.2 L422.8 140.4 L424.2 140.6 L425.5 140.8 L426.8 141.0 L428.2 141.2 L429.5 141.4 L430.8 141.6 L432.1 141.8 L433.5 142.0 L434.8 142.2 L436.1 142.4 L437.4 142.5 L438.8 142.7 L440.1 142.8 L441.4 142.9 L442.7 143.1 L444.1 143.2 L445.4 143.4 L446.7 143.5 L448.0 143.7 L449.3 143.9 L450.6 144.1 L451.9 144.3 L453.2 144.5 L454.5 144.7 L455.8 144.9 L457.1 145.2 L458.4 145.3 L459.7 145.5 L461.0 145.7 L462.3 145.8 L463.6 146.0 L464.9 146.1 L466.1 146.2 L467.4 146.3 L468.7 146.4 L470.1 146.5 L471.5 146.6 L473.0 146.7 L474.6 146.8 L476.5 146.9 L478.5 147.0 L480.7 147.0 L482.9 147.1 L485.1 147.2 L487.4 147.2 L489.7 147.3 L491.9 147.3 L494.1 147.4 M308.2 185.8 L317.4 185.8 L326.5 185.9 L335.7 185.9 L344.8 186.0 L354.0 186.0 L363.1 186.0 L372.3 186.1 L381.5 186.1 L390.7 186.2 L400.0 186.2 L410.4 186.2 L420.8 186.3 L431.2 186.3 L441.7 186.4 L452.2 186.4 L462.6 186.5 L473.1 186.5 L483.6 186.6 L494.1 186.6 M308.2 185.8 L310.6 185.6 L313.1 185.5 L315.6 185.4 L318.1 185.2 L320.6 185.1 L323.0 185.0 L325.4 184.8 L327.7 184.6 L329.9 184.4 L332.0 184.2 L333.9 183.9 L335.7 183.7 L337.4 183.4 L339.0 183.0 L340.5 182.7 L342.0 182.4 L343.4 182.0 L344.9 181.7 L346.4 181.3 L348.0 181.0 L349.6 180.7 L351.2 180.4 L352.8 180.0 L354.4 179.7 L356.0 179.4 L357.6 179.1 L359.2 178.8 L360.8 178.4 L362.4 178.1 L364.0 177.8 L365.6 177.5 L367.2 177.2 L368.8 176.8 L370.4 176.5 L372.0 176.2 L373.6 175.9 L375.2 175.6 L376.8 175.2 L378.4 174.9 L380.0 174.6 L381.6 174.3 L383.3 173.9 L385.1 173.6 L386.8 173.2 L388.6 172.9 L390.2 172.5 L391.9 172.2 L393.4 171.9 L394.8 171.6 L396.0 171.4 L397.0 171.2 L397.6 171.0 L398.1 170.9 L398.4 170.8 L398.7 170.7 L399.0 170.6 L399.6 170.5 L400.3 170.5 L401.4 170.4 L403.0 170.3 L405.0 170.2 L407.3 170.1 L410.0 170.0 L412.9 169.8 L415.9 169.7 L419.1 169.6 L422.4 169.5 L425.7 169.4 L428.9 169.4 L432.0 169.4 L435.1 169.4 L438.2 169.5 L441.4 169.6 L444.7 169.7 L447.9 169.8 L451.2 170.0 L454.4 170.1 L457.7 170.2 L460.9 170.4 L464.0 170.5 L467.4 170.6 L470.8 170.8 L474.2 170.9 L477.5 171.0 L480.8 171.2 L484.1 171.3 L487.4 171.4 L490.8 171.6 L494.1 171.7 M308.2 207.7 L309.2 207.7 L310.2 207.7 L311.2 207.6 L312.1 207.6 L313.1 207.6 L314.1 207.6 L315.1 207.6 L316.1 207.5 L317.0 207.5 L318.0 207.4 L318.9 207.3 L319.9 207.2 L320.8 207.1 L321.7 207.0 L322.7 206.9 L323.6 206.7 L324.5 206.6 L325.4 206.4 L326.4 206.3 L327.3 206.1 L328.3 205.9 L329.2 205.8 L330.2 205.6 L331.2 205.4 L332.1 205.2 L333.1 205.0 L334.1 204.8 L335.1 204.6 L336.0 204.3 L337.0 204.1 L338.0 203.9 L338.9 203.6 L339.9 203.4 L340.8 203.1 L341.8 202.8 L342.8 202.6 L343.7 202.3 L344.7 202.0 L345.6 201.6 L346.6 201.3 L347.6 200.9 L348.5 200.5 L349.5 200.1 L350.5 199.6 L351.5 199.2 L352.5 198.7 L353.4 198.3 L354.4 197.8 L355.3 197.4 L356.2 197.0 L357.1 196.6 L357.9 196.3 L358.7 195.9 L359.6 195.6 L360.3 195.2 L361.1 194.9 L361.9 194.5 L362.7 194.2 L363.5 193.9 L364.3 193.5 L365.1 193.1 L365.9 192.8 L366.7 192.4 L367.5 192.1 L368.3 191.7 L369.1 191.3 L369.9 191.0 L370.7 190.6 L371.5 190.2 L372.3 189.8 L373.1 189.4 L373.9 189.0 L374.7 188.6 L375.4 188.1 L376.2 187.7 L377.0 187.3 L377.8 186.8 L378.5 186.4 L379.3 185.9 L380.0 185.5 L380.7 185.1 L381.4 184.6 L382.2 184.2 L382.9 183.7 L383.5 183.3 L384.2 182.9 L384.9 182.4 L385.6 181.9 L386.3 181.5 L387.0 181.0 L387.7 180.5 L388.4 180.0 L389.1 179.5 L389.8 179.0 L390.5 178.4 L391.2 177.9 L391.9 177.4 L392.6 176.9 L393.3 176.3 L394.0 175.8 L394.7 175.3 L395.4 174.8 L396.0 174.2 L396.7 173.7 L397.4 173.2 L398.1 172.6 L398.8 172.1 L399.5 171.6 L400.2 171.0 L401.0 170.5 L401.8 170.0 L402.6 169.4 L403.5 168.8 L404.4 168.3 L405.2 167.7 L406.1 167.1 L407.0 166.6 L407.9 166.0 L408.8 165.5 L409.6 164.9 L410.4 164.3 L411.2 163.8 L411.9 163.2 L412.7 162.6 L413.4 162.1 L414.2 161.5 L414.9 161.0 L415.8 160.4 L416.6 159.9 L417.5 159.4 L418.5 158.9 L419.5 158.4 L420.5 157.9 L421.6 157.4 L422.7 156.9 L423.8 156.5 L424.9 156.0 L426.0 155.6 L427.1 155.2 L428.2 154.8 L429.3 154.5 L430.3 154.1 L431.3 153.8 L432.4 153.6 L433.4 153.3 L434.5 153.1 L435.5 152.8 L436.6 152.6 L437.7 152.3 L438.8 152.1 L439.9 151.9 L441.1 151.6 L442.3 151.3 L443.5 151.1 L444.8 150.8 L446.0 150.6 L447.2 150.4 L448.4 150.2 L449.6 150.0 L450.7 149.9 L451.8 149.8 L452.9 149.7 L453.9 149.7 L454.9 149.6 L455.9 149.6 L456.9 149.6 L458.0 149.7 L459.0 149.7 L460.1 149.7 L461.3 149.8 L462.5 149.9 L463.7 150.0 L464.9 150.1 L466.1 150.2 L467.4 150.4 L468.7 150.5 L470.1 150.7 L471.5 150.8 L473.0 151.0 L474.6 151.1 L476.5 151.2 L478.5 151.4 L480.6 151.5 L482.8 151.6 L485.1 151.8 L487.4 151.9 L489.6 152.0 L491.9 152.2 L494.1 152.3 M308.2 267.4 L310.3 267.5 L312.4 267.5 L314.4 267.6 L316.4 267.6 L318.5 267.7 L320.6 267.7 L322.7 267.8 L325.0 267.8 L327.4 267.9 L330.0 268.0 L332.8 268.1 L336.0 268.2 L339.3 268.3 L342.8 268.4 L346.3 268.6 L349.8 268.7 L353.1 268.8 L356.3 269.0 L359.1 269.1 L361.6 269.3 L363.7 269.5 L365.6 269.7 L367.2 269.9 L368.7 270.2 L370.0 270.4 L371.1 270.6 L372.2 270.9 L373.1 271.1 L374.1 271.3 L375.0 271.4 L375.9 271.5 L376.7 271.6 L377.3 271.7 L377.8 271.7 L378.2 271.7 L378.6 271.7 L379.1 271.7 L379.5 271.8 L380.0 271.8 M308.2 271.4 L314.9 271.4 L321.6 271.5 L328.2 271.5 L334.9 271.5 L341.6 271.5 L348.3 271.6 L354.9 271.6 L361.6 271.7 L368.3 271.8 L375.0 272.0 L381.8 272.2 L388.6 272.5 L395.6 272.9 L402.5 273.3 L409.4 273.7 L416.3 274.1 L423.0 274.5 L429.6 274.9 L435.9 275.2 L442.0 275.5 L448.4 275.7 L454.6 275.9 L460.5 276.1 L466.2 276.2 L471.8 276.3 L477.3 276.4 L482.8 276.6 L488.4 276.7 L494.1 276.8 M308.2 314.5 L309.6 314.6 L311.1 314.7 L312.5 314.8 L314.0 314.8 L315.4 314.9 L316.9 315.0 L318.3 315.1 L319.8 315.2 L321.2 315.3 L322.7 315.4 L324.2 315.5 L325.6 315.6 L327.1 315.8 L328.6 315.9 L330.1 316.0 L331.6 316.2 L333.1 316.3 L334.5 316.5 L336.0 316.6 L337.5 316.8 L339.0 317.0 L340.4 317.1 L341.9 317.3 L343.4 317.4 L344.8 317.6 L346.3 317.8 L347.8 318.0 L349.3 318.2 L350.7 318.4 L352.2 318.6 L353.7 318.8 L355.2 319.1 L356.6 319.4 L358.1 319.6 L359.6 319.9 L361.1 320.2 L362.6 320.5 L364.0 320.9 L365.5 321.2 L367.0 321.5 L368.5 321.8 L369.9 322.2 L371.4 322.5 L372.9 322.9 L374.3 323.2 L375.8 323.6 L377.3 324.0 L378.8 324.4 L380.2 324.8 L381.7 325.2 L383.2 325.6 L384.6 326.0 L386.0 326.4 L387.4 326.9 L388.9 327.3 L390.3 327.8 L391.8 328.2 L393.3 328.7 L394.9 329.2 L396.5 329.7 L398.2 330.2 L400.0 330.8 L401.8 331.3 L403.7 331.9 L405.6 332.5 L407.5 333.1 L409.4 333.7 L411.2 334.4 L413.0 335.0 L414.7 335.6 L416.4 336.2 L418.0 336.9 L419.7 337.6 L421.3 338.2 L422.9 338.9 L424.4 339.6 L425.8 340.3 L427.2 340.9 L428.4 341.6 L429.5 342.2 L430.5 342.9 L431.4 343.5 L432.1 344.1 L432.7 344.7 L433.3 345.3 L433.8 345.8 L434.3 346.4 L434.8 347.0 L435.4 347.6 M308.2 307.5 L309.6 307.5 L311.1 307.6 L312.5 307.6 L314.0 307.6 L315.4 307.7 L316.9 307.7 L318.3 307.8 L319.8 307.8 L321.2 307.9 L322.7 308.0 L324.2 308.1 L325.6 308.2 L327.1 308.4 L328.6 308.5 L330.1 308.7 L331.6 308.9 L333.1 309.1 L334.5 309.3 L336.0 309.5 L337.5 309.7 L339.0 309.9 L340.4 310.2 L341.9 310.5 L343.4 310.8 L344.8 311.1 L346.3 311.4 L347.8 311.8 L349.3 312.1 L350.7 312.4 L352.2 312.7 L353.7 313.0 L355.2 313.3 L356.6 313.6 L358.1 313.9 L359.6 314.2 L361.1 314.4 L362.6 314.7 L364.0 315.0 L365.5 315.3 L367.0 315.6 L368.5 315.9 L369.9 316.2 L371.4 316.5 L372.9 316.8 L374.3 317.1 L375.8 317.3 L377.3 317.6 L378.8 318.0 L380.2 318.3 L381.7 318.6 L383.2 318.9 L384.6 319.2 L386.0 319.6 L387.4 319.9 L388.9 320.2 L390.3 320.6 L391.8 321.0 L393.3 321.4 L394.9 321.8 L396.5 322.3 L398.2 322.8 L400.0 323.4 L401.8 324.1 L403.7 324.7 L405.6 325.4 L407.5 326.1 L409.4 326.8 L411.2 327.5 L413.0 328.2 L414.7 328.9 L416.3 329.6 L417.9 330.2 L419.5 330.9 L421.0 331.6 L422.5 332.2 L424.0 332.9 L425.4 333.6 L426.8 334.3 L428.2 334.9 L429.5 335.6 L430.8 336.3 L432.1 336.9 L433.4 337.6 L434.7 338.3 L436.0 339.0 L437.1 339.7 L438.3 340.3 L439.4 341.0 L440.4 341.6 L441.3 342.2 L442.2 342.9 L443.0 343.5 L443.7 344.1 L444.3 344.7 L444.9 345.3 L445.5 345.8 L446.0 346.4 L446.6 347.0 L447.2 347.6 M308.2 317.2 L309.6 317.2 L311.1 317.3 L312.5 317.3 L314.0 317.3 L315.4 317.3 L316.9 317.3 L318.3 317.4 L319.8 317.4 L321.2 317.4 L322.7 317.5 L324.2 317.5 L325.6 317.6 L327.1 317.6 L328.6 317.6 L330.1 317.7 L331.6 317.7 L333.1 317.8 L334.5 317.9 L336.0 318.1 L337.5 318.3 L339.0 318.6 L340.4 318.9 L341.9 319.3 L343.4 319.7 L344.8 320.1 L346.3 320.5 L347.8 321.0 L349.3 321.4 L350.7 321.9 L352.2 322.3 L353.7 322.7 L355.2 323.1 L356.6 323.6 L358.1 324.0 L359.6 324.4 L361.1 324.9 L362.6 325.3 L364.0 325.8 L365.5 326.2 L367.0 326.7 L368.5 327.2 L369.9 327.6 L371.4 328.1 L372.9 328.6 L374.3 329.1 L375.8 329.6 L377.3 330.1 L378.8 330.6 L380.2 331.1 L381.7 331.6 L383.2 332.1 L384.6 332.6 L386.1 333.1 L387.6 333.7 L389.1 334.2 L390.5 334.7 L392.0 335.3 L393.5 335.8 L395.0 336.4 L396.5 337.0 L398.0 337.6 L399.6 338.3 L401.3 339.0 L402.9 339.7 L404.5 340.4 L406.1 341.2 L407.7 341.9 L409.1 342.5 L410.5 343.1 L411.8 343.7 L413.1 344.3 L414.2 344.8 L415.2 345.2 L416.2 345.6 L417.0 346.0 L417.9 346.4 L418.8 346.8 L419.7 347.2 L420.6 347.6 M308.2 327.7 L309.6 327.8 L311.1 327.9 L312.5 328.0 L314.0 328.0 L315.4 328.1 L316.9 328.2 L318.3 328.3 L319.8 328.4 L321.2 328.5 L322.7 328.6 L324.2 328.7 L325.6 328.8 L327.1 329.0 L328.6 329.1 L330.1 329.2 L331.6 329.4 L333.1 329.5 L334.5 329.7 L336.0 329.9 L337.5 330.1 L339.0 330.3 L340.4 330.6 L341.9 330.9 L343.4 331.2 L344.8 331.5 L346.3 331.8 L347.8 332.1 L349.3 332.5 L350.7 332.8 L352.2 333.1 L353.7 333.4 L355.2 333.7 L356.6 334.0 L358.1 334.3 L359.6 334.6 L361.1 334.9 L362.6 335.2 L364.0 335.6 L365.5 335.9 L367.0 336.3 L368.5 336.7 L369.9 337.1 L371.4 337.5 L372.9 338.0 L374.3 338.4 L375.8 338.9 L377.3 339.3 L378.8 339.8 L380.2 340.3 L381.7 340.7 L383.2 341.1 L384.8 341.6 L386.5 342.1 L388.2 342.6 L389.8 343.0 L391.4 343.5 L392.9 343.9 L394.3 344.3 L395.5 344.7 L396.5 345.1 L397.4 345.5 L398.0 345.8 L398.5 346.1 L398.8 346.3 L399.1 346.6 L399.3 346.8 L399.4 347.1 L399.7 347.3 L400.0 347.6 M308.2 336.6 L309.6 336.7 L311.1 336.8 L312.5 336.8 L314.0 336.9 L315.4 337.0 L316.9 337.1 L318.3 337.2 L319.8 337.3 L321.2 337.4 L322.7 337.5 L324.2 337.6 L325.6 337.8 L327.1 337.9 L328.6 338.1 L330.1 338.2 L331.6 338.4 L333.1 338.6 L334.5 338.8 L336.0 339.0 L337.5 339.2 L339.0 339.4 L340.4 339.7 L341.9 340.0 L343.4 340.3 L344.8 340.6 L346.3 340.9 L347.8 341.2 L349.3 341.5 L350.7 341.9 L352.2 342.2 L353.7 342.6 L355.3 342.9 L356.9 343.3 L358.5 343.7 L360.1 344.1 L361.6 344.5 L363.1 344.9 L364.5 345.3 L365.8 345.6 L367.0 345.9 L368.1 346.2 L369.1 346.4 L370.0 346.6 L370.8 346.8 L371.5 347.0 L372.2 347.1 L372.9 347.3 L373.6 347.4 L374.4 347.6 M308.2 318.4 L311.1 318.3 L314.2 318.2 L317.3 318.1 L320.4 318.0 L323.5 317.9 L326.5 317.8 L329.4 317.7 L332.1 317.6 L334.7 317.5 L337.0 317.4 L339.1 317.3 L340.9 317.3 L342.5 317.2 L344.0 317.2 L345.4 317.1 L346.7 317.1 L347.9 317.0 L349.2 317.0 L350.6 316.9 L352.0 316.8 L353.5 316.7 L355.0 316.6 L356.5 316.5 L358.0 316.4 L359.5 316.2 L361.0 316.1 L362.5 316.0 L364.0 315.8 L365.5 315.7 L367.0 315.6 L368.5 315.5 L370.0 315.4 L371.4 315.3 L372.9 315.2 L374.3 315.1 L375.8 315.0 L377.3 314.9 L378.8 314.8 L380.4 314.7 L382.0 314.6 L383.6 314.5 L385.2 314.5 L386.8 314.4 L388.4 314.3 L390.1 314.3 L391.8 314.2 L393.7 314.2 L395.6 314.1 L397.7 314.0 L400.0 313.9 L402.5 313.8 L405.2 313.7 L408.0 313.5 L411.0 313.4 L414.0 313.2 L417.1 313.0 L420.3 312.9 L423.4 312.7 L426.5 312.6 L429.5 312.4 L432.4 312.2 L435.3 312.1 L438.2 311.9 L441.0 311.8 L443.9 311.6 L446.8 311.5 L449.7 311.3 L452.7 311.2 L455.8 311.0 L459.0 310.9 L462.7 310.8 L466.4 310.7 L470.3 310.6 L474.2 310.5 L478.2 310.4 L482.2 310.3 L486.2 310.2 L490.2 310.1 L494.1 310.0" fill="none" stroke="#505050" stroke-width="0.8"/>
<circle cx="308.2" cy="96.6" r="2.0" fill="none" stroke="#6fe06f" stroke-width="1"/><circle cx="308.2" cy="96.6" r="1.3" fill="#5a1a2a"/><circle cx="312.8" cy="96.6" r="2.0" fill="none" stroke="#6fe06f" stroke-width="1"/><circle cx="312.8" cy="96.6" r="1.3" fill="#5a1a2a"/><circle cx="317.5" cy="96.6" r="2.0" fill="none" stroke="#6fe06f" stroke-width="1"/><circle cx="317.5" cy="96.6" r="1.3" fill="#5a1a2a"/><circle cx="322.1" cy="96.6" r="2.0" fill="none" stroke="#6fe06f" stroke-width="1"/><circle cx="322.1" cy="96.6" r="1.3" fill="#5a1a2a"/><circle cx="326.8" cy="96.6" r="2.0" fill="none" stroke="#6fe06f" stroke-width="1"/><circle cx="326.8" cy="96.6" r="1.3" fill="#5a1a2a"/><circle cx="331.4" cy="96.5" r="2.0" fill="none" stroke="#6fe06f" stroke-width="1"/><circle cx="331.4" cy="96.5" r="1.3" fill="#5a1a2a"/><circle cx="336.1" cy="96.5" r="2.0" fill="none" stroke="#6fe06f" stroke-width="1"/><circle cx="336.1" cy="96.5" r="1.3" fill="#5a1a2a"/><circle cx="340.7" cy="96.9" r="2.0" fill="none" stroke="#6fe06f" stroke-width="1"/><circle cx="340.7" cy="96.9" r="1.3" fill="#5a1a2a"/><circle cx="345.4" cy="98.3" r="1.35" fill="#5a1850"/><circle cx="350.0" cy="100.1" r="1.35" fill="#5a1850"/><circle cx="354.7" cy="101.4" r="1.35" fill="#5a1850"/><circle cx="359.3" cy="102.7" r="1.35" fill="#5a1850"/><circle cx="364.0" cy="103.8" r="1.35" fill="#5a1850"/><circle cx="368.6" cy="105.0" r="1.35" fill="#5a1850"/><circle cx="373.3" cy="106.6" r="1.35" fill="#5a1850"/><circle cx="377.9" cy="108.5" r="1.35" fill="#5a1850"/><circle cx="382.6" cy="110.1" r="1.35" fill="#5a1850"/><circle cx="387.2" cy="111.8" r="1.35" fill="#5a1850"/><circle cx="391.9" cy="113.8" r="1.35" fill="#5a1850"/><circle cx="396.5" cy="116.0" r="1.35" fill="#5a1850"/><circle cx="401.1" cy="118.2" r="1.35" fill="#5a1850"/><circle cx="405.8" cy="120.4" r="1.35" fill="#5a1850"/><circle cx="410.4" cy="122.6" r="1.35" fill="#5a1850"/><circle cx="415.1" cy="124.8" r="1.35" fill="#5a1850"/><circle cx="419.7" cy="126.9" r="1.35" fill="#5a1850"/><circle cx="424.4" cy="128.7" r="1.35" fill="#5a1850"/><circle cx="429.0" cy="130.3" r="1.35" fill="#5a1850"/><circle cx="433.7" cy="131.7" r="1.35" fill="#5a1850"/><circle cx="438.3" cy="133.0" r="1.35" fill="#5a1850"/><circle cx="443.0" cy="134.1" r="2.0" fill="#5a1838" stroke="#d8303e" stroke-width="1.2"/><circle cx="447.6" cy="135.0" r="2.0" fill="#5a1838" stroke="#d8303e" stroke-width="1.2"/><circle cx="452.3" cy="135.3" r="2.0" fill="#5a1838" stroke="#d8303e" stroke-width="1.2"/><circle cx="456.9" cy="135.2" r="2.0" fill="#5a1838" stroke="#d8303e" stroke-width="1.2"/><circle cx="461.6" cy="135.0" r="2.0" fill="#5a1838" stroke="#d8303e" stroke-width="1.2"/><circle cx="466.2" cy="134.5" r="2.0" fill="#5a1838" stroke="#d8303e" stroke-width="1.2"/><circle cx="470.9" cy="133.9" r="2.0" fill="#5a1838" stroke="#d8303e" stroke-width="1.2"/><circle cx="475.5" cy="133.5" r="2.0" fill="#5a1838" stroke="#d8303e" stroke-width="1.2"/><circle cx="480.2" cy="133.3" r="2.0" fill="#5a1838" stroke="#d8303e" stroke-width="1.2"/><circle cx="484.8" cy="133.1" r="2.0" fill="#5a1838" stroke="#d8303e" stroke-width="1.2"/><circle cx="489.5" cy="133.0" r="2.0" fill="#5a1838" stroke="#d8303e" stroke-width="1.2"/><circle cx="494.1" cy="132.8" r="2.0" fill="#5a1838" stroke="#d8303e" stroke-width="1.2"/><circle cx="308.2" cy="110.4" r="1.35" fill="#5a1850"/><circle cx="312.8" cy="109.6" r="1.35" fill="#5a1850"/><circle cx="317.5" cy="108.7" r="1.35" fill="#5a1850"/><circle cx="322.1" cy="107.9" r="1.35" fill="#5a1850"/><circle cx="326.8" cy="106.9" r="1.35" fill="#5a1850"/><circle cx="331.4" cy="105.9" r="1.35" fill="#5a1850"/><circle cx="336.1" cy="104.9" r="1.35" fill="#5a1850"/><circle cx="340.7" cy="103.8" r="1.35" fill="#5a1850"/><circle cx="345.4" cy="102.8" r="1.35" fill="#5a1850"/><circle cx="350.0" cy="101.9" r="1.35" fill="#5a1850"/><circle cx="354.7" cy="101.7" r="1.35" fill="#5a1850"/><circle cx="359.3" cy="102.7" r="1.35" fill="#5a1850"/><circle cx="308.2" cy="96.6" r="2.0" fill="none" stroke="#6ee06e" stroke-width="1"/><circle cx="312.8" cy="96.6" r="2.0" fill="none" stroke="#6ee06e" stroke-width="1"/><circle cx="317.5" cy="96.7" r="2.0" fill="none" stroke="#6ee06e" stroke-width="1"/><circle cx="322.1" cy="96.8" r="2.0" fill="none" stroke="#6ee06e" stroke-width="1"/><circle cx="326.8" cy="96.8" r="2.0" fill="none" stroke="#6ee06e" stroke-width="1"/><circle cx="331.4" cy="96.6" r="2.0" fill="none" stroke="#6ee06e" stroke-width="1"/><circle cx="336.1" cy="96.2" r="2.0" fill="none" stroke="#6ee06e" stroke-width="1"/><circle cx="340.7" cy="95.3" r="2.0" fill="none" stroke="#6ee06e" stroke-width="1"/><circle cx="345.4" cy="94.3" r="2.0" fill="none" stroke="#6ee06e" stroke-width="1"/><circle cx="350.0" cy="93.4" r="2.0" fill="none" stroke="#6ee06e" stroke-width="1"/><circle cx="354.7" cy="92.4" r="2.0" fill="none" stroke="#6ee06e" stroke-width="1"/><circle cx="359.3" cy="91.5" r="2.0" fill="none" stroke="#6ee06e" stroke-width="1"/><circle cx="364.0" cy="90.6" r="2.0" fill="none" stroke="#6ee06e" stroke-width="1"/><circle cx="368.6" cy="89.8" r="2.0" fill="none" stroke="#6ee06e" stroke-width="1"/><circle cx="373.3" cy="89.2" r="2.0" fill="none" stroke="#6ee06e" stroke-width="1"/><circle cx="377.9" cy="88.7" r="2.0" fill="none" stroke="#6ee06e" stroke-width="1"/><circle cx="382.6" cy="88.3" r="2.0" fill="none" stroke="#6ee06e" stroke-width="1"/><circle cx="387.2" cy="88.1" r="2.0" fill="none" stroke="#6ee06e" stroke-width="1"/><circle cx="391.9" cy="88.0" r="2.0" fill="none" stroke="#6ee06e" stroke-width="1"/><circle cx="396.5" cy="87.9" r="2.0" fill="none" stroke="#6ee06e" stroke-width="1"/><circle cx="401.1" cy="87.9" r="2.0" fill="none" stroke="#6ee06e" stroke-width="1"/><circle cx="405.8" cy="87.9" r="2.0" fill="none" stroke="#6ee06e" stroke-width="1"/><circle cx="410.4" cy="88.1" r="2.0" fill="none" stroke="#6ee06e" stroke-width="1"/><circle cx="415.1" cy="88.3" r="2.0" fill="none" stroke="#6ee06e" stroke-width="1"/><circle cx="419.7" cy="88.5" r="2.0" fill="none" stroke="#6ee06e" stroke-width="1"/><circle cx="424.4" cy="88.7" r="2.0" fill="none" stroke="#6ee06e" stroke-width="1"/><circle cx="429.0" cy="88.9" r="2.0" fill="none" stroke="#6ee06e" stroke-width="1"/><circle cx="433.7" cy="89.1" r="2.0" fill="none" stroke="#6ee06e" stroke-width="1"/><circle cx="438.3" cy="89.3" r="2.0" fill="none" stroke="#6ee06e" stroke-width="1"/><circle cx="443.0" cy="89.4" r="2.0" fill="none" stroke="#6ee06e" stroke-width="1"/><circle cx="447.6" cy="89.6" r="2.0" fill="none" stroke="#6ee06e" stroke-width="1"/><circle cx="452.3" cy="89.8" r="2.0" fill="none" stroke="#6ee06e" stroke-width="1"/><circle cx="456.9" cy="90.0" r="2.0" fill="none" stroke="#6ee06e" stroke-width="1"/><circle cx="461.6" cy="90.2" r="2.0" fill="none" stroke="#6ee06e" stroke-width="1"/><circle cx="466.2" cy="90.4" r="2.0" fill="none" stroke="#6ee06e" stroke-width="1"/><circle cx="470.9" cy="90.6" r="2.0" fill="none" stroke="#6ee06e" stroke-width="1"/><circle cx="475.5" cy="90.7" r="2.0" fill="none" stroke="#6ee06e" stroke-width="1"/><circle cx="480.2" cy="90.9" r="2.0" fill="none" stroke="#6ee06e" stroke-width="1"/><circle cx="484.8" cy="91.1" r="2.0" fill="none" stroke="#6ee06e" stroke-width="1"/><circle cx="489.5" cy="91.2" r="2.0" fill="none" stroke="#6ee06e" stroke-width="1"/><circle cx="494.1" cy="91.4" r="2.0" fill="none" stroke="#6ee06e" stroke-width="1"/><circle cx="308.2" cy="100.3" r="2.0" fill="none" stroke="#6ee06e" stroke-width="1"/><circle cx="312.8" cy="100.1" r="2.0" fill="none" stroke="#6ee06e" stroke-width="1"/><circle cx="317.5" cy="99.8" r="2.0" fill="none" stroke="#6ee06e" stroke-width="1"/><circle cx="322.1" cy="99.6" r="2.0" fill="none" stroke="#6ee06e" stroke-width="1"/><circle cx="326.8" cy="99.4" r="2.0" fill="none" stroke="#6ee06e" stroke-width="1"/><circle cx="331.4" cy="99.2" r="2.0" fill="none" stroke="#6ee06e" stroke-width="1"/><circle cx="336.1" cy="98.9" r="2.0" fill="none" stroke="#6ee06e" stroke-width="1"/><circle cx="340.7" cy="98.7" r="2.0" fill="none" stroke="#6ee06e" stroke-width="1"/><circle cx="345.4" cy="98.3" r="2.0" fill="none" stroke="#6ee06e" stroke-width="1"/><circle cx="350.0" cy="97.9" r="2.0" fill="none" stroke="#6ee06e" stroke-width="1"/><circle cx="354.7" cy="97.5" r="2.0" fill="none" stroke="#6ee06e" stroke-width="1"/><circle cx="359.3" cy="97.5" r="2.0" fill="none" stroke="#6ee06e" stroke-width="1"/><circle cx="364.0" cy="97.7" r="2.0" fill="none" stroke="#6ee06e" stroke-width="1"/><circle cx="368.6" cy="98.0" r="2.0" fill="none" stroke="#6ee06e" stroke-width="1"/><circle cx="373.3" cy="98.3" r="2.0" fill="none" stroke="#6ee06e" stroke-width="1"/><circle cx="377.9" cy="98.5" r="2.0" fill="none" stroke="#6ee06e" stroke-width="1"/><circle cx="382.6" cy="98.8" r="2.0" fill="none" stroke="#6ee06e" stroke-width="1"/><circle cx="387.2" cy="99.1" r="2.0" fill="none" stroke="#6ee06e" stroke-width="1"/><circle cx="391.9" cy="99.3" r="2.0" fill="none" stroke="#6ee06e" stroke-width="1"/><circle cx="396.5" cy="99.5" r="2.0" fill="none" stroke="#6ee06e" stroke-width="1"/><circle cx="401.1" cy="99.7" r="2.0" fill="none" stroke="#6ee06e" stroke-width="1"/><circle cx="405.8" cy="99.9" r="2.0" fill="none" stroke="#6ee06e" stroke-width="1"/><circle cx="410.4" cy="100.1" r="2.0" fill="none" stroke="#6ee06e" stroke-width="1"/><circle cx="415.1" cy="100.3" r="2.0" fill="none" stroke="#6ee06e" stroke-width="1"/><circle cx="419.7" cy="100.4" r="2.0" fill="none" stroke="#6ee06e" stroke-width="1"/><circle cx="424.4" cy="100.6" r="2.0" fill="none" stroke="#6ee06e" stroke-width="1"/><circle cx="429.0" cy="100.7" r="2.0" fill="none" stroke="#6ee06e" stroke-width="1"/><circle cx="433.7" cy="100.8" r="2.0" fill="none" stroke="#6ee06e" stroke-width="1"/><circle cx="438.3" cy="100.9" r="2.0" fill="none" stroke="#6ee06e" stroke-width="1"/><circle cx="443.0" cy="101.0" r="2.0" fill="none" stroke="#6ee06e" stroke-width="1"/><circle cx="447.6" cy="101.1" r="2.0" fill="none" stroke="#6ee06e" stroke-width="1"/><circle cx="452.3" cy="101.2" r="2.0" fill="none" stroke="#6ee06e" stroke-width="1"/><circle cx="456.9" cy="101.3" r="2.0" fill="none" stroke="#6ee06e" stroke-width="1"/><circle cx="461.6" cy="101.4" r="2.0" fill="none" stroke="#6ee06e" stroke-width="1"/><circle cx="466.2" cy="101.4" r="2.0" fill="none" stroke="#6ee06e" stroke-width="1"/><circle cx="470.9" cy="101.5" r="2.0" fill="none" stroke="#6ee06e" stroke-width="1"/><circle cx="475.5" cy="101.6" r="2.0" fill="none" stroke="#6ee06e" stroke-width="1"/><circle cx="480.2" cy="101.7" r="2.0" fill="none" stroke="#6ee06e" stroke-width="1"/><circle cx="484.8" cy="101.7" r="2.0" fill="none" stroke="#6ee06e" stroke-width="1"/><circle cx="489.5" cy="101.8" r="2.0" fill="none" stroke="#6ee06e" stroke-width="1"/><circle cx="494.1" cy="101.9" r="2.0" fill="none" stroke="#6ee06e" stroke-width="1"/><circle cx="308.2" cy="124.1" r="1.6" fill="#2a9a2a"/><circle cx="312.8" cy="124.1" r="1.6" fill="#2a9a2a"/><circle cx="317.5" cy="124.1" r="1.6" fill="#2a9a2a"/><circle cx="322.1" cy="124.0" r="1.6" fill="#2a9a2a"/><circle cx="326.8" cy="124.0" r="1.6" fill="#2a9a2a"/><circle cx="331.4" cy="124.1" r="1.6" fill="#2a9a2a"/><circle cx="336.1" cy="124.2" r="2.0" fill="none" stroke="#6ee06e" stroke-width="1"/><circle cx="340.7" cy="124.3" r="2.0" fill="none" stroke="#6ee06e" stroke-width="1"/><circle cx="345.4" cy="124.4" r="2.0" fill="none" stroke="#6ee06e" stroke-width="1"/><circle cx="350.0" cy="124.6" r="2.0" fill="none" stroke="#6ee06e" stroke-width="1"/><circle cx="354.7" cy="124.8" r="2.0" fill="none" stroke="#6ee06e" stroke-width="1"/><circle cx="359.3" cy="125.1" r="2.0" fill="none" stroke="#6ee06e" stroke-width="1"/><circle cx="364.0" cy="125.4" r="2.0" fill="none" stroke="#6ee06e" stroke-width="1"/><circle cx="368.6" cy="125.8" r="2.0" fill="none" stroke="#6ee06e" stroke-width="1"/><circle cx="373.3" cy="126.3" r="2.0" fill="none" stroke="#6ee06e" stroke-width="1"/><circle cx="377.9" cy="126.8" r="2.0" fill="none" stroke="#6ee06e" stroke-width="1"/><circle cx="382.6" cy="127.6" r="2.0" fill="none" stroke="#6ee06e" stroke-width="1"/><circle cx="387.2" cy="128.8" r="2.0" fill="none" stroke="#6ee06e" stroke-width="1"/><circle cx="391.9" cy="130.2" r="2.0" fill="none" stroke="#6ee06e" stroke-width="1"/><circle cx="396.5" cy="131.1" r="2.0" fill="none" stroke="#6ee06e" stroke-width="1"/><circle cx="401.1" cy="131.5" r="2.0" fill="none" stroke="#6ee06e" stroke-width="1"/><circle cx="405.8" cy="131.9" r="2.0" fill="none" stroke="#6ee06e" stroke-width="1"/><circle cx="410.4" cy="132.8" r="2.0" fill="none" stroke="#6ee06e" stroke-width="1"/><circle cx="415.1" cy="134.1" r="2.0" fill="none" stroke="#6ee06e" stroke-width="1"/><circle cx="419.7" cy="135.7" r="2.0" fill="none" stroke="#6ee06e" stroke-width="1"/><circle cx="424.4" cy="137.1" r="2.0" fill="none" stroke="#6ee06e" stroke-width="1"/><circle cx="429.0" cy="138.5" r="2.0" fill="none" stroke="#6ee06e" stroke-width="1"/><circle cx="433.7" cy="139.9" r="2.0" fill="none" stroke="#6ee06e" stroke-width="1"/><circle cx="438.3" cy="141.1" r="2.0" fill="none" stroke="#6ee06e" stroke-width="1"/><circle cx="443.0" cy="142.2" r="2.0" fill="#55cc55" stroke="#3aa83a" stroke-width="0.6"/><circle cx="447.6" cy="143.2" r="2.0" fill="#55cc55" stroke="#3aa83a" stroke-width="0.6"/><circle cx="452.3" cy="144.1" r="2.0" fill="#55cc55" stroke="#3aa83a" stroke-width="0.6"/><circle cx="456.9" cy="144.8" r="2.0" fill="#55cc55" stroke="#3aa83a" stroke-width="0.6"/><circle cx="461.6" cy="145.4" r="2.0" fill="#55cc55" stroke="#3aa83a" stroke-width="0.6"/><circle cx="466.2" cy="145.8" r="2.0" fill="#55cc55" stroke="#3aa83a" stroke-width="0.6"/><circle cx="470.9" cy="146.2" r="2.0" fill="#55cc55" stroke="#3aa83a" stroke-width="0.6"/><circle cx="475.5" cy="146.5" r="2.0" fill="#55cc55" stroke="#3aa83a" stroke-width="0.6"/><circle cx="480.2" cy="146.7" r="2.0" fill="#55cc55" stroke="#3aa83a" stroke-width="0.6"/><circle cx="484.8" cy="146.8" r="2.0" fill="#55cc55" stroke="#3aa83a" stroke-width="0.6"/><circle cx="489.5" cy="147.0" r="2.0" fill="#55cc55" stroke="#3aa83a" stroke-width="0.6"/><circle cx="494.1" cy="147.2" r="2.0" fill="#55cc55" stroke="#3aa83a" stroke-width="0.6"/><circle cx="308.2" cy="124.4" r="1.6" fill="#2a9a2a"/><circle cx="312.8" cy="124.7" r="1.6" fill="#2a9a2a"/><circle cx="317.5" cy="125.0" r="1.6" fill="#2a9a2a"/><circle cx="322.1" cy="125.2" r="1.6" fill="#2a9a2a"/><circle cx="326.8" cy="125.5" r="1.6" fill="#2a9a2a"/><circle cx="331.4" cy="125.9" r="1.6" fill="#2a9a2a"/><circle cx="336.1" cy="126.4" r="2.0" fill="none" stroke="#6ee06e" stroke-width="1"/><circle cx="340.7" cy="127.0" r="2.0" fill="none" stroke="#6ee06e" stroke-width="1"/><circle cx="345.4" cy="127.6" r="2.0" fill="none" stroke="#6ee06e" stroke-width="1"/><circle cx="350.0" cy="128.3" r="2.0" fill="none" stroke="#6ee06e" stroke-width="1"/><circle cx="354.7" cy="129.0" r="2.0" fill="none" stroke="#6ee06e" stroke-width="1"/><circle cx="359.3" cy="129.7" r="2.0" fill="none" stroke="#6ee06e" stroke-width="1"/><circle cx="364.0" cy="130.4" r="2.0" fill="none" stroke="#6ee06e" stroke-width="1"/><circle cx="368.6" cy="131.2" r="2.0" fill="none" stroke="#6ee06e" stroke-width="1"/><circle cx="373.3" cy="132.0" r="2.0" fill="none" stroke="#6ee06e" stroke-width="1"/><circle cx="377.9" cy="132.8" r="2.0" fill="none" stroke="#6ee06e" stroke-width="1"/><circle cx="382.6" cy="133.7" r="2.0" fill="none" stroke="#6ee06e" stroke-width="1"/><circle cx="387.2" cy="134.9" r="2.0" fill="none" stroke="#6ee06e" stroke-width="1"/><circle cx="391.9" cy="136.2" r="2.0" fill="none" stroke="#6ee06e" stroke-width="1"/><circle cx="396.5" cy="137.2" r="2.0" fill="none" stroke="#6ee06e" stroke-width="1"/><circle cx="401.1" cy="137.8" r="2.0" fill="none" stroke="#6ee06e" stroke-width="1"/><circle cx="405.8" cy="138.3" r="2.0" fill="none" stroke="#6ee06e" stroke-width="1"/><circle cx="410.4" cy="138.9" r="2.0" fill="none" stroke="#6ee06e" stroke-width="1"/><circle cx="415.1" cy="139.4" r="2.0" fill="none" stroke="#6ee06e" stroke-width="1"/><circle cx="419.7" cy="140.0" r="2.0" fill="none" stroke="#6ee06e" stroke-width="1"/><circle cx="424.4" cy="140.6" r="2.0" fill="none" stroke="#6ee06e" stroke-width="1"/><circle cx="429.0" cy="141.3" r="2.0" fill="none" stroke="#6ee06e" stroke-width="1"/><circle cx="433.7" cy="142.0" r="2.0" fill="none" stroke="#6ee06e" stroke-width="1"/><circle cx="438.3" cy="142.6" r="2.0" fill="none" stroke="#6ee06e" stroke-width="1"/><circle cx="443.0" cy="143.1" r="2.0" fill="#55cc55" stroke="#3aa83a" stroke-width="0.6"/><circle cx="447.6" cy="143.7" r="2.0" fill="#55cc55" stroke="#3aa83a" stroke-width="0.6"/><circle cx="452.3" cy="144.4" r="2.0" fill="#55cc55" stroke="#3aa83a" stroke-width="0.6"/><circle cx="456.9" cy="145.1" r="2.0" fill="#55cc55" stroke="#3aa83a" stroke-width="0.6"/><circle cx="461.6" cy="145.8" r="2.0" fill="#55cc55" stroke="#3aa83a" stroke-width="0.6"/><circle cx="466.2" cy="146.2" r="2.0" fill="#55cc55" stroke="#3aa83a" stroke-width="0.6"/><circle cx="470.9" cy="146.6" r="2.0" fill="#55cc55" stroke="#3aa83a" stroke-width="0.6"/><circle cx="475.5" cy="146.8" r="2.0" fill="#55cc55" stroke="#3aa83a" stroke-width="0.6"/><circle cx="480.2" cy="147.0" r="2.0" fill="#55cc55" stroke="#3aa83a" stroke-width="0.6"/><circle cx="484.8" cy="147.2" r="2.0" fill="#55cc55" stroke="#3aa83a" stroke-width="0.6"/><circle cx="489.5" cy="147.3" r="2.0" fill="#55cc55" stroke="#3aa83a" stroke-width="0.6"/><circle cx="494.1" cy="147.4" r="2.0" fill="#55cc55" stroke="#3aa83a" stroke-width="0.6"/><circle cx="308.2" cy="185.8" r="2.0" fill="none" stroke="#e2424f" stroke-width="1.15"/><circle cx="308.2" cy="185.8" r="0.85" fill="#5060c0"/><circle cx="312.8" cy="185.8" r="2.0" fill="none" stroke="#e2424f" stroke-width="1.15"/><circle cx="312.8" cy="185.8" r="0.85" fill="#5060c0"/><circle cx="317.5" cy="185.8" r="2.0" fill="none" stroke="#e2424f" stroke-width="1.15"/><circle cx="317.5" cy="185.8" r="0.85" fill="#5060c0"/><circle cx="322.1" cy="185.9" r="2.0" fill="none" stroke="#e2424f" stroke-width="1.15"/><circle cx="322.1" cy="185.9" r="0.85" fill="#5060c0"/><circle cx="326.8" cy="185.9" r="2.0" fill="none" stroke="#e2424f" stroke-width="1.15"/><circle cx="326.8" cy="185.9" r="0.85" fill="#5060c0"/><circle cx="331.4" cy="185.9" r="2.0" fill="none" stroke="#e2424f" stroke-width="1.15"/><circle cx="331.4" cy="185.9" r="0.85" fill="#5060c0"/><circle cx="336.1" cy="185.9" r="2.0" fill="none" stroke="#e2424f" stroke-width="1.15"/><circle cx="336.1" cy="185.9" r="0.85" fill="#5060c0"/><circle cx="340.7" cy="185.9" r="2.0" fill="none" stroke="#e2424f" stroke-width="1.15"/><circle cx="340.7" cy="185.9" r="0.85" fill="#5060c0"/><circle cx="345.4" cy="186.0" r="2.0" fill="none" stroke="#e2424f" stroke-width="1.15"/><circle cx="345.4" cy="186.0" r="0.85" fill="#5060c0"/><circle cx="350.0" cy="186.0" r="2.0" fill="none" stroke="#e2424f" stroke-width="1.15"/><circle cx="350.0" cy="186.0" r="0.85" fill="#5060c0"/><circle cx="354.7" cy="186.0" r="2.0" fill="none" stroke="#e2424f" stroke-width="1.15"/><circle cx="354.7" cy="186.0" r="0.85" fill="#5060c0"/><circle cx="359.3" cy="186.0" r="2.0" fill="none" stroke="#e2424f" stroke-width="1.15"/><circle cx="359.3" cy="186.0" r="0.85" fill="#5060c0"/><circle cx="364.0" cy="186.0" r="2.0" fill="none" stroke="#e2424f" stroke-width="1.15"/><circle cx="364.0" cy="186.0" r="0.85" fill="#5060c0"/><circle cx="368.6" cy="186.1" r="2.0" fill="none" stroke="#e2424f" stroke-width="1.15"/><circle cx="368.6" cy="186.1" r="0.85" fill="#5060c0"/><circle cx="373.3" cy="186.1" r="2.0" fill="none" stroke="#e2424f" stroke-width="1.15"/><circle cx="373.3" cy="186.1" r="0.85" fill="#5060c0"/><circle cx="377.9" cy="186.1" r="2.0" fill="none" stroke="#e2424f" stroke-width="1.15"/><circle cx="377.9" cy="186.1" r="0.85" fill="#5060c0"/><circle cx="382.6" cy="186.1" r="2.0" fill="none" stroke="#e2424f" stroke-width="1.15"/><circle cx="382.6" cy="186.1" r="0.85" fill="#5060c0"/><circle cx="387.2" cy="186.1" r="2.0" fill="none" stroke="#e2424f" stroke-width="1.15"/><circle cx="387.2" cy="186.1" r="0.85" fill="#5060c0"/><circle cx="391.9" cy="186.2" r="2.0" fill="none" stroke="#e2424f" stroke-width="1.15"/><circle cx="391.9" cy="186.2" r="0.85" fill="#5060c0"/><circle cx="396.5" cy="186.2" r="2.0" fill="none" stroke="#e2424f" stroke-width="1.15"/><circle cx="396.5" cy="186.2" r="0.85" fill="#5060c0"/><circle cx="401.1" cy="186.2" r="2.0" fill="none" stroke="#e2424f" stroke-width="1.15"/><circle cx="401.1" cy="186.2" r="0.85" fill="#5060c0"/><circle cx="405.8" cy="186.2" r="2.0" fill="none" stroke="#e2424f" stroke-width="1.15"/><circle cx="405.8" cy="186.2" r="0.85" fill="#5060c0"/><circle cx="410.4" cy="186.2" r="2.0" fill="none" stroke="#e2424f" stroke-width="1.15"/><circle cx="410.4" cy="186.2" r="0.85" fill="#5060c0"/><circle cx="415.1" cy="186.3" r="2.0" fill="none" stroke="#e2424f" stroke-width="1.15"/><circle cx="415.1" cy="186.3" r="0.85" fill="#5060c0"/><circle cx="419.7" cy="186.3" r="2.0" fill="none" stroke="#e2424f" stroke-width="1.15"/><circle cx="419.7" cy="186.3" r="0.85" fill="#5060c0"/><circle cx="424.4" cy="186.3" r="2.0" fill="none" stroke="#e2424f" stroke-width="1.15"/><circle cx="424.4" cy="186.3" r="0.85" fill="#5060c0"/><circle cx="429.0" cy="186.3" r="2.0" fill="none" stroke="#e2424f" stroke-width="1.15"/><circle cx="429.0" cy="186.3" r="0.85" fill="#5060c0"/><circle cx="433.7" cy="186.3" r="2.0" fill="none" stroke="#e2424f" stroke-width="1.15"/><circle cx="433.7" cy="186.3" r="0.85" fill="#5060c0"/><circle cx="438.3" cy="186.4" r="2.0" fill="none" stroke="#e2424f" stroke-width="1.15"/><circle cx="438.3" cy="186.4" r="0.85" fill="#5060c0"/><circle cx="443.0" cy="186.4" r="2.0" fill="none" stroke="#e2424f" stroke-width="1.15"/><circle cx="443.0" cy="186.4" r="0.85" fill="#5060c0"/><circle cx="447.6" cy="186.4" r="2.0" fill="none" stroke="#e2424f" stroke-width="1.15"/><circle cx="447.6" cy="186.4" r="0.85" fill="#5060c0"/><circle cx="452.3" cy="186.4" r="2.0" fill="none" stroke="#e2424f" stroke-width="1.15"/><circle cx="452.3" cy="186.4" r="0.85" fill="#5060c0"/><circle cx="456.9" cy="186.4" r="2.0" fill="none" stroke="#e2424f" stroke-width="1.15"/><circle cx="456.9" cy="186.4" r="0.85" fill="#5060c0"/><circle cx="461.6" cy="186.5" r="2.0" fill="none" stroke="#e2424f" stroke-width="1.15"/><circle cx="461.6" cy="186.5" r="0.85" fill="#5060c0"/><circle cx="466.2" cy="186.5" r="2.0" fill="none" stroke="#e2424f" stroke-width="1.15"/><circle cx="466.2" cy="186.5" r="0.85" fill="#5060c0"/><circle cx="470.9" cy="186.5" r="2.0" fill="none" stroke="#e2424f" stroke-width="1.15"/><circle cx="470.9" cy="186.5" r="0.85" fill="#5060c0"/><circle cx="475.5" cy="186.5" r="2.0" fill="none" stroke="#e2424f" stroke-width="1.15"/><circle cx="475.5" cy="186.5" r="0.85" fill="#5060c0"/><circle cx="480.2" cy="186.5" r="2.0" fill="none" stroke="#e2424f" stroke-width="1.15"/><circle cx="480.2" cy="186.5" r="0.85" fill="#5060c0"/><circle cx="484.8" cy="186.6" r="2.0" fill="none" stroke="#e2424f" stroke-width="1.15"/><circle cx="484.8" cy="186.6" r="0.85" fill="#5060c0"/><circle cx="489.5" cy="186.6" r="2.0" fill="none" stroke="#e2424f" stroke-width="1.15"/><circle cx="489.5" cy="186.6" r="0.85" fill="#5060c0"/><circle cx="494.1" cy="186.6" r="2.0" fill="none" stroke="#e2424f" stroke-width="1.15"/><circle cx="494.1" cy="186.6" r="0.85" fill="#5060c0"/><circle cx="308.2" cy="185.8" r="1.45" fill="#3cae3c"/><circle cx="312.8" cy="185.5" r="1.45" fill="#3cae3c"/><circle cx="317.5" cy="185.3" r="1.45" fill="#3cae3c"/><circle cx="322.1" cy="185.0" r="1.45" fill="#3cae3c"/><circle cx="326.8" cy="184.7" r="1.45" fill="#3cae3c"/><circle cx="331.4" cy="184.3" r="1.45" fill="#3cae3c"/><circle cx="336.1" cy="183.6" r="1.45" fill="#3cae3c"/><circle cx="340.7" cy="182.6" r="1.45" fill="#3cae3c"/><circle cx="345.4" cy="181.6" r="2.0" fill="none" stroke="#6ee06e" stroke-width="1"/><circle cx="350.0" cy="180.6" r="2.0" fill="none" stroke="#6ee06e" stroke-width="1"/><circle cx="354.7" cy="179.7" r="2.0" fill="none" stroke="#6ee06e" stroke-width="1"/><circle cx="359.3" cy="178.7" r="2.0" fill="none" stroke="#6ee06e" stroke-width="1"/><circle cx="364.0" cy="177.8" r="2.0" fill="none" stroke="#6ee06e" stroke-width="1"/><circle cx="368.6" cy="176.9" r="2.0" fill="none" stroke="#6ee06e" stroke-width="1"/><circle cx="373.3" cy="175.9" r="2.0" fill="none" stroke="#6ee06e" stroke-width="1"/><circle cx="377.9" cy="175.0" r="2.0" fill="none" stroke="#6ee06e" stroke-width="1"/><circle cx="382.6" cy="174.1" r="2.0" fill="none" stroke="#6ee06e" stroke-width="1"/><circle cx="387.2" cy="173.1" r="2.0" fill="none" stroke="#6ee06e" stroke-width="1"/><circle cx="391.9" cy="172.2" r="2.0" fill="none" stroke="#6ee06e" stroke-width="1"/><circle cx="396.5" cy="171.3" r="2.0" fill="none" stroke="#6ee06e" stroke-width="1"/><circle cx="401.1" cy="170.4" r="2.0" fill="none" stroke="#6ee06e" stroke-width="1"/><circle cx="405.8" cy="170.2" r="2.0" fill="none" stroke="#6ee06e" stroke-width="1"/><circle cx="410.4" cy="169.9" r="2.0" fill="none" stroke="#6ee06e" stroke-width="1"/><circle cx="415.1" cy="169.7" r="2.0" fill="none" stroke="#6ee06e" stroke-width="1"/><circle cx="419.7" cy="169.6" r="2.0" fill="none" stroke="#6ee06e" stroke-width="1"/><circle cx="424.4" cy="169.5" r="2.0" fill="none" stroke="#6ee06e" stroke-width="1"/><circle cx="429.0" cy="169.4" r="2.0" fill="none" stroke="#6ee06e" stroke-width="1"/><circle cx="433.7" cy="169.4" r="2.0" fill="none" stroke="#6ee06e" stroke-width="1"/><circle cx="438.3" cy="169.5" r="2.0" fill="none" stroke="#6ee06e" stroke-width="1"/><circle cx="443.0" cy="169.6" r="2.0" fill="none" stroke="#6ee06e" stroke-width="1"/><circle cx="447.6" cy="169.8" r="2.0" fill="none" stroke="#6ee06e" stroke-width="1"/><circle cx="452.3" cy="170.0" r="2.0" fill="none" stroke="#6ee06e" stroke-width="1"/><circle cx="456.9" cy="170.2" r="2.0" fill="none" stroke="#6ee06e" stroke-width="1"/><circle cx="461.6" cy="170.4" r="2.0" fill="none" stroke="#6ee06e" stroke-width="1"/><circle cx="466.2" cy="170.6" r="2.0" fill="none" stroke="#6ee06e" stroke-width="1"/><circle cx="470.9" cy="170.8" r="2.0" fill="none" stroke="#6ee06e" stroke-width="1"/><circle cx="475.5" cy="170.9" r="2.0" fill="none" stroke="#6ee06e" stroke-width="1"/><circle cx="480.2" cy="171.1" r="2.0" fill="none" stroke="#6ee06e" stroke-width="1"/><circle cx="484.8" cy="171.3" r="2.0" fill="none" stroke="#6ee06e" stroke-width="1"/><circle cx="489.5" cy="171.5" r="2.0" fill="none" stroke="#6ee06e" stroke-width="1"/><circle cx="494.1" cy="171.7" r="2.0" fill="none" stroke="#6ee06e" stroke-width="1"/><circle cx="308.2" cy="207.7" r="2.0" fill="none" stroke="#d8303e" stroke-width="1.2"/><circle cx="308.2" cy="207.7" r="1.1" fill="#4a1a3a"/><circle cx="312.8" cy="207.6" r="2.0" fill="none" stroke="#d8303e" stroke-width="1.2"/><circle cx="312.8" cy="207.6" r="1.1" fill="#4a1a3a"/><circle cx="317.5" cy="207.4" r="2.0" fill="none" stroke="#d8303e" stroke-width="1.2"/><circle cx="317.5" cy="207.4" r="1.1" fill="#4a1a3a"/><circle cx="322.1" cy="206.9" r="2.0" fill="none" stroke="#d8303e" stroke-width="1.2"/><circle cx="322.1" cy="206.9" r="1.1" fill="#4a1a3a"/><circle cx="326.8" cy="206.2" r="2.0" fill="none" stroke="#d8303e" stroke-width="1.2"/><circle cx="326.8" cy="206.2" r="1.1" fill="#4a1a3a"/><circle cx="331.4" cy="205.3" r="2.0" fill="none" stroke="#d8303e" stroke-width="1.2"/><circle cx="331.4" cy="205.3" r="1.1" fill="#4a1a3a"/><circle cx="336.1" cy="204.3" r="2.0" fill="none" stroke="#d8303e" stroke-width="1.2"/><circle cx="336.1" cy="204.3" r="1.1" fill="#4a1a3a"/><circle cx="340.7" cy="203.1" r="2.0" fill="none" stroke="#d8303e" stroke-width="1.2"/><circle cx="340.7" cy="203.1" r="1.1" fill="#4a1a3a"/><circle cx="345.4" cy="201.7" r="2.0" fill="none" stroke="#d8303e" stroke-width="1.2"/><circle cx="345.4" cy="201.7" r="1.1" fill="#4a1a3a"/><circle cx="350.0" cy="199.9" r="2.0" fill="none" stroke="#d8303e" stroke-width="1.2"/><circle cx="350.0" cy="199.9" r="1.1" fill="#4a1a3a"/><circle cx="354.7" cy="197.7" r="2.0" fill="none" stroke="#d8303e" stroke-width="1.2"/><circle cx="354.7" cy="197.7" r="1.1" fill="#4a1a3a"/><circle cx="359.3" cy="195.7" r="2.0" fill="none" stroke="#d8303e" stroke-width="1.2"/><circle cx="359.3" cy="195.7" r="1.1" fill="#4a1a3a"/><circle cx="364.0" cy="193.6" r="2.0" fill="none" stroke="#d8303e" stroke-width="1.2"/><circle cx="364.0" cy="193.6" r="1.1" fill="#4a1a3a"/><circle cx="368.6" cy="191.6" r="2.0" fill="none" stroke="#d8303e" stroke-width="1.2"/><circle cx="368.6" cy="191.6" r="1.1" fill="#4a1a3a"/><circle cx="373.3" cy="189.3" r="2.0" fill="none" stroke="#d8303e" stroke-width="1.2"/><circle cx="373.3" cy="189.3" r="1.1" fill="#4a1a3a"/><circle cx="377.9" cy="186.7" r="2.0" fill="none" stroke="#d8303e" stroke-width="1.2"/><circle cx="377.9" cy="186.7" r="1.1" fill="#4a1a3a"/><circle cx="382.6" cy="183.9" r="2.0" fill="none" stroke="#d8303e" stroke-width="1.2"/><circle cx="382.6" cy="183.9" r="1.1" fill="#4a1a3a"/><circle cx="387.2" cy="180.9" r="2.0" fill="none" stroke="#d8303e" stroke-width="1.2"/><circle cx="387.2" cy="180.9" r="1.1" fill="#4a1a3a"/><circle cx="391.9" cy="177.4" r="2.0" fill="none" stroke="#d8303e" stroke-width="1.2"/><circle cx="391.9" cy="177.4" r="1.1" fill="#4a1a3a"/><circle cx="396.5" cy="173.9" r="2.0" fill="none" stroke="#d8303e" stroke-width="1.2"/><circle cx="396.5" cy="173.9" r="1.1" fill="#4a1a3a"/><circle cx="401.1" cy="170.4" r="2.0" fill="none" stroke="#d8303e" stroke-width="1.2"/><circle cx="401.1" cy="170.4" r="1.1" fill="#4a1a3a"/><circle cx="405.8" cy="167.4" r="2.0" fill="none" stroke="#d8303e" stroke-width="1.2"/><circle cx="405.8" cy="167.4" r="1.1" fill="#4a1a3a"/><circle cx="410.4" cy="164.3" r="2.0" fill="none" stroke="#d8303e" stroke-width="1.2"/><circle cx="410.4" cy="164.3" r="1.1" fill="#4a1a3a"/><circle cx="415.1" cy="160.9" r="2.0" fill="none" stroke="#d8303e" stroke-width="1.2"/><circle cx="415.1" cy="160.9" r="1.1" fill="#4a1a3a"/><circle cx="419.7" cy="158.3" r="2.0" fill="none" stroke="#d8303e" stroke-width="1.2"/><circle cx="419.7" cy="158.3" r="1.1" fill="#4a1a3a"/><circle cx="424.4" cy="156.2" r="2.0" fill="none" stroke="#d8303e" stroke-width="1.2"/><circle cx="424.4" cy="156.2" r="1.1" fill="#4a1a3a"/><circle cx="429.0" cy="154.5" r="2.0" fill="none" stroke="#d8303e" stroke-width="1.2"/><circle cx="429.0" cy="154.5" r="1.1" fill="#4a1a3a"/><circle cx="433.7" cy="153.2" r="2.0" fill="none" stroke="#d8303e" stroke-width="1.2"/><circle cx="433.7" cy="153.2" r="1.1" fill="#4a1a3a"/><circle cx="438.3" cy="152.2" r="2.0" fill="none" stroke="#d8303e" stroke-width="1.2"/><circle cx="438.3" cy="152.2" r="1.1" fill="#4a1a3a"/><circle cx="443.0" cy="151.2" r="2.0" fill="none" stroke="#d8303e" stroke-width="1.2"/><circle cx="443.0" cy="151.2" r="1.1" fill="#4a1a3a"/><circle cx="447.6" cy="150.3" r="2.0" fill="#5a1838" stroke="#d8303e" stroke-width="1.2"/><circle cx="452.3" cy="149.8" r="2.0" fill="#5a1838" stroke="#d8303e" stroke-width="1.2"/><circle cx="456.9" cy="149.6" r="2.0" fill="#5a1838" stroke="#d8303e" stroke-width="1.2"/><circle cx="461.6" cy="149.8" r="2.0" fill="#5a1838" stroke="#d8303e" stroke-width="1.2"/><circle cx="466.2" cy="150.2" r="2.0" fill="#5a1838" stroke="#d8303e" stroke-width="1.2"/><circle cx="470.9" cy="150.8" r="2.0" fill="#5a1838" stroke="#d8303e" stroke-width="1.2"/><circle cx="475.5" cy="151.2" r="2.0" fill="#5a1838" stroke="#d8303e" stroke-width="1.2"/><circle cx="480.2" cy="151.5" r="2.0" fill="#5a1838" stroke="#d8303e" stroke-width="1.2"/><circle cx="484.8" cy="151.8" r="2.0" fill="#5a1838" stroke="#d8303e" stroke-width="1.2"/><circle cx="489.5" cy="152.0" r="2.0" fill="#5a1838" stroke="#d8303e" stroke-width="1.2"/><circle cx="494.1" cy="152.3" r="2.0" fill="#5a1838" stroke="#d8303e" stroke-width="1.2"/><circle cx="308.2" cy="267.4" r="1.4" fill="#a81c1c" stroke="#d04848" stroke-width="0.4"/><circle cx="312.8" cy="267.5" r="1.4" fill="#a81c1c" stroke="#d04848" stroke-width="0.4"/><circle cx="317.5" cy="267.6" r="1.4" fill="#a81c1c" stroke="#d04848" stroke-width="0.4"/><circle cx="322.1" cy="267.8" r="1.4" fill="#a81c1c" stroke="#d04848" stroke-width="0.4"/><circle cx="326.8" cy="267.9" r="1.4" fill="#a81c1c" stroke="#d04848" stroke-width="0.4"/><circle cx="331.4" cy="268.1" r="1.4" fill="#a81c1c" stroke="#d04848" stroke-width="0.4"/><circle cx="336.1" cy="268.2" r="1.4" fill="#a81c1c" stroke="#d04848" stroke-width="0.4"/><circle cx="340.7" cy="268.4" r="1.4" fill="#a81c1c" stroke="#d04848" stroke-width="0.4"/><circle cx="345.4" cy="268.5" r="1.4" fill="#a81c1c" stroke="#d04848" stroke-width="0.4"/><circle cx="350.0" cy="268.7" r="1.4" fill="#a81c1c" stroke="#d04848" stroke-width="0.4"/><circle cx="354.7" cy="268.9" r="1.4" fill="#a81c1c" stroke="#d04848" stroke-width="0.4"/><circle cx="359.3" cy="269.1" r="1.4" fill="#a81c1c" stroke="#d04848" stroke-width="0.4"/><circle cx="364.0" cy="269.5" r="1.4" fill="#a81c1c" stroke="#d04848" stroke-width="0.4"/><circle cx="368.6" cy="270.2" r="1.4" fill="#a81c1c" stroke="#d04848" stroke-width="0.4"/><circle cx="373.3" cy="271.1" r="1.4" fill="#a81c1c" stroke="#d04848" stroke-width="0.4"/><circle cx="377.9" cy="271.7" r="1.4" fill="#a81c1c" stroke="#d04848" stroke-width="0.4"/><circle cx="308.2" cy="271.4" r="1.4" fill="#a81c1c" stroke="#d04848" stroke-width="0.4"/><circle cx="312.8" cy="271.4" r="1.4" fill="#a81c1c" stroke="#d04848" stroke-width="0.4"/><circle cx="317.5" cy="271.5" r="1.4" fill="#a81c1c" stroke="#d04848" stroke-width="0.4"/><circle cx="322.1" cy="271.5" r="1.4" fill="#a81c1c" stroke="#d04848" stroke-width="0.4"/><circle cx="326.8" cy="271.5" r="1.4" fill="#a81c1c" stroke="#d04848" stroke-width="0.4"/><circle cx="331.4" cy="271.5" r="1.4" fill="#a81c1c" stroke="#d04848" stroke-width="0.4"/><circle cx="336.1" cy="271.5" r="1.4" fill="#a81c1c" stroke="#d04848" stroke-width="0.4"/><circle cx="340.7" cy="271.5" r="1.4" fill="#a81c1c" stroke="#d04848" stroke-width="0.4"/><circle cx="345.4" cy="271.5" r="1.4" fill="#a81c1c" stroke="#d04848" stroke-width="0.4"/><circle cx="350.0" cy="271.6" r="1.4" fill="#a81c1c" stroke="#d04848" stroke-width="0.4"/><circle cx="354.7" cy="271.6" r="1.4" fill="#a81c1c" stroke="#d04848" stroke-width="0.4"/><circle cx="359.3" cy="271.7" r="1.4" fill="#a81c1c" stroke="#d04848" stroke-width="0.4"/><circle cx="364.0" cy="271.7" r="1.4" fill="#a81c1c" stroke="#d04848" stroke-width="0.4"/><circle cx="368.6" cy="271.8" r="1.4" fill="#a81c1c" stroke="#d04848" stroke-width="0.4"/><circle cx="373.3" cy="271.9" r="1.4" fill="#a81c1c" stroke="#d04848" stroke-width="0.4"/><circle cx="377.9" cy="272.1" r="1.4" fill="#a81c1c" stroke="#d04848" stroke-width="0.4"/><circle cx="382.6" cy="272.3" r="1.4" fill="#a81c1c" stroke="#d04848" stroke-width="0.4"/><circle cx="387.2" cy="272.5" r="1.4" fill="#a81c1c" stroke="#d04848" stroke-width="0.4"/><circle cx="391.9" cy="272.7" r="1.4" fill="#a81c1c" stroke="#d04848" stroke-width="0.4"/><circle cx="396.5" cy="273.0" r="1.4" fill="#a81c1c" stroke="#d04848" stroke-width="0.4"/><circle cx="401.1" cy="273.2" r="1.4" fill="#a81c1c" stroke="#d04848" stroke-width="0.4"/><circle cx="405.8" cy="273.5" r="1.4" fill="#a81c1c" stroke="#d04848" stroke-width="0.4"/><circle cx="410.4" cy="273.8" r="1.4" fill="#a81c1c" stroke="#d04848" stroke-width="0.4"/><circle cx="415.1" cy="274.0" r="1.4" fill="#a81c1c" stroke="#d04848" stroke-width="0.4"/><circle cx="419.7" cy="274.3" r="1.4" fill="#a81c1c" stroke="#d04848" stroke-width="0.4"/><circle cx="424.4" cy="274.6" r="1.4" fill="#a81c1c" stroke="#d04848" stroke-width="0.4"/><circle cx="429.0" cy="274.9" r="1.4" fill="#a81c1c" stroke="#d04848" stroke-width="0.4"/><circle cx="433.7" cy="275.1" r="1.4" fill="#a81c1c" stroke="#d04848" stroke-width="0.4"/><circle cx="438.3" cy="275.3" r="1.4" fill="#a81c1c" stroke="#d04848" stroke-width="0.4"/><circle cx="443.0" cy="275.5" r="1.4" fill="#a81c1c" stroke="#d04848" stroke-width="0.4"/><circle cx="447.6" cy="275.7" r="1.4" fill="#a81c1c" stroke="#d04848" stroke-width="0.4"/><circle cx="452.3" cy="275.9" r="1.4" fill="#a81c1c" stroke="#d04848" stroke-width="0.4"/><circle cx="456.9" cy="276.0" r="1.4" fill="#a81c1c" stroke="#d04848" stroke-width="0.4"/><circle cx="461.6" cy="276.1" r="1.4" fill="#a81c1c" stroke="#d04848" stroke-width="0.4"/><circle cx="466.2" cy="276.2" r="1.4" fill="#a81c1c" stroke="#d04848" stroke-width="0.4"/><circle cx="470.9" cy="276.3" r="1.4" fill="#a81c1c" stroke="#d04848" stroke-width="0.4"/><circle cx="475.5" cy="276.4" r="1.4" fill="#a81c1c" stroke="#d04848" stroke-width="0.4"/><circle cx="480.2" cy="276.5" r="1.4" fill="#a81c1c" stroke="#d04848" stroke-width="0.4"/><circle cx="484.8" cy="276.6" r="1.4" fill="#a81c1c" stroke="#d04848" stroke-width="0.4"/><circle cx="489.5" cy="276.7" r="1.4" fill="#a81c1c" stroke="#d04848" stroke-width="0.4"/><circle cx="494.1" cy="276.8" r="1.4" fill="#a81c1c" stroke="#d04848" stroke-width="0.4"/><circle cx="308.2" cy="307.5" r="1.1" fill="#2ea42e"/><circle cx="312.8" cy="307.6" r="1.1" fill="#2ea42e"/><circle cx="317.5" cy="307.7" r="1.1" fill="#2ea42e"/><circle cx="322.1" cy="308.0" r="1.1" fill="#2ea42e"/><circle cx="326.8" cy="308.3" r="1.1" fill="#2ea42e"/><circle cx="331.4" cy="308.9" r="1.1" fill="#2ea42e"/><circle cx="336.1" cy="309.5" r="1.1" fill="#2ea42e"/><circle cx="340.7" cy="310.3" r="1.1" fill="#2ea42e"/><circle cx="345.4" cy="311.2" r="1.1" fill="#2ea42e"/><circle cx="350.0" cy="312.3" r="1.1" fill="#2ea42e"/><circle cx="354.7" cy="313.2" r="1.1" fill="#2ea42e"/><circle cx="359.3" cy="314.1" r="1.1" fill="#2ea42e"/><circle cx="364.0" cy="315.0" r="1.1" fill="#2ea42e"/><circle cx="368.6" cy="315.9" r="1.1" fill="#2ea42e"/><circle cx="373.3" cy="316.8" r="1.1" fill="#2ea42e"/><circle cx="377.9" cy="317.8" r="1.1" fill="#2ea42e"/><circle cx="382.6" cy="318.8" r="1.1" fill="#2ea42e"/><circle cx="387.2" cy="319.8" r="1.1" fill="#2ea42e"/><circle cx="391.9" cy="321.0" r="1.1" fill="#2ea42e"/><circle cx="396.5" cy="322.3" r="1.1" fill="#2ea42e"/><circle cx="401.1" cy="323.8" r="1.1" fill="#2ea42e"/><circle cx="405.8" cy="325.5" r="1.1" fill="#2ea42e"/><circle cx="410.4" cy="327.2" r="1.1" fill="#2ea42e"/><circle cx="415.1" cy="329.1" r="1.1" fill="#2ea42e"/><circle cx="419.7" cy="331.0" r="1.1" fill="#2ea42e"/><circle cx="424.4" cy="333.1" r="1.1" fill="#2ea42e"/><circle cx="429.0" cy="335.4" r="1.1" fill="#2ea42e"/><circle cx="433.7" cy="337.8" r="1.1" fill="#2ea42e"/><circle cx="438.3" cy="340.3" r="1.1" fill="#2ea42e"/><circle cx="443.0" cy="343.5" r="1.1" fill="#2ea42e"/><circle cx="447.6" cy="347.6" r="1.1" fill="#2ea42e"/><circle cx="308.2" cy="317.2" r="1.1" fill="#2ea42e"/><circle cx="312.8" cy="317.3" r="1.1" fill="#2ea42e"/><circle cx="317.5" cy="317.4" r="1.1" fill="#2ea42e"/><circle cx="322.1" cy="317.5" r="1.1" fill="#2ea42e"/><circle cx="326.8" cy="317.6" r="1.1" fill="#2ea42e"/><circle cx="331.4" cy="317.7" r="1.1" fill="#2ea42e"/><circle cx="336.1" cy="318.1" r="1.1" fill="#2ea42e"/><circle cx="340.7" cy="319.0" r="1.1" fill="#2ea42e"/><circle cx="345.4" cy="320.2" r="1.1" fill="#2ea42e"/><circle cx="350.0" cy="321.7" r="1.1" fill="#2ea42e"/><circle cx="354.7" cy="323.0" r="1.1" fill="#2ea42e"/><circle cx="359.3" cy="324.4" r="1.1" fill="#2ea42e"/><circle cx="364.0" cy="325.8" r="1.1" fill="#2ea42e"/><circle cx="368.6" cy="327.2" r="1.1" fill="#2ea42e"/><circle cx="373.3" cy="328.7" r="1.1" fill="#2ea42e"/><circle cx="377.9" cy="330.3" r="1.1" fill="#2ea42e"/><circle cx="382.6" cy="331.9" r="1.1" fill="#2ea42e"/><circle cx="387.2" cy="333.5" r="1.1" fill="#2ea42e"/><circle cx="391.9" cy="335.2" r="1.1" fill="#2ea42e"/><circle cx="396.5" cy="337.0" r="1.1" fill="#2ea42e"/><circle cx="401.1" cy="339.0" r="1.1" fill="#2ea42e"/><circle cx="405.8" cy="341.0" r="1.1" fill="#2ea42e"/><circle cx="410.4" cy="343.1" r="1.1" fill="#2ea42e"/><circle cx="415.1" cy="345.2" r="1.1" fill="#2ea42e"/><circle cx="419.7" cy="347.2" r="1.1" fill="#2ea42e"/><circle cx="308.2" cy="327.7" r="1.1" fill="#2ea42e"/><circle cx="312.8" cy="328.0" r="1.1" fill="#2ea42e"/><circle cx="317.5" cy="328.2" r="1.1" fill="#2ea42e"/><circle cx="322.1" cy="328.6" r="1.1" fill="#2ea42e"/><circle cx="326.8" cy="328.9" r="1.1" fill="#2ea42e"/><circle cx="331.4" cy="329.3" r="1.1" fill="#2ea42e"/><circle cx="336.1" cy="329.9" r="1.1" fill="#2ea42e"/><circle cx="340.7" cy="330.7" r="1.1" fill="#2ea42e"/><circle cx="345.4" cy="331.6" r="1.1" fill="#2ea42e"/><circle cx="350.0" cy="332.6" r="1.1" fill="#2ea42e"/><circle cx="354.7" cy="333.6" r="1.1" fill="#2ea42e"/><circle cx="359.3" cy="334.6" r="1.1" fill="#2ea42e"/><circle cx="364.0" cy="335.6" r="1.1" fill="#2ea42e"/><circle cx="368.6" cy="336.7" r="1.1" fill="#2ea42e"/><circle cx="373.3" cy="338.1" r="1.1" fill="#2ea42e"/><circle cx="377.9" cy="339.5" r="1.1" fill="#2ea42e"/><circle cx="382.6" cy="341.0" r="1.1" fill="#2ea42e"/><circle cx="387.2" cy="342.3" r="1.1" fill="#2ea42e"/><circle cx="391.9" cy="343.6" r="1.1" fill="#2ea42e"/><circle cx="396.5" cy="345.1" r="1.1" fill="#2ea42e"/><circle cx="308.2" cy="336.6" r="1.1" fill="#2ea42e"/><circle cx="312.8" cy="336.9" r="1.1" fill="#2ea42e"/><circle cx="317.5" cy="337.1" r="1.1" fill="#2ea42e"/><circle cx="322.1" cy="337.5" r="1.1" fill="#2ea42e"/><circle cx="326.8" cy="337.9" r="1.1" fill="#2ea42e"/><circle cx="331.4" cy="338.4" r="1.1" fill="#2ea42e"/><circle cx="336.1" cy="339.0" r="1.1" fill="#2ea42e"/><circle cx="340.7" cy="339.8" r="1.1" fill="#2ea42e"/><circle cx="345.4" cy="340.7" r="1.1" fill="#2ea42e"/><circle cx="350.0" cy="341.7" r="1.1" fill="#2ea42e"/><circle cx="354.7" cy="342.8" r="1.1" fill="#2ea42e"/><circle cx="359.3" cy="343.9" r="1.1" fill="#2ea42e"/><circle cx="364.0" cy="345.1" r="1.1" fill="#2ea42e"/><circle cx="368.6" cy="346.3" r="1.1" fill="#2ea42e"/><circle cx="373.3" cy="347.3" r="1.1" fill="#2ea42e"/><circle cx="308.2" cy="318.4" r="1.9" fill="none" stroke="#2e2eaa" stroke-width="1.2"/><circle cx="312.8" cy="318.2" r="1.9" fill="none" stroke="#2e2eaa" stroke-width="1.2"/><circle cx="317.5" cy="318.1" r="1.9" fill="none" stroke="#2e2eaa" stroke-width="1.2"/><circle cx="322.1" cy="317.9" r="1.9" fill="none" stroke="#2e2eaa" stroke-width="1.2"/><circle cx="326.8" cy="317.8" r="1.9" fill="none" stroke="#2e2eaa" stroke-width="1.2"/><circle cx="331.4" cy="317.6" r="1.9" fill="none" stroke="#2e2eaa" stroke-width="1.2"/><circle cx="336.1" cy="317.4" r="1.9" fill="none" stroke="#2e2eaa" stroke-width="1.2"/><circle cx="340.7" cy="317.3" r="1.9" fill="none" stroke="#2e2eaa" stroke-width="1.2"/><circle cx="345.4" cy="317.1" r="1.9" fill="none" stroke="#2e2eaa" stroke-width="1.2"/><circle cx="350.0" cy="316.9" r="1.9" fill="none" stroke="#2e2eaa" stroke-width="1.2"/><circle cx="354.7" cy="316.6" r="1.9" fill="none" stroke="#2e2eaa" stroke-width="1.2"/><circle cx="359.3" cy="316.2" r="1.9" fill="none" stroke="#2e2eaa" stroke-width="1.2"/><circle cx="364.0" cy="315.8" r="1.9" fill="none" stroke="#2e2eaa" stroke-width="1.2"/><circle cx="368.6" cy="315.5" r="1.9" fill="none" stroke="#2e2eaa" stroke-width="1.2"/><circle cx="373.3" cy="315.1" r="1.9" fill="none" stroke="#2e2eaa" stroke-width="1.2"/><circle cx="377.9" cy="314.8" r="1.9" fill="none" stroke="#2e2eaa" stroke-width="1.2"/><circle cx="382.6" cy="314.6" r="1.9" fill="none" stroke="#2e2eaa" stroke-width="1.2"/><circle cx="387.2" cy="314.4" r="1.9" fill="none" stroke="#2e2eaa" stroke-width="1.2"/><circle cx="391.9" cy="314.2" r="1.9" fill="none" stroke="#2e2eaa" stroke-width="1.2"/><circle cx="396.5" cy="314.1" r="1.9" fill="none" stroke="#2e2eaa" stroke-width="1.2"/><circle cx="401.1" cy="313.8" r="1.9" fill="none" stroke="#2e2eaa" stroke-width="1.2"/><circle cx="405.8" cy="313.6" r="1.9" fill="none" stroke="#2e2eaa" stroke-width="1.2"/><circle cx="410.4" cy="313.4" r="1.9" fill="none" stroke="#2e2eaa" stroke-width="1.2"/><circle cx="415.1" cy="313.1" r="1.9" fill="none" stroke="#2e2eaa" stroke-width="1.2"/><circle cx="419.7" cy="312.9" r="1.9" fill="none" stroke="#2e2eaa" stroke-width="1.2"/><circle cx="424.4" cy="312.7" r="1.9" fill="none" stroke="#2e2eaa" stroke-width="1.2"/><circle cx="429.0" cy="312.4" r="1.9" fill="none" stroke="#2e2eaa" stroke-width="1.2"/><circle cx="433.7" cy="312.2" r="1.9" fill="none" stroke="#2e2eaa" stroke-width="1.2"/><circle cx="438.3" cy="311.9" r="1.9" fill="none" stroke="#2e2eaa" stroke-width="1.2"/><circle cx="443.0" cy="311.7" r="1.9" fill="none" stroke="#2e2eaa" stroke-width="1.2"/><circle cx="447.6" cy="311.4" r="1.9" fill="none" stroke="#2e2eaa" stroke-width="1.2"/><circle cx="452.3" cy="311.2" r="1.9" fill="none" stroke="#2e2eaa" stroke-width="1.2"/><circle cx="456.9" cy="311.0" r="1.9" fill="none" stroke="#2e2eaa" stroke-width="1.2"/><circle cx="461.6" cy="310.8" r="1.9" fill="none" stroke="#2e2eaa" stroke-width="1.2"/><circle cx="466.2" cy="310.7" r="1.9" fill="none" stroke="#2e2eaa" stroke-width="1.2"/><circle cx="470.9" cy="310.5" r="1.9" fill="none" stroke="#2e2eaa" stroke-width="1.2"/><circle cx="475.5" cy="310.4" r="1.9" fill="none" stroke="#2e2eaa" stroke-width="1.2"/><circle cx="480.2" cy="310.3" r="1.9" fill="none" stroke="#2e2eaa" stroke-width="1.2"/><circle cx="484.8" cy="310.2" r="1.9" fill="none" stroke="#2e2eaa" stroke-width="1.2"/><circle cx="489.5" cy="310.1" r="1.9" fill="none" stroke="#2e2eaa" stroke-width="1.2"/><circle cx="494.1" cy="310.0" r="1.9" fill="none" stroke="#2e2eaa" stroke-width="1.2"/>
</g>
<g clip-path="url(#clc)">
<path d="M560.0 35.4 L565.7 35.4 L571.6 35.4 L577.7 35.3 L583.8 35.3 L589.8 35.2 L595.7 35.2 L601.2 35.2 L606.4 35.2 L611.0 35.2 L615.0 35.3 L618.3 35.4 L621.0 35.5 L623.1 35.7 L624.8 35.9 L626.2 36.0 L627.5 36.2 L628.7 36.4 L629.9 36.6 L631.3 36.8 L633.0 37.0 L634.8 37.2 L636.6 37.3 L638.4 37.5 L640.1 37.7 L641.9 37.9 L643.8 38.0 L645.7 38.2 L647.7 38.3 L649.8 38.5 L652.0 38.6 L654.4 38.7 L656.9 38.8 L659.5 38.9 L662.2 39.0 L665.0 39.1 L667.8 39.2 L670.6 39.2 L673.5 39.3 L676.3 39.4 L679.0 39.4 L681.6 39.4 L684.2 39.4 L686.7 39.4 L689.1 39.4 L691.6 39.4 L694.2 39.4 L696.9 39.4 L699.7 39.4 L702.7 39.4 L706.0 39.4 L709.9 39.4 L714.1 39.5 L718.5 39.6 L723.1 39.6 L727.8 39.7 L732.6 39.8 L737.3 39.9 L742.0 39.9 L746.6 40.0 M560.0 36.3 L563.7 36.3 L567.5 36.3 L571.4 36.2 L575.4 36.2 L579.2 36.2 L583.0 36.2 L586.7 36.2 L590.1 36.2 L593.2 36.2 L596.0 36.2 L598.4 36.2 L600.6 36.3 L602.5 36.3 L604.2 36.4 L605.8 36.4 L607.1 36.5 L608.4 36.6 L609.6 36.7 L610.8 36.7 L612.0 36.8 L613.1 36.9 L613.9 36.9 L614.6 37.0 L615.2 37.0 L615.8 37.1 L616.3 37.2 L617.0 37.2 L617.8 37.3 L618.7 37.5 L620.0 37.6 L621.5 37.8 L623.4 38.0 L625.4 38.2 L627.5 38.5 L629.8 38.8 L632.0 39.0 L634.2 39.3 L636.3 39.6 L638.3 39.8 L640.0 40.0 L641.5 40.2 L642.7 40.3 L643.7 40.5 L644.7 40.6 L645.6 40.7 L646.5 40.8 L647.5 40.9 L648.8 41.0 L650.2 41.1 L652.0 41.2 L654.1 41.3 L656.4 41.4 L659.0 41.5 L661.7 41.5 L664.6 41.6 L667.5 41.7 L670.4 41.7 L673.4 41.8 L676.2 41.9 L679.0 42.0 L681.7 42.1 L684.4 42.2 L687.1 42.4 L689.8 42.5 L692.6 42.6 L695.3 42.8 L698.0 42.9 L700.7 43.1 L703.3 43.2 L706.0 43.4 L708.7 43.6 L711.4 43.8 L714.2 44.0 L717.0 44.2 L719.8 44.4 L722.5 44.7 L725.1 44.9 L727.5 45.1 L729.9 45.2 L732.0 45.4 L734.1 45.5 L736.0 45.6 L737.7 45.7 L739.3 45.8 L740.7 45.9 L742.2 45.9 L743.6 46.0 L745.0 46.0 L746.6 46.1 M560.0 38.4 L562.0 38.5 L564.1 38.7 L566.3 38.8 L568.4 38.9 L570.5 39.1 L572.6 39.2 L574.6 39.3 L576.5 39.4 L578.3 39.5 L580.0 39.6 L581.5 39.7 L582.9 39.7 L584.2 39.7 L585.4 39.7 L586.5 39.8 L587.6 39.7 L588.7 39.7 L589.7 39.7 L590.8 39.7 L592.0 39.6 L593.2 39.5 L594.4 39.4 L595.6 39.3 L596.8 39.2 L598.0 39.1 L599.2 38.9 L600.4 38.8 L601.6 38.7 L602.8 38.5 L604.0 38.4 L605.2 38.3 L606.4 38.2 L607.6 38.0 L608.8 37.9 L610.0 37.8 L611.2 37.7 L612.4 37.5 L613.6 37.4 L614.8 37.3 L616.0 37.2 L617.2 37.1 L618.4 37.0 L619.6 36.9 L620.8 36.9 L622.0 36.8 L623.2 36.7 L624.4 36.6 L625.6 36.6 L626.8 36.5 L628.0 36.4 L629.2 36.3 L630.3 36.2 L631.3 36.2 L632.4 36.1 L633.5 36.0 L634.6 35.9 L635.8 35.8 L637.1 35.7 L638.5 35.7 L640.0 35.6 L641.6 35.5 L643.3 35.5 L645.1 35.4 L646.9 35.3 L648.9 35.3 L650.9 35.2 L653.0 35.2 L655.2 35.2 L657.6 35.1 L660.0 35.1 L662.6 35.1 L665.4 35.1 L668.3 35.0 L671.3 35.0 L674.4 35.0 L677.5 35.0 L680.7 35.1 L683.8 35.1 L687.0 35.1 L690.0 35.2 L693.0 35.3 L696.1 35.4 L699.1 35.5 L702.2 35.7 L705.2 35.8 L708.2 36.0 L711.2 36.1 L714.2 36.3 L717.1 36.5 L720.0 36.6 L723.1 36.8 L726.1 36.9 L729.1 37.1 L732.1 37.2 L735.0 37.4 L737.9 37.5 L740.8 37.7 L743.7 37.8 L746.6 38.0 M560.0 40.8 L563.7 40.8 L567.6 40.8 L571.6 40.8 L575.6 40.8 L579.5 40.8 L583.3 40.8 L587.0 40.8 L590.3 40.8 L593.4 40.8 L596.0 40.8 L598.2 40.8 L599.9 40.8 L601.4 40.8 L602.5 40.8 L603.5 40.8 L604.4 40.8 L605.2 40.9 L606.0 40.9 L606.9 41.0 L608.0 41.1 L609.2 41.2 L610.4 41.4 L611.6 41.6 L612.8 41.8 L614.0 42.0 L615.2 42.2 L616.4 42.4 L617.6 42.7 L618.8 42.9 L620.0 43.1 L621.2 43.3 L622.3 43.5 L623.3 43.7 L624.4 43.9 L625.5 44.1 L626.6 44.3 L627.8 44.5 L629.1 44.7 L630.5 44.9 L632.0 45.1 L633.6 45.3 L635.4 45.4 L637.2 45.6 L639.1 45.8 L641.1 45.9 L643.1 46.1 L645.2 46.2 L647.4 46.4 L649.7 46.5 L652.0 46.6 L654.4 46.7 L657.0 46.7 L659.6 46.8 L662.3 46.8 L665.1 46.9 L667.9 46.9 L670.7 46.9 L673.5 46.9 L676.3 47.0 L679.0 47.0 L681.6 47.0 L684.2 47.1 L686.7 47.1 L689.1 47.2 L691.6 47.2 L694.2 47.3 L696.9 47.4 L699.7 47.4 L702.7 47.5 L706.0 47.6 L709.9 47.7 L714.1 47.8 L718.5 48.0 L723.1 48.1 L727.8 48.2 L732.6 48.4 L737.3 48.5 L742.0 48.7 L746.6 48.8 M560.0 42.3 L562.2 42.2 L564.5 42.2 L566.8 42.1 L569.1 42.0 L571.4 41.9 L573.6 41.9 L575.8 41.8 L578.0 41.7 L580.0 41.7 L582.0 41.6 L583.9 41.5 L585.6 41.5 L587.4 41.4 L589.0 41.3 L590.6 41.2 L592.2 41.2 L593.7 41.1 L595.2 41.1 L596.6 41.0 L598.0 41.0 L599.4 41.0 L600.7 41.0 L601.9 41.0 L603.1 41.0 L604.2 41.0 L605.4 41.0 L606.5 41.0 L607.7 41.1 L608.8 41.2 L610.0 41.3 L611.2 41.4 L612.4 41.6 L613.6 41.8 L614.8 42.1 L616.0 42.3 L617.2 42.6 L618.4 42.9 L619.6 43.1 L620.8 43.4 L622.0 43.6 L623.2 43.8 L624.3 44.1 L625.4 44.3 L626.5 44.5 L627.6 44.7 L628.8 45.0 L630.0 45.2 L631.2 45.4 L632.6 45.6 L634.0 45.8 L635.5 46.0 L637.1 46.2 L638.7 46.4 L640.3 46.5 L642.1 46.7 L643.9 46.9 L645.7 47.0 L647.7 47.2 L649.8 47.3 L652.0 47.4 L654.3 47.5 L656.8 47.6 L659.4 47.6 L662.2 47.6 L664.9 47.7 L667.8 47.7 L670.6 47.7 L673.5 47.7 L676.3 47.8 L679.0 47.8 L681.6 47.8 L684.2 47.9 L686.7 47.9 L689.1 48.0 L691.6 48.0 L694.2 48.1 L696.9 48.1 L699.7 48.2 L702.7 48.2 L706.0 48.3 L709.9 48.4 L714.1 48.5 L718.5 48.6 L723.1 48.7 L727.8 48.9 L732.6 49.0 L737.3 49.1 L742.0 49.3 L746.6 49.4 M560.0 54.1 L561.1 54.0 L562.2 54.0 L563.2 53.9 L564.3 53.8 L565.3 53.8 L566.4 53.7 L567.5 53.7 L568.6 53.6 L569.8 53.5 L571.0 53.4 L572.3 53.3 L573.6 53.2 L575.0 53.1 L576.4 53.0 L577.9 52.8 L579.3 52.7 L580.8 52.6 L582.2 52.4 L583.6 52.3 L585.0 52.1 L586.3 51.9 L587.6 51.7 L588.9 51.5 L590.2 51.3 L591.5 51.1 L592.8 50.9 L594.1 50.7 L595.4 50.5 L596.7 50.3 L598.0 50.1 L599.4 49.9 L600.8 49.8 L602.2 49.6 L603.6 49.5 L605.0 49.4 L606.4 49.2 L607.8 49.1 L609.2 49.0 L610.6 48.9 L612.0 48.8 L613.3 48.7 L614.7 48.6 L616.0 48.5 L617.3 48.4 L618.6 48.3 L619.8 48.3 L621.1 48.2 L622.4 48.1 L623.7 48.1 L625.0 48.1 L626.3 48.1 L627.6 48.1 L628.9 48.2 L630.2 48.3 L631.4 48.4 L632.7 48.4 L634.0 48.5 L635.3 48.6 L636.7 48.7 L638.0 48.8 L639.3 48.9 L640.5 48.9 L641.7 49.0 L642.9 49.1 L644.1 49.2 L645.4 49.2 L646.8 49.3 L648.4 49.4 L650.1 49.5 L652.0 49.6 L654.2 49.7 L656.6 49.8 L659.1 49.9 L661.9 50.0 L664.7 50.1 L667.6 50.2 L670.5 50.4 L673.4 50.5 L676.2 50.6 L679.0 50.8 L681.6 51.0 L684.2 51.1 L686.7 51.3 L689.1 51.5 L691.6 51.7 L694.2 51.9 L696.9 52.1 L699.7 52.3 L702.7 52.6 L706.0 52.8 L709.9 53.1 L714.1 53.4 L718.5 53.6 L723.1 54.0 L727.8 54.3 L732.6 54.6 L737.3 54.9 L742.0 55.2 L746.6 55.5 M560.0 61.5 L561.8 61.4 L563.6 61.4 L565.3 61.4 L567.1 61.3 L568.9 61.3 L570.7 61.2 L572.5 61.2 L574.3 61.1 L576.1 61.0 L578.0 60.8 L579.9 60.6 L582.0 60.4 L584.0 60.1 L586.1 59.8 L588.2 59.5 L590.3 59.2 L592.4 58.9 L594.4 58.6 L596.2 58.4 L598.0 58.1 L599.6 57.9 L601.2 57.7 L602.7 57.4 L604.1 57.2 L605.4 57.1 L606.8 56.9 L608.1 56.7 L609.4 56.5 L610.7 56.3 L612.0 56.1 L613.3 55.9 L614.7 55.7 L616.0 55.5 L617.3 55.2 L618.6 55.0 L619.8 54.8 L621.1 54.6 L622.4 54.4 L623.7 54.3 L625.0 54.1 L626.3 54.0 L627.6 53.8 L628.8 53.7 L630.1 53.6 L631.3 53.5 L632.6 53.4 L633.9 53.4 L635.2 53.3 L636.6 53.2 L638.0 53.2 L639.5 53.2 L641.1 53.1 L642.7 53.1 L644.4 53.1 L646.1 53.1 L647.8 53.1 L649.5 53.2 L651.1 53.2 L652.6 53.3 L654.0 53.4 L655.3 53.5 L656.5 53.7 L657.6 53.9 L658.6 54.1 L659.6 54.3 L660.6 54.5 L661.6 54.8 L662.7 55.0 L663.8 55.1 L665.0 55.3 L666.3 55.4 L667.6 55.5 L669.0 55.6 L670.4 55.6 L671.9 55.7 L673.3 55.7 L674.8 55.8 L676.2 55.9 L677.6 56.0 L679.0 56.1 L680.3 56.2 L681.6 56.4 L682.9 56.6 L684.2 56.8 L685.5 57.0 L686.8 57.2 L688.1 57.4 L689.4 57.6 L690.7 57.9 L692.0 58.1 L693.4 58.3 L694.8 58.6 L696.2 58.9 L697.6 59.1 L699.0 59.4 L700.4 59.7 L701.8 60.0 L703.2 60.2 L704.6 60.5 L706.0 60.8 L707.3 61.1 L708.7 61.4 L710.0 61.6 L711.3 61.9 L712.6 62.2 L713.8 62.5 L715.1 62.7 L716.4 63.0 L717.7 63.3 L719.0 63.5 L720.3 63.7 L721.6 64.0 L722.8 64.2 L724.1 64.4 L725.4 64.6 L726.7 64.8 L728.0 65.0 L729.3 65.2 L730.6 65.4 L732.0 65.5 L733.6 65.6 L735.1 65.7 L736.7 65.8 L738.4 65.9 L740.0 66.0 L741.7 66.0 L743.3 66.1 L745.0 66.1 L746.6 66.2 M560.0 67.9 L562.5 67.8 L565.0 67.7 L567.4 67.7 L569.9 67.6 L572.4 67.6 L574.9 67.5 L577.4 67.4 L579.9 67.3 L582.4 67.1 L585.0 66.9 L587.7 66.6 L590.4 66.3 L593.2 65.9 L596.0 65.4 L598.8 65.0 L601.6 64.5 L604.4 64.1 L607.0 63.6 L609.6 63.2 L612.0 62.8 L614.3 62.4 L616.4 62.1 L618.5 61.7 L620.4 61.4 L622.3 61.1 L624.2 60.7 L626.1 60.4 L628.0 60.1 L630.0 59.8 L632.0 59.5 L634.2 59.2 L636.4 58.9 L638.8 58.6 L641.2 58.2 L643.6 57.9 L645.9 57.6 L648.1 57.4 L650.3 57.2 L652.2 57.0 L654.0 56.8 L655.5 56.7 L656.9 56.6 L658.0 56.6 L659.0 56.6 L660.0 56.6 L660.9 56.6 L661.8 56.7 L662.8 56.8 L663.8 56.8 L665.0 56.9 L666.3 57.0 L667.6 57.1 L669.0 57.2 L670.4 57.3 L671.9 57.4 L673.3 57.5 L674.8 57.6 L676.2 57.8 L677.6 57.9 L679.0 58.1 L680.3 58.3 L681.6 58.5 L682.9 58.6 L684.2 58.9 L685.5 59.1 L686.8 59.3 L688.1 59.5 L689.4 59.7 L690.7 60.0 L692.0 60.2 L693.4 60.4 L694.8 60.7 L696.2 60.9 L697.6 61.2 L699.0 61.5 L700.4 61.7 L701.8 62.0 L703.2 62.3 L704.6 62.5 L706.0 62.8 L707.3 63.1 L708.4 63.3 L709.5 63.6 L710.6 63.9 L711.6 64.1 L712.8 64.4 L714.1 64.7 L715.5 65.0 L717.1 65.2 L719.0 65.5 L721.4 65.8 L724.2 66.1 L727.1 66.4 L730.3 66.7 L733.5 67.0 L736.9 67.3 L740.2 67.6 L743.5 67.9 L746.6 68.2 M560.0 74.6 L562.5 74.6 L565.1 74.6 L567.7 74.6 L570.2 74.6 L572.8 74.6 L575.4 74.6 L577.9 74.5 L580.3 74.5 L582.7 74.4 L585.0 74.2 L587.2 74.0 L589.3 73.7 L591.4 73.4 L593.4 73.1 L595.3 72.8 L597.2 72.4 L599.2 72.0 L601.1 71.7 L603.0 71.3 L605.0 70.9 L607.0 70.5 L609.1 70.1 L611.2 69.7 L613.3 69.3 L615.4 68.9 L617.5 68.4 L619.5 68.0 L621.4 67.6 L623.3 67.3 L625.0 66.9 L626.6 66.6 L628.0 66.3 L629.3 65.9 L630.6 65.7 L631.8 65.4 L632.9 65.1 L634.1 64.9 L635.3 64.6 L636.6 64.4 L638.0 64.2 L639.5 64.0 L641.1 63.8 L642.7 63.7 L644.4 63.5 L646.1 63.4 L647.8 63.3 L649.5 63.2 L651.1 63.1 L652.6 63.1 L654.0 63.0 L655.3 63.0 L656.5 62.9 L657.6 62.9 L658.6 62.9 L659.6 62.9 L660.6 62.9 L661.6 62.9 L662.7 63.0 L663.8 63.0 L665.0 63.1 L666.3 63.2 L667.6 63.3 L669.0 63.4 L670.4 63.6 L671.9 63.7 L673.3 63.9 L674.8 64.1 L676.2 64.3 L677.6 64.6 L679.0 64.8 L680.3 65.1 L681.6 65.4 L682.9 65.7 L684.2 66.0 L685.5 66.4 L686.8 66.8 L688.1 67.1 L689.4 67.5 L690.7 67.9 L692.0 68.2 L693.4 68.5 L694.8 68.9 L696.2 69.2 L697.6 69.5 L699.0 69.9 L700.4 70.2 L701.8 70.5 L703.2 70.8 L704.6 71.2 L706.0 71.5 L707.3 71.8 L708.7 72.2 L710.0 72.5 L711.3 72.9 L712.6 73.2 L713.8 73.6 L715.1 73.9 L716.4 74.3 L717.7 74.6 L719.0 74.9 L720.3 75.2 L721.6 75.5 L722.8 75.8 L724.1 76.1 L725.4 76.4 L726.7 76.6 L728.0 76.9 L729.3 77.1 L730.6 77.4 L732.0 77.6 L733.6 77.8 L735.1 78.0 L736.7 78.2 L738.4 78.4 L740.0 78.6 L741.7 78.8 L743.3 78.9 L745.0 79.1 L746.6 79.3 M560.0 84.4 L561.8 84.4 L563.6 84.4 L565.3 84.4 L567.1 84.4 L568.9 84.4 L570.7 84.4 L572.5 84.3 L574.3 84.3 L576.1 84.2 L578.0 84.1 L579.9 83.9 L582.0 83.8 L584.0 83.6 L586.1 83.3 L588.2 83.1 L590.3 82.8 L592.4 82.5 L594.4 82.3 L596.2 82.0 L598.0 81.7 L599.6 81.4 L601.2 81.1 L602.7 80.9 L604.1 80.6 L605.4 80.3 L606.8 79.9 L608.1 79.6 L609.4 79.3 L610.7 79.0 L612.0 78.6 L613.3 78.2 L614.7 77.8 L616.0 77.4 L617.3 77.0 L618.6 76.6 L619.8 76.2 L621.1 75.8 L622.4 75.3 L623.7 74.9 L625.0 74.5 L626.3 74.1 L627.6 73.7 L629.0 73.3 L630.3 72.8 L631.7 72.4 L633.0 72.0 L634.3 71.6 L635.6 71.2 L636.8 70.9 L638.0 70.5 L639.1 70.1 L640.2 69.8 L641.3 69.4 L642.3 69.1 L643.3 68.8 L644.3 68.5 L645.2 68.2 L646.2 67.9 L647.1 67.6 L648.0 67.4 L648.9 67.2 L649.7 67.0 L650.5 66.9 L651.3 66.7 L652.1 66.6 L652.9 66.5 L653.7 66.5 L654.4 66.4 L655.2 66.3 L656.0 66.3 L656.8 66.3 L657.6 66.3 L658.3 66.3 L659.1 66.3 L659.9 66.3 L660.7 66.4 L661.5 66.4 L662.3 66.5 L663.1 66.6 L664.0 66.7 L664.9 66.8 L665.7 66.9 L666.6 67.0 L667.5 67.1 L668.4 67.3 L669.3 67.4 L670.3 67.6 L671.5 67.8 L672.7 68.1 L674.0 68.4 L675.5 68.8 L677.1 69.2 L678.7 69.6 L680.5 70.1 L682.4 70.7 L684.3 71.2 L686.2 71.8 L688.1 72.3 L690.1 72.9 L692.0 73.5 L693.9 74.1 L695.9 74.8 L697.9 75.4 L699.9 76.1 L701.9 76.8 L703.9 77.5 L705.9 78.2 L708.0 78.9 L710.0 79.5 L712.0 80.0 L714.0 80.5 L716.1 80.9 L718.2 81.3 L720.3 81.7 L722.3 82.1 L724.4 82.4 L726.4 82.7 L728.3 83.0 L730.2 83.3 L732.0 83.5 L733.9 83.7 L735.6 83.9 L737.3 84.1 L738.9 84.2 L740.4 84.3 L741.9 84.4 L743.5 84.5 L745.0 84.6 L746.6 84.7 M560.0 87.7 L561.8 87.8 L563.6 87.9 L565.3 88.0 L567.1 88.1 L568.9 88.2 L570.7 88.3 L572.5 88.4 L574.3 88.4 L576.1 88.4 L578.0 88.4 L579.9 88.3 L582.0 88.2 L584.0 88.0 L586.1 87.9 L588.2 87.7 L590.3 87.4 L592.4 87.2 L594.4 86.9 L596.2 86.7 L598.0 86.4 L599.6 86.1 L601.2 85.8 L602.7 85.5 L604.1 85.2 L605.4 84.8 L606.8 84.5 L608.1 84.1 L609.4 83.7 L610.7 83.4 L612.0 83.0 L613.3 82.6 L614.7 82.2 L616.0 81.8 L617.3 81.4 L618.6 81.0 L619.8 80.6 L621.1 80.2 L622.4 79.8 L623.7 79.4 L625.0 79.0 L626.3 78.6 L627.6 78.3 L628.9 77.9 L630.2 77.6 L631.4 77.2 L632.7 76.9 L634.0 76.6 L635.3 76.3 L636.7 76.1 L638.0 75.9 L639.4 75.7 L640.8 75.6 L642.2 75.5 L643.6 75.4 L645.0 75.4 L646.4 75.3 L647.8 75.3 L649.2 75.3 L650.6 75.3 L652.0 75.3 L653.4 75.3 L654.7 75.3 L656.1 75.3 L657.4 75.4 L658.8 75.4 L660.1 75.5 L661.4 75.5 L662.6 75.6 L663.8 75.8 L665.0 75.9 L666.1 76.1 L667.2 76.3 L668.2 76.5 L669.2 76.8 L670.1 77.0 L671.1 77.3 L672.0 77.6 L673.0 77.9 L674.0 78.2 L675.0 78.5 L676.1 78.8 L677.1 79.1 L678.2 79.4 L679.2 79.8 L680.3 80.1 L681.4 80.4 L682.5 80.8 L683.7 81.2 L684.8 81.6 L686.0 82.0 L687.2 82.4 L688.5 82.9 L689.8 83.4 L691.1 83.9 L692.4 84.4 L693.7 85.0 L695.0 85.5 L696.4 86.0 L697.7 86.6 L699.0 87.1 L700.3 87.6 L701.6 88.2 L702.9 88.7 L704.2 89.3 L705.4 89.9 L706.7 90.4 L708.0 90.9 L709.3 91.5 L710.7 91.9 L712.0 92.4 L713.3 92.8 L714.6 93.2 L715.9 93.6 L717.2 94.0 L718.5 94.3 L719.9 94.6 L721.3 94.9 L722.8 95.2 L724.3 95.5 L726.0 95.8 L728.0 96.1 L730.1 96.3 L732.4 96.6 L734.7 96.8 L737.1 97.0 L739.5 97.2 L741.9 97.4 L744.3 97.6 L746.6 97.8 M560.0 94.4 L562.5 94.3 L565.0 94.3 L567.4 94.3 L569.9 94.3 L572.4 94.2 L574.9 94.2 L577.4 94.1 L579.9 94.1 L582.4 93.9 L585.0 93.8 L587.7 93.6 L590.4 93.4 L593.2 93.1 L596.0 92.9 L598.8 92.6 L601.6 92.3 L604.4 92.0 L607.0 91.7 L609.6 91.4 L612.0 91.1 L614.3 90.8 L616.4 90.5 L618.5 90.2 L620.4 89.9 L622.3 89.6 L624.2 89.3 L626.1 89.1 L628.0 88.8 L630.0 88.6 L632.0 88.4 L634.1 88.2 L636.2 88.1 L638.4 88.0 L640.5 87.9 L642.7 87.8 L644.9 87.8 L647.1 87.7 L649.4 87.7 L651.7 87.7 L654.0 87.7 L656.4 87.7 L658.8 87.7 L661.2 87.8 L663.7 87.9 L666.2 87.9 L668.7 88.0 L671.3 88.1 L673.8 88.2 L676.4 88.3 L679.0 88.4 L681.6 88.5 L684.1 88.6 L686.5 88.7 L689.0 88.8 L691.5 88.9 L694.1 89.1 L696.8 89.2 L699.7 89.3 L702.7 89.4 L706.0 89.5 L709.9 89.6 L714.1 89.7 L718.5 89.8 L723.1 89.9 L727.8 90.0 L732.6 90.1 L737.3 90.2 L742.0 90.3 L746.6 90.4 M560.0 95.8 L562.5 95.8 L565.0 95.9 L567.4 95.9 L569.9 95.9 L572.4 96.0 L574.9 96.0 L577.4 96.0 L579.9 96.1 L582.4 96.1 L585.0 96.2 L587.6 96.3 L590.0 96.3 L592.5 96.4 L594.9 96.5 L597.4 96.6 L600.0 96.7 L602.7 96.8 L605.6 96.9 L608.7 97.0 L612.0 97.1 L615.7 97.2 L619.7 97.4 L624.0 97.5 L628.5 97.7 L633.1 97.8 L637.7 98.0 L642.2 98.2 L646.4 98.3 L650.4 98.5 L654.0 98.6 L657.2 98.7 L660.1 98.9 L662.7 99.0 L665.1 99.1 L667.4 99.2 L669.7 99.3 L671.9 99.4 L674.1 99.6 L676.5 99.7 L679.0 99.8 L681.6 99.9 L684.1 100.0 L686.5 100.2 L689.0 100.3 L691.5 100.4 L694.1 100.5 L696.8 100.6 L699.7 100.8 L702.7 100.9 L706.0 101.1 L709.9 101.3 L714.1 101.5 L718.5 101.7 L723.1 102.0 L727.8 102.2 L732.6 102.5 L737.3 102.7 L742.0 103.0 L746.6 103.2 M560.0 99.1 L561.8 99.0 L563.7 98.8 L565.5 98.7 L567.4 98.5 L569.2 98.4 L571.1 98.2 L572.9 98.1 L574.7 98.0 L576.4 97.9 L578.0 97.8 L579.6 97.7 L581.1 97.7 L582.6 97.6 L584.0 97.6 L585.4 97.6 L586.7 97.5 L588.1 97.5 L589.4 97.5 L590.7 97.6 L592.0 97.6 L593.2 97.6 L594.4 97.7 L595.5 97.7 L596.6 97.7 L597.6 97.8 L598.7 97.9 L599.9 98.0 L601.1 98.1 L602.5 98.3 L604.0 98.6 L605.7 98.9 L607.5 99.3 L609.4 99.7 L611.5 100.2 L613.6 100.7 L615.7 101.2 L617.8 101.8 L619.9 102.3 L622.0 102.9 L624.0 103.4 L626.0 104.0 L628.0 104.5 L630.0 105.2 L632.0 105.8 L634.0 106.4 L636.0 107.1 L637.8 107.7 L639.7 108.2 L641.4 108.7 L643.0 109.2 L644.5 109.6 L645.8 109.9 L647.1 110.2 L648.2 110.5 L649.3 110.7 L650.4 110.9 L651.5 111.2 L652.6 111.4 L653.8 111.6 L655.0 111.8 L656.3 112.0 L657.7 112.2 L659.1 112.4 L660.6 112.6 L662.1 112.8 L663.5 113.0 L665.0 113.2 L666.4 113.5 L667.7 113.7 L669.0 114.0 L670.2 114.3 L671.4 114.7 L672.5 115.1 L673.6 115.5 L674.7 115.9 L675.7 116.3 L676.8 116.7 L677.8 117.2 L678.9 117.6 L680.0 118.0 L681.1 118.4 L682.2 118.8 L683.3 119.2 L684.4 119.7 L685.5 120.1 L686.6 120.5 L687.7 120.9 L688.8 121.3 L689.9 121.7 L691.0 122.0 L692.1 122.3 L693.2 122.6 L694.3 122.9 L695.4 123.2 L696.5 123.4 L697.6 123.7 L698.7 123.9 L699.8 124.1 L700.9 124.3 L702.0 124.5 L703.0 124.7 L703.8 124.8 L704.6 124.9 L705.3 125.0 L706.1 125.1 L707.0 125.2 L708.0 125.3 L709.4 125.4 L711.0 125.5 L713.0 125.6 L715.7 125.7 L718.9 125.8 L722.5 125.9 L726.4 126.1 L730.4 126.2 L734.6 126.3 L738.7 126.4 L742.7 126.5 L746.6 126.6 M560.0 100.3 L561.8 100.2 L563.7 100.1 L565.5 99.9 L567.4 99.8 L569.2 99.7 L571.1 99.6 L572.9 99.5 L574.7 99.4 L576.4 99.3 L578.0 99.2 L579.6 99.1 L581.1 99.0 L582.6 99.0 L584.0 98.9 L585.4 98.9 L586.7 98.8 L588.1 98.8 L589.4 98.8 L590.7 98.8 L592.0 98.8 L593.2 98.8 L594.4 98.9 L595.5 98.9 L596.6 99.0 L597.6 99.0 L598.7 99.1 L599.9 99.3 L601.1 99.5 L602.5 99.7 L604.0 100.0 L605.7 100.4 L607.5 100.8 L609.4 101.3 L611.5 101.8 L613.6 102.4 L615.7 103.0 L617.8 103.6 L619.9 104.2 L622.0 104.8 L624.0 105.4 L626.0 106.0 L628.0 106.6 L630.0 107.2 L632.0 107.8 L634.0 108.5 L636.0 109.1 L637.8 109.7 L639.7 110.2 L641.4 110.7 L643.0 111.2 L644.5 111.6 L645.8 112.0 L647.1 112.3 L648.2 112.6 L649.3 112.9 L650.4 113.2 L651.5 113.4 L652.6 113.7 L653.8 113.9 L655.0 114.2 L656.3 114.5 L657.7 114.7 L659.1 115.0 L660.6 115.2 L662.1 115.5 L663.5 115.7 L665.0 116.0 L666.4 116.2 L667.7 116.6 L669.0 116.9 L670.2 117.3 L671.4 117.7 L672.5 118.2 L673.6 118.6 L674.7 119.1 L675.7 119.6 L676.8 120.1 L677.8 120.6 L678.9 121.1 L680.0 121.5 L681.1 121.9 L682.1 122.4 L683.2 122.8 L684.2 123.2 L685.3 123.6 L686.3 124.0 L687.4 124.4 L688.6 124.8 L689.8 125.2 L691.0 125.6 L692.3 126.0 L693.6 126.4 L694.9 126.9 L696.2 127.3 L697.6 127.8 L699.1 128.2 L700.6 128.5 L702.2 128.8 L703.8 129.1 L705.6 129.3 L707.5 129.4 L709.6 129.4 L711.7 129.4 L714.0 129.3 L716.3 129.2 L718.6 129.1 L720.9 128.9 L723.2 128.8 L725.4 128.7 L727.5 128.6 L729.7 128.5 L731.9 128.5 L734.1 128.4 L736.2 128.3 L738.3 128.3 L740.3 128.2 L742.4 128.1 L744.5 128.1 L746.6 128.0 M560.0 111.9 L561.8 111.6 L563.8 111.2 L565.7 110.8 L567.7 110.5 L569.7 110.1 L571.6 109.8 L573.4 109.4 L575.1 109.1 L576.6 108.8 L578.0 108.5 L579.1 108.2 L580.1 108.0 L580.8 107.8 L581.4 107.5 L582.0 107.3 L582.5 107.1 L583.0 106.9 L583.6 106.7 L584.2 106.5 L585.0 106.3 L585.9 106.1 L586.8 105.8 L587.8 105.6 L588.8 105.4 L589.9 105.2 L590.9 104.9 L592.0 104.7 L593.0 104.5 L594.0 104.2 L595.0 104.0 L595.9 103.8 L596.9 103.5 L597.8 103.2 L598.8 102.9 L599.7 102.6 L600.6 102.4 L601.5 102.1 L602.3 101.9 L603.2 101.7 L604.0 101.6 L604.8 101.5 L605.5 101.4 L606.2 101.4 L606.9 101.4 L607.6 101.4 L608.2 101.4 L608.9 101.5 L609.6 101.6 L610.3 101.7 L611.0 101.8 L611.7 102.0 L612.4 102.1 L613.1 102.3 L613.8 102.6 L614.6 102.8 L615.3 103.1 L616.1 103.4 L617.0 103.8 L618.0 104.2 L619.0 104.6 L620.2 105.1 L621.5 105.7 L622.9 106.4 L624.4 107.1 L625.9 107.8 L627.4 108.5 L628.9 109.2 L630.4 109.9 L631.7 110.6 L633.0 111.2 L634.2 111.8 L635.2 112.3 L636.2 112.8 L637.2 113.2 L638.1 113.7 L639.0 114.1 L640.0 114.6 L640.9 115.0 L641.9 115.5 L643.0 116.0 L644.1 116.5 L645.4 117.1 L646.6 117.7 L647.9 118.3 L649.2 118.9 L650.5 119.4 L651.7 120.0 L652.9 120.5 L654.0 120.9 L655.0 121.3 L655.9 121.6 L656.6 121.7 L657.2 121.8 L657.8 121.9 L658.3 121.9 L658.9 121.9 L659.5 122.0 L660.2 122.1 L661.0 122.3 L662.0 122.7 L663.1 123.2 L664.4 123.8 L665.8 124.5 L667.3 125.3 L668.8 126.1 L670.3 126.9 L671.9 127.8 L673.5 128.6 L675.0 129.3 L676.5 130.0 L677.9 130.6 L679.4 131.3 L680.8 131.9 L682.3 132.5 L683.7 133.0 L685.2 133.6 L686.6 134.1 L688.1 134.5 L689.5 134.9 L691.0 135.3 L692.4 135.6 L693.8 135.9 L695.1 136.1 L696.5 136.3 L697.8 136.5 L699.2 136.6 L700.7 136.7 L702.2 136.7 L703.8 136.7 L705.6 136.6 L707.5 136.5 L709.6 136.3 L711.7 136.0 L714.0 135.7 L716.3 135.3 L718.6 134.9 L720.9 134.6 L723.2 134.2 L725.4 133.9 L727.5 133.6 L729.7 133.3 L731.9 133.1 L734.1 132.9 L736.2 132.6 L738.3 132.4 L740.3 132.2 L742.4 132.0 L744.5 131.8 L746.6 131.6 M560.0 115.2 L561.8 114.9 L563.8 114.6 L565.7 114.4 L567.7 114.1 L569.7 113.8 L571.6 113.5 L573.4 113.2 L575.1 113.0 L576.6 112.7 L578.0 112.5 L579.1 112.3 L580.1 112.1 L580.8 111.9 L581.4 111.8 L582.0 111.6 L582.5 111.5 L583.0 111.3 L583.6 111.1 L584.2 110.9 L585.0 110.7 L585.9 110.4 L586.8 110.1 L587.8 109.8 L588.8 109.4 L589.9 109.1 L590.9 108.7 L592.0 108.3 L593.0 108.0 L594.0 107.6 L595.0 107.3 L595.9 107.0 L596.8 106.7 L597.7 106.3 L598.6 106.0 L599.5 105.7 L600.4 105.4 L601.3 105.1 L602.2 104.9 L603.1 104.6 L604.0 104.4 L605.0 104.2 L606.0 104.0 L607.0 103.9 L608.0 103.7 L609.1 103.6 L610.1 103.5 L611.1 103.4 L612.1 103.4 L613.1 103.4 L614.0 103.4 L614.9 103.4 L615.7 103.5 L616.5 103.6 L617.2 103.7 L617.9 103.8 L618.7 104.0 L619.4 104.2 L620.2 104.5 L621.1 104.8 L622.0 105.2 L623.0 105.7 L624.0 106.2 L625.1 106.8 L626.2 107.5 L627.4 108.2 L628.5 108.9 L629.7 109.7 L630.8 110.3 L631.9 111.0 L633.0 111.6 L634.0 112.1 L635.0 112.7 L636.0 113.1 L637.0 113.6 L637.9 114.1 L638.9 114.5 L639.9 115.0 L640.9 115.4 L641.9 115.9 L643.0 116.4 L644.1 116.9 L645.4 117.5 L646.6 118.1 L647.9 118.7 L649.2 119.3 L650.5 119.8 L651.7 120.4 L652.9 120.9 L654.0 121.3 L655.0 121.7 L655.9 122.0 L656.6 122.2 L657.2 122.2 L657.8 122.3 L658.3 122.3 L658.9 122.4 L659.5 122.4 L660.2 122.6 L661.0 122.8 L662.0 123.2 L663.1 123.7 L664.4 124.3 L665.8 125.0 L667.3 125.8 L668.8 126.6 L670.3 127.4 L671.9 128.3 L673.5 129.1 L675.0 129.8 L676.5 130.5 L677.9 131.1 L679.4 131.7 L680.8 132.4 L682.3 132.9 L683.7 133.5 L685.2 134.0 L686.6 134.6 L688.1 135.0 L689.5 135.4 L691.0 135.8 L692.4 136.1 L693.8 136.4 L695.1 136.6 L696.5 136.9 L697.8 137.0 L699.2 137.2 L700.7 137.2 L702.2 137.3 L703.8 137.3 L705.6 137.3 L707.5 137.2 L709.6 137.1 L711.7 136.9 L714.0 136.6 L716.3 136.4 L718.6 136.1 L720.9 135.8 L723.2 135.5 L725.4 135.2 L727.5 135.0 L729.7 134.8 L731.9 134.5 L734.1 134.3 L736.2 134.1 L738.3 133.8 L740.3 133.6 L742.4 133.4 L744.5 133.1 L746.6 132.9 M560.0 120.9 L562.5 121.1 L565.0 121.3 L567.4 121.4 L569.9 121.6 L572.4 121.8 L574.9 122.0 L577.4 122.1 L579.9 122.3 L582.4 122.5 L585.0 122.7 L587.7 122.9 L590.4 123.1 L593.2 123.3 L596.0 123.5 L598.8 123.7 L601.6 123.9 L604.4 124.1 L607.0 124.3 L609.6 124.5 L612.0 124.7 L614.3 124.9 L616.6 125.1 L618.7 125.3 L620.8 125.5 L622.9 125.7 L624.8 125.8 L626.7 126.0 L628.6 126.3 L630.3 126.5 L632.0 126.7 L633.6 126.9 L635.1 127.2 L636.5 127.5 L637.9 127.8 L639.2 128.1 L640.4 128.4 L641.6 128.6 L642.8 128.9 L643.9 129.2 L645.0 129.4 L646.0 129.6 L646.8 129.8 L647.5 130.0 L648.1 130.1 L648.8 130.3 L649.4 130.4 L650.2 130.6 L651.2 130.8 L652.5 131.0 L654.0 131.2 L655.9 131.5 L658.0 131.7 L660.5 132.0 L663.0 132.4 L665.8 132.7 L668.5 133.0 L671.3 133.3 L674.0 133.6 L676.6 133.9 L679.0 134.1 L681.1 134.3 L683.0 134.5 L684.8 134.6 L686.5 134.8 L688.1 134.9 L689.9 135.0 L691.9 135.1 L694.2 135.2 L696.9 135.3 L700.0 135.3 L704.1 135.3 L708.6 135.3 L713.6 135.2 L719.0 135.1 L724.5 135.0 L730.1 134.8 L735.8 134.7 L741.3 134.6 L746.6 134.5 M560.0 127.4 L562.5 127.4 L565.0 127.5 L567.4 127.5 L569.9 127.6 L572.4 127.6 L574.9 127.7 L577.4 127.7 L579.9 127.8 L582.4 127.8 L585.0 127.8 L587.7 127.8 L590.4 127.8 L593.2 127.8 L596.0 127.7 L598.8 127.7 L601.6 127.7 L604.4 127.6 L607.0 127.6 L609.6 127.5 L612.0 127.4 L614.3 127.3 L616.4 127.2 L618.5 127.0 L620.4 126.9 L622.3 126.7 L624.2 126.5 L626.1 126.4 L628.0 126.2 L630.0 126.1 L632.0 126.0 L634.0 125.9 L635.9 125.8 L637.7 125.8 L639.5 125.7 L641.4 125.7 L643.4 125.7 L645.6 125.6 L648.0 125.6 L650.8 125.6 L654.0 125.6 L657.6 125.6 L661.7 125.6 L666.0 125.7 L670.6 125.7 L675.5 125.8 L680.4 125.8 L685.4 125.9 L690.4 125.9 L695.3 126.0 L700.0 126.0 L705.2 126.0 L710.3 126.1 L715.5 126.1 L720.7 126.1 L725.9 126.2 L731.0 126.2 L736.2 126.2 L741.4 126.3 L746.6 126.3 M560.0 130.7 L562.5 130.8 L565.0 130.8 L567.4 130.9 L569.9 131.0 L572.4 131.0 L574.9 131.1 L577.4 131.1 L579.9 131.2 L582.4 131.3 L585.0 131.4 L587.6 131.5 L590.3 131.6 L593.0 131.7 L595.7 131.8 L598.4 131.9 L601.2 132.1 L603.9 132.2 L606.6 132.3 L609.3 132.5 L612.0 132.7 L614.7 132.9 L617.4 133.2 L620.2 133.5 L623.0 133.8 L625.7 134.1 L628.4 134.4 L631.0 134.7 L633.5 134.9 L635.8 135.2 L638.0 135.4 L640.0 135.6 L641.7 135.7 L643.3 135.9 L644.7 136.0 L646.1 136.1 L647.4 136.2 L648.9 136.3 L650.4 136.4 L652.1 136.5 L654.0 136.6 L656.1 136.7 L658.4 136.9 L660.8 137.1 L663.3 137.2 L665.8 137.4 L668.4 137.6 L671.1 137.7 L673.7 137.9 L676.4 138.1 L679.0 138.2 L681.6 138.3 L684.1 138.5 L686.5 138.6 L689.0 138.7 L691.5 138.9 L694.1 139.0 L696.8 139.1 L699.7 139.2 L702.7 139.2 L706.0 139.3 L709.9 139.3 L714.1 139.4 L718.5 139.4 L723.1 139.3 L727.8 139.3 L732.6 139.3 L737.3 139.2 L742.0 139.2 L746.6 139.2 M560.0 137.4 L561.1 137.4 L562.2 137.4 L563.2 137.4 L564.3 137.3 L565.3 137.3 L566.4 137.3 L567.5 137.3 L568.6 137.2 L569.8 137.2 L571.0 137.1 L572.3 137.0 L573.6 136.8 L575.0 136.7 L576.4 136.5 L577.9 136.3 L579.3 136.1 L580.8 135.9 L582.2 135.7 L583.6 135.6 L585.0 135.4 L586.3 135.3 L587.6 135.1 L588.9 135.0 L590.2 134.8 L591.5 134.7 L592.8 134.6 L594.1 134.4 L595.4 134.3 L596.7 134.2 L598.0 134.1 L599.3 134.0 L600.6 133.9 L601.9 133.8 L603.2 133.7 L604.6 133.6 L605.9 133.5 L607.3 133.4 L608.8 133.4 L610.4 133.4 L612.0 133.4 L613.7 133.4 L615.6 133.5 L617.5 133.5 L619.5 133.6 L621.5 133.7 L623.6 133.8 L625.7 134.0 L627.8 134.2 L629.9 134.4 L632.0 134.7 L634.1 135.0 L636.2 135.4 L638.4 135.9 L640.5 136.4 L642.7 136.9 L644.9 137.5 L647.1 138.0 L649.4 138.5 L651.7 139.0 L654.0 139.4 L656.4 139.8 L659.0 140.1 L661.7 140.4 L664.4 140.8 L667.1 141.0 L669.7 141.3 L672.3 141.6 L674.7 141.9 L677.0 142.2 L679.0 142.5 L680.8 142.8 L682.2 143.1 L683.5 143.4 L684.7 143.7 L685.8 144.0 L686.8 144.3 L687.9 144.6 L689.1 145.0 L690.4 145.3 L692.0 145.7 L693.8 146.1 L695.8 146.6 L697.8 147.0 L700.0 147.5 L702.2 148.0 L704.5 148.6 L706.7 149.1 L708.9 149.6 L711.0 150.0 L713.0 150.5 L714.9 150.9 L716.7 151.4 L718.4 151.8 L720.1 152.3 L721.8 152.7 L723.4 153.1 L725.1 153.5 L726.7 153.9 L728.3 154.2 L730.0 154.5 L731.9 154.8 L733.7 155.0 L735.6 155.3 L737.4 155.5 L739.2 155.6 L741.1 155.8 L742.9 155.9 L744.8 156.1 L746.6 156.3 M560.0 148.4 L561.1 148.5 L562.2 148.5 L563.2 148.6 L564.3 148.6 L565.3 148.7 L566.4 148.8 L567.5 148.8 L568.6 148.9 L569.8 149.1 L571.0 149.2 L572.3 149.4 L573.6 149.6 L575.0 149.8 L576.4 150.0 L577.9 150.2 L579.3 150.5 L580.8 150.7 L582.2 151.0 L583.6 151.2 L585.0 151.5 L586.3 151.8 L587.6 152.1 L588.9 152.4 L590.2 152.7 L591.5 153.0 L592.8 153.4 L594.1 153.7 L595.4 154.0 L596.7 154.3 L598.0 154.6 L599.3 154.9 L600.6 155.2 L601.9 155.4 L603.2 155.7 L604.6 156.0 L605.9 156.2 L607.3 156.5 L608.8 156.8 L610.4 157.0 L612.0 157.3 L613.7 157.6 L615.6 157.9 L617.5 158.2 L619.5 158.5 L621.5 158.8 L623.6 159.0 L625.7 159.3 L627.8 159.6 L629.9 159.9 L632.0 160.2 L634.2 160.5 L636.4 160.7 L638.8 161.0 L641.2 161.3 L643.6 161.5 L645.9 161.8 L648.1 162.1 L650.3 162.3 L652.2 162.6 L654.0 162.9 L655.5 163.2 L656.9 163.5 L658.0 163.8 L659.0 164.1 L660.0 164.4 L660.9 164.7 L661.8 165.0 L662.8 165.3 L663.8 165.7 L665.0 166.0 L666.2 166.3 L667.4 166.7 L668.6 167.1 L669.8 167.5 L671.0 167.9 L672.3 168.3 L673.8 168.6 L675.3 168.9 L677.1 169.2 L679.0 169.5 L681.1 169.7 L683.4 169.9 L685.7 170.0 L688.2 170.1 L690.8 170.2 L693.6 170.3 L696.5 170.4 L699.5 170.5 L702.7 170.5 L706.0 170.6 L709.9 170.7 L714.1 170.7 L718.5 170.8 L723.1 170.8 L727.8 170.9 L732.6 170.9 L737.3 170.9 L742.0 171.0 L746.6 171.0 M560.0 164.0 L562.5 164.0 L565.0 163.9 L567.4 163.8 L569.9 163.8 L572.4 163.7 L574.9 163.7 L577.4 163.6 L579.9 163.6 L582.4 163.6 L585.0 163.6 L587.7 163.6 L590.4 163.6 L593.2 163.7 L596.0 163.7 L598.8 163.8 L601.6 163.9 L604.4 164.0 L607.0 164.1 L609.6 164.2 L612.0 164.4 L614.3 164.6 L616.6 164.8 L618.7 165.1 L620.8 165.4 L622.9 165.7 L624.8 166.1 L626.7 166.4 L628.6 166.7 L630.3 167.0 L632.0 167.3 L633.6 167.6 L635.1 167.9 L636.5 168.1 L637.9 168.4 L639.2 168.7 L640.4 169.0 L641.6 169.2 L642.8 169.5 L643.9 169.8 L645.0 170.0 L646.0 170.3 L646.8 170.5 L647.5 170.8 L648.1 171.0 L648.8 171.3 L649.4 171.5 L650.2 171.7 L651.2 171.9 L652.5 172.1 L654.0 172.2 L655.8 172.3 L657.9 172.2 L660.3 172.2 L662.8 172.1 L665.4 172.0 L668.1 171.9 L670.8 171.8 L673.6 171.8 L676.3 171.8 L679.0 171.8 L681.6 171.9 L684.1 172.0 L686.5 172.2 L689.0 172.4 L691.5 172.6 L694.1 172.8 L696.8 173.1 L699.7 173.3 L702.7 173.5 L706.0 173.7 L709.9 173.9 L714.1 174.1 L718.5 174.3 L723.1 174.5 L727.8 174.7 L732.6 174.9 L737.3 175.1 L742.0 175.3 L746.6 175.5 M560.0 185.1 L562.5 185.0 L565.1 184.9 L567.7 184.8 L570.2 184.6 L572.8 184.5 L575.4 184.4 L577.9 184.3 L580.3 184.1 L582.7 184.0 L585.0 183.8 L587.2 183.6 L589.3 183.4 L591.4 183.2 L593.4 182.9 L595.3 182.7 L597.2 182.4 L599.2 182.1 L601.1 181.8 L603.0 181.5 L605.0 181.1 L607.0 180.7 L609.1 180.3 L611.2 179.8 L613.3 179.4 L615.4 178.9 L617.5 178.4 L619.5 177.9 L621.4 177.4 L623.3 176.9 L625.0 176.4 L626.6 175.9 L628.0 175.5 L629.4 175.1 L630.7 174.7 L631.9 174.3 L633.1 173.9 L634.2 173.4 L635.4 172.9 L636.7 172.3 L638.0 171.7 L639.4 171.0 L640.8 170.2 L642.2 169.4 L643.6 168.5 L645.0 167.6 L646.4 166.6 L647.8 165.7 L649.2 164.8 L650.6 163.9 L652.0 163.0 L653.3 162.2 L654.6 161.3 L655.9 160.5 L657.2 159.7 L658.5 158.9 L659.8 158.1 L661.1 157.3 L662.4 156.5 L663.7 155.7 L665.0 154.9 L666.4 154.1 L667.8 153.3 L669.2 152.5 L670.7 151.6 L672.1 150.8 L673.6 150.0 L675.0 149.3 L676.4 148.6 L677.7 148.0 L679.0 147.5 L680.2 147.1 L681.4 146.7 L682.5 146.4 L683.6 146.2 L684.6 146.0 L685.7 145.9 L686.7 145.8 L687.8 145.7 L688.9 145.7 L690.0 145.6 L691.1 145.6 L692.2 145.6 L693.3 145.6 L694.4 145.7 L695.6 145.8 L696.7 145.9 L697.9 146.0 L699.2 146.1 L700.6 146.3 L702.0 146.4 L703.5 146.5 L705.1 146.7 L706.7 146.9 L708.4 147.1 L710.1 147.3 L711.9 147.5 L713.8 147.7 L715.8 147.9 L717.8 148.1 L720.0 148.3 L722.6 148.5 L725.3 148.7 L728.2 148.8 L731.2 149.0 L734.3 149.2 L737.4 149.3 L740.5 149.5 L743.6 149.6 L746.6 149.8 M560.0 185.8 L562.5 185.9 L565.0 185.9 L567.4 186.0 L569.9 186.1 L572.4 186.2 L574.9 186.2 L577.4 186.3 L579.9 186.4 L582.4 186.4 L585.0 186.4 L587.7 186.4 L590.5 186.4 L593.4 186.4 L596.3 186.4 L599.2 186.4 L602.1 186.3 L604.9 186.3 L607.5 186.2 L609.9 186.0 L612.0 185.8 L613.9 185.5 L615.5 185.2 L616.9 184.9 L618.2 184.5 L619.4 184.1 L620.5 183.7 L621.5 183.2 L622.6 182.7 L623.8 182.3 L625.0 181.8 L626.3 181.3 L627.6 180.8 L628.9 180.3 L630.2 179.8 L631.4 179.3 L632.7 178.8 L634.0 178.2 L635.3 177.6 L636.7 177.0 L638.0 176.4 L639.4 175.7 L640.8 175.0 L642.3 174.2 L643.9 173.4 L645.4 172.5 L646.9 171.7 L648.3 170.9 L649.6 170.2 L650.9 169.6 L652.0 169.0 L653.0 168.6 L653.8 168.2 L654.4 168.0 L655.0 167.8 L655.6 167.6 L656.1 167.4 L656.7 167.2 L657.3 167.0 L658.1 166.6 L659.0 166.2 L660.1 165.6 L661.2 165.0 L662.4 164.3 L663.7 163.5 L665.1 162.7 L666.5 161.9 L667.9 161.1 L669.3 160.3 L670.7 159.6 L672.0 158.9 L673.3 158.3 L674.7 157.6 L676.0 157.0 L677.4 156.4 L678.7 155.8 L680.1 155.3 L681.4 154.8 L682.8 154.3 L684.1 153.9 L685.5 153.5 L686.8 153.2 L688.2 152.9 L689.5 152.7 L690.9 152.6 L692.2 152.4 L693.6 152.3 L694.9 152.3 L696.3 152.2 L697.6 152.2 L699.0 152.2 L700.4 152.2 L701.8 152.3 L703.1 152.3 L704.5 152.5 L705.9 152.6 L707.3 152.7 L708.7 152.9 L710.2 153.1 L711.6 153.2 L713.0 153.4 L714.4 153.6 L715.8 153.8 L717.2 154.0 L718.5 154.2 L719.9 154.4 L721.3 154.6 L722.8 154.9 L724.3 155.1 L725.9 155.4 L727.5 155.6 L729.4 155.9 L731.4 156.2 L733.5 156.5 L735.7 156.8 L737.9 157.1 L740.1 157.4 L742.3 157.8 L744.5 158.1 L746.6 158.4 M560.0 189.8 L562.5 189.9 L565.1 190.0 L567.7 190.1 L570.2 190.1 L572.8 190.2 L575.4 190.3 L577.9 190.4 L580.3 190.4 L582.7 190.5 L585.0 190.5 L587.2 190.5 L589.4 190.5 L591.6 190.5 L593.7 190.5 L595.8 190.4 L597.7 190.3 L599.7 190.3 L601.5 190.1 L603.3 190.0 L605.0 189.8 L606.6 189.6 L608.0 189.3 L609.4 189.0 L610.7 188.7 L611.9 188.3 L613.1 187.9 L614.2 187.5 L615.4 187.2 L616.7 186.8 L618.0 186.4 L619.4 186.0 L620.8 185.6 L622.2 185.2 L623.6 184.8 L625.0 184.4 L626.4 184.0 L627.8 183.6 L629.2 183.2 L630.6 182.8 L632.0 182.4 L633.3 182.0 L634.7 181.7 L636.0 181.3 L637.2 181.0 L638.5 180.6 L639.8 180.2 L641.1 179.8 L642.4 179.4 L643.7 178.9 L645.0 178.4 L646.3 177.8 L647.6 177.1 L648.9 176.4 L650.1 175.7 L651.4 174.9 L652.7 174.1 L654.1 173.3 L655.5 172.5 L657.1 171.7 L658.7 171.0 L660.4 170.3 L662.2 169.6 L664.0 168.9 L666.0 168.2 L667.9 167.5 L670.0 166.8 L672.1 166.1 L674.2 165.5 L676.5 164.8 L678.8 164.2 L681.2 163.6 L683.8 162.9 L686.5 162.3 L689.3 161.7 L692.1 161.1 L694.9 160.5 L697.7 160.0 L700.4 159.5 L703.1 159.0 L705.6 158.6 L708.0 158.2 L710.3 157.9 L712.6 157.7 L714.8 157.4 L717.0 157.2 L719.2 157.0 L721.3 156.9 L723.4 156.7 L725.4 156.6 L727.5 156.4 L729.7 156.2 L731.9 156.1 L734.1 156.0 L736.2 155.8 L738.3 155.7 L740.3 155.6 L742.4 155.5 L744.5 155.4 L746.6 155.3 M560.0 190.8 L562.5 190.8 L565.1 190.9 L567.7 191.0 L570.2 191.0 L572.8 191.1 L575.4 191.1 L577.9 191.2 L580.3 191.2 L582.7 191.2 L585.0 191.2 L587.2 191.2 L589.3 191.2 L591.4 191.2 L593.4 191.2 L595.3 191.1 L597.2 191.1 L599.2 191.0 L601.1 190.8 L603.0 190.6 L605.0 190.3 L607.0 189.9 L609.0 189.5 L611.0 188.9 L613.0 188.4 L615.0 187.8 L617.0 187.1 L619.0 186.5 L621.0 185.8 L623.0 185.1 L625.0 184.5 L627.1 183.9 L629.2 183.2 L631.4 182.4 L633.6 181.7 L635.8 181.0 L637.9 180.3 L640.0 179.6 L641.8 178.9 L643.5 178.3 L645.0 177.8 L646.2 177.3 L647.1 176.9 L647.9 176.4 L648.4 176.1 L648.9 175.7 L649.4 175.4 L649.8 175.1 L650.4 174.9 L651.1 174.7 L652.0 174.6 L653.0 174.5 L654.1 174.5 L655.1 174.5 L656.3 174.6 L657.5 174.7 L658.8 174.8 L660.2 175.0 L661.8 175.2 L663.5 175.4 L665.4 175.7 L667.5 176.0 L669.9 176.4 L672.5 176.9 L675.2 177.4 L678.0 177.9 L680.8 178.4 L683.7 178.9 L686.6 179.4 L689.5 179.9 L692.2 180.4 L694.9 180.8 L697.5 181.3 L700.2 181.7 L702.9 182.2 L705.6 182.6 L708.2 183.0 L710.9 183.4 L713.6 183.8 L716.3 184.1 L719.0 184.4 L722.0 184.7 L725.1 184.9 L728.1 185.2 L731.2 185.4 L734.3 185.5 L737.4 185.7 L740.5 185.8 L743.5 186.0 L746.6 186.2 M560.0 207.2 L561.8 207.0 L563.6 206.9 L565.3 206.7 L567.1 206.6 L568.9 206.5 L570.7 206.3 L572.5 206.1 L574.3 205.9 L576.1 205.6 L578.0 205.2 L579.9 204.7 L582.0 204.1 L584.0 203.5 L586.1 202.7 L588.2 202.0 L590.3 201.2 L592.4 200.5 L594.4 199.7 L596.2 199.1 L598.0 198.5 L599.6 198.0 L601.2 197.5 L602.7 197.0 L604.1 196.5 L605.4 196.1 L606.8 195.7 L608.1 195.4 L609.4 195.0 L610.7 194.8 L612.0 194.5 L613.3 194.3 L614.7 194.1 L616.0 194.0 L617.3 193.9 L618.6 193.8 L619.8 193.8 L621.1 193.8 L622.4 193.8 L623.7 193.8 L625.0 193.8 L626.3 193.8 L627.6 193.9 L628.8 194.0 L630.1 194.1 L631.3 194.2 L632.6 194.3 L633.9 194.5 L635.2 194.6 L636.6 194.7 L638.0 194.8 L639.3 194.9 L640.5 195.0 L641.6 195.1 L642.7 195.2 L643.9 195.2 L645.3 195.3 L646.9 195.4 L648.8 195.5 L651.2 195.5 L654.0 195.6 L657.4 195.6 L661.3 195.7 L665.6 195.7 L670.2 195.7 L675.1 195.8 L680.1 195.8 L685.2 195.8 L690.3 195.8 L695.2 195.8 L700.0 195.8 L705.2 195.8 L710.3 195.8 L715.5 195.8 L720.7 195.8 L725.9 195.8 L731.0 195.8 L736.2 195.8 L741.4 195.8 L746.6 195.8 M560.0 208.6 L562.5 208.5 L565.1 208.5 L567.7 208.5 L570.2 208.5 L572.8 208.5 L575.4 208.4 L577.9 208.4 L580.3 208.3 L582.7 208.1 L585.0 207.9 L587.2 207.6 L589.4 207.4 L591.6 207.0 L593.7 206.7 L595.8 206.3 L597.7 205.9 L599.7 205.4 L601.5 204.9 L603.3 204.4 L605.0 203.9 L606.6 203.3 L608.0 202.7 L609.4 202.0 L610.7 201.4 L611.9 200.6 L613.1 199.9 L614.2 199.2 L615.4 198.5 L616.7 197.8 L618.0 197.2 L619.4 196.6 L620.8 196.0 L622.2 195.4 L623.6 194.8 L625.0 194.2 L626.4 193.7 L627.8 193.1 L629.2 192.6 L630.6 192.2 L632.0 191.8 L633.4 191.5 L634.7 191.2 L636.1 190.9 L637.5 190.7 L638.8 190.5 L640.1 190.3 L641.4 190.1 L642.7 190.0 L643.9 189.9 L645.0 189.8 L645.9 189.7 L646.5 189.7 L646.8 189.6 L647.1 189.6 L647.4 189.7 L647.9 189.7 L648.7 189.7 L649.9 189.7 L651.6 189.8 L654.0 189.8 L657.1 189.8 L660.8 189.9 L665.1 189.9 L669.7 189.9 L674.6 190.0 L679.8 190.0 L685.0 190.1 L690.2 190.1 L695.2 190.2 L700.0 190.2 L705.2 190.2 L710.3 190.3 L715.5 190.3 L720.7 190.3 L725.9 190.4 L731.0 190.4 L736.2 190.4 L741.4 190.5 L746.6 190.5 M560.0 211.2 L562.5 211.2 L565.1 211.3 L567.7 211.3 L570.2 211.4 L572.8 211.5 L575.4 211.5 L577.9 211.5 L580.3 211.5 L582.7 211.4 L585.0 211.2 L587.2 210.9 L589.3 210.6 L591.4 210.2 L593.4 209.7 L595.3 209.2 L597.2 208.7 L599.2 208.2 L601.1 207.6 L603.0 207.1 L605.0 206.6 L607.0 206.1 L609.1 205.5 L611.2 205.0 L613.3 204.4 L615.4 203.8 L617.5 203.2 L619.5 202.6 L621.4 202.1 L623.3 201.6 L625.0 201.2 L626.6 200.8 L628.0 200.5 L629.3 200.2 L630.6 199.9 L631.8 199.7 L632.9 199.4 L634.1 199.2 L635.3 199.0 L636.6 198.7 L638.0 198.5 L639.5 198.2 L641.1 198.0 L642.7 197.8 L644.4 197.5 L646.1 197.3 L647.8 197.0 L649.5 196.8 L651.1 196.6 L652.6 196.3 L654.0 196.1 L655.3 195.9 L656.4 195.6 L657.4 195.4 L658.3 195.2 L659.2 194.9 L660.2 194.7 L661.2 194.5 L662.3 194.2 L663.6 194.0 L665.0 193.8 L666.6 193.6 L668.3 193.4 L670.2 193.1 L672.1 192.9 L674.1 192.7 L676.2 192.5 L678.3 192.3 L680.5 192.1 L682.8 192.0 L685.0 191.8 L687.2 191.7 L689.5 191.6 L691.8 191.4 L694.1 191.4 L696.5 191.3 L698.9 191.2 L701.5 191.1 L704.2 191.1 L707.0 191.0 L710.0 191.0 L713.6 191.0 L717.4 190.9 L721.3 190.9 L725.5 190.9 L729.7 191.0 L734.0 191.0 L738.2 191.0 L742.5 191.0 L746.6 191.0 M560.0 215.7 L562.5 215.6 L565.1 215.5 L567.7 215.3 L570.2 215.2 L572.8 215.1 L575.4 215.0 L577.9 214.8 L580.3 214.7 L582.7 214.6 L585.0 214.4 L587.2 214.2 L589.4 214.1 L591.6 213.9 L593.7 213.7 L595.8 213.5 L597.7 213.3 L599.7 213.1 L601.5 212.9 L603.3 212.6 L605.0 212.4 L606.6 212.2 L607.9 212.0 L609.2 211.8 L610.4 211.6 L611.5 211.3 L612.6 211.1 L613.8 210.8 L615.1 210.5 L616.4 210.1 L618.0 209.7 L619.7 209.2 L621.6 208.6 L623.6 208.0 L625.7 207.4 L627.8 206.7 L630.0 206.0 L632.1 205.3 L634.1 204.6 L636.1 203.9 L638.0 203.2 L639.7 202.5 L641.3 201.8 L642.8 201.1 L644.2 200.3 L645.6 199.6 L647.1 198.9 L648.6 198.3 L650.2 197.7 L652.0 197.2 L654.0 196.8 L656.0 196.5 L657.9 196.3 L659.8 196.2 L661.7 196.2 L663.8 196.2 L666.2 196.2 L668.9 196.3 L672.0 196.4 L675.7 196.4 L680.0 196.4 L685.6 196.4 L692.1 196.4 L699.2 196.4 L706.8 196.4 L714.8 196.4 L722.9 196.4 L731.0 196.4 L739.0 196.4 L746.6 196.4 M560.0 220.4 L561.8 220.3 L563.6 220.3 L565.3 220.2 L567.1 220.2 L568.9 220.1 L570.7 220.0 L572.5 220.0 L574.3 219.9 L576.1 219.8 L578.0 219.7 L579.9 219.6 L581.9 219.4 L584.0 219.3 L586.0 219.1 L588.1 218.9 L590.2 218.7 L592.2 218.6 L594.2 218.4 L596.2 218.2 L598.0 218.1 L599.8 218.0 L601.4 217.8 L603.0 217.7 L604.6 217.6 L606.1 217.5 L607.6 217.4 L609.2 217.3 L610.7 217.2 L612.3 217.1 L614.0 217.1 L615.7 217.1 L617.4 217.1 L619.2 217.1 L621.0 217.1 L622.8 217.2 L624.6 217.3 L626.4 217.3 L628.2 217.4 L630.1 217.6 L632.0 217.7 L634.0 217.9 L636.0 218.1 L638.1 218.3 L640.2 218.6 L642.3 218.8 L644.4 219.1 L646.5 219.4 L648.4 219.6 L650.3 219.9 L652.0 220.1 L653.6 220.3 L655.0 220.5 L656.4 220.6 L657.7 220.8 L658.9 220.9 L660.1 221.0 L661.2 221.2 L662.4 221.4 L663.7 221.6 L665.0 221.8 L666.4 222.1 L667.8 222.3 L669.2 222.7 L670.6 223.0 L672.0 223.3 L673.4 223.7 L674.8 224.0 L676.2 224.4 L677.6 224.7 L679.0 225.1 L680.3 225.5 L681.6 225.9 L682.9 226.2 L684.2 226.6 L685.5 227.0 L686.8 227.5 L688.1 227.9 L689.4 228.3 L690.7 228.7 L692.0 229.1 L693.4 229.5 L694.8 229.9 L696.2 230.4 L697.6 230.8 L699.0 231.2 L700.4 231.6 L701.8 232.1 L703.2 232.5 L704.6 232.8 L706.0 233.2 L707.3 233.5 L708.7 233.9 L710.0 234.2 L711.3 234.5 L712.6 234.8 L713.8 235.1 L715.1 235.4 L716.4 235.6 L717.7 235.9 L719.0 236.1 L720.3 236.3 L721.6 236.5 L722.8 236.7 L724.1 236.9 L725.4 237.1 L726.7 237.2 L728.0 237.4 L729.3 237.5 L730.6 237.7 L732.0 237.8 L733.6 237.9 L735.1 238.0 L736.7 238.1 L738.4 238.2 L740.0 238.2 L741.7 238.3 L743.3 238.4 L745.0 238.4 L746.6 238.5 M560.0 264.5 L563.1 264.5 L566.4 264.5 L569.6 264.4 L572.9 264.4 L576.1 264.4 L579.3 264.3 L582.4 264.3 L585.4 264.4 L588.3 264.4 L591.0 264.5 L593.5 264.6 L595.9 264.8 L598.1 265.0 L600.2 265.2 L602.2 265.4 L604.2 265.7 L606.1 266.0 L608.0 266.2 L610.0 266.5 L612.0 266.8 L614.0 267.1 L616.0 267.4 L618.0 267.7 L620.0 268.1 L621.9 268.4 L623.9 268.8 L625.9 269.1 L627.9 269.5 L629.9 269.8 L632.0 270.1 L634.1 270.4 L636.2 270.7 L638.3 271.0 L640.5 271.2 L642.6 271.5 L644.8 271.8 L647.0 272.0 L649.3 272.3 L651.6 272.6 L654.0 272.8 L656.4 273.0 L658.9 273.3 L661.4 273.5 L663.9 273.7 L666.5 274.0 L669.1 274.2 L671.8 274.4 L674.5 274.6 L677.2 274.8 L680.0 275.0 L682.8 275.2 L685.6 275.4 L688.5 275.5 L691.4 275.7 L694.3 275.9 L697.3 276.0 L700.4 276.1 L703.5 276.3 L706.7 276.4 L710.0 276.5 L713.8 276.6 L717.7 276.7 L721.7 276.7 L725.8 276.8 L730.0 276.8 L734.2 276.9 L738.3 276.9 L742.5 276.9 L746.6 277.0 M560.0 266.8 L563.1 266.8 L566.4 266.8 L569.6 266.8 L572.9 266.8 L576.1 266.8 L579.3 266.7 L582.4 266.7 L585.4 266.8 L588.3 266.8 L591.0 266.8 L593.5 266.8 L595.9 266.9 L598.1 266.9 L600.2 266.9 L602.2 266.9 L604.2 267.0 L606.1 267.1 L608.0 267.2 L610.0 267.3 L612.0 267.5 L614.0 267.7 L616.0 268.0 L618.0 268.3 L620.0 268.6 L621.9 269.0 L623.9 269.4 L625.9 269.7 L627.9 270.1 L629.9 270.5 L632.0 270.8 L634.1 271.1 L636.2 271.5 L638.3 271.8 L640.5 272.2 L642.6 272.5 L644.8 272.9 L647.0 273.2 L649.3 273.5 L651.6 273.8 L654.0 274.1 L656.4 274.3 L658.9 274.6 L661.4 274.8 L663.9 275.0 L666.5 275.2 L669.1 275.3 L671.8 275.5 L674.5 275.7 L677.2 275.8 L680.0 276.0 L682.8 276.2 L685.6 276.3 L688.5 276.5 L691.4 276.7 L694.3 276.8 L697.3 277.0 L700.4 277.1 L703.5 277.3 L706.7 277.4 L710.0 277.5 L713.8 277.6 L717.7 277.7 L721.7 277.7 L725.8 277.8 L730.0 277.8 L734.2 277.9 L738.3 277.9 L742.5 277.9 L746.6 278.0 M560.0 270.8 L562.5 270.9 L565.0 271.0 L567.4 271.2 L569.9 271.3 L572.4 271.4 L574.9 271.5 L577.4 271.7 L579.9 271.8 L582.4 271.9 L585.0 272.1 L587.6 272.3 L590.0 272.5 L592.5 272.6 L594.9 272.8 L597.4 273.1 L600.0 273.3 L602.7 273.5 L605.6 273.7 L608.7 273.9 L612.0 274.1 L615.7 274.3 L619.7 274.5 L624.0 274.7 L628.5 275.0 L633.1 275.2 L637.6 275.4 L642.1 275.6 L646.4 275.8 L650.4 275.9 L654.0 276.1 L657.2 276.2 L660.2 276.3 L662.9 276.4 L665.4 276.5 L667.8 276.6 L670.1 276.7 L672.4 276.8 L674.8 276.8 L677.3 276.9 L680.0 277.0 L682.8 277.1 L685.6 277.2 L688.5 277.3 L691.4 277.4 L694.3 277.5 L697.3 277.6 L700.4 277.7 L703.5 277.8 L706.7 277.9 L710.0 278.0 L713.8 278.1 L717.7 278.2 L721.7 278.3 L725.8 278.4 L730.0 278.5 L734.2 278.5 L738.3 278.6 L742.5 278.7 L746.6 278.8 M560.0 272.1 L562.5 272.2 L565.0 272.4 L567.4 272.5 L569.9 272.6 L572.4 272.7 L574.9 272.9 L577.4 273.0 L579.9 273.1 L582.4 273.3 L585.0 273.4 L587.6 273.5 L590.0 273.7 L592.5 273.8 L594.9 273.9 L597.4 274.1 L600.0 274.2 L602.7 274.3 L605.6 274.5 L608.7 274.6 L612.0 274.8 L615.7 275.0 L619.7 275.2 L624.0 275.4 L628.5 275.6 L633.1 275.8 L637.6 276.0 L642.1 276.3 L646.4 276.5 L650.4 276.6 L654.0 276.8 L657.2 276.9 L660.2 277.1 L662.9 277.2 L665.4 277.3 L667.8 277.4 L670.1 277.4 L672.4 277.5 L674.8 277.6 L677.3 277.7 L680.0 277.8 L682.8 277.9 L685.6 278.0 L688.5 278.1 L691.4 278.2 L694.3 278.3 L697.3 278.4 L700.4 278.5 L703.5 278.6 L706.7 278.7 L710.0 278.8 L713.8 278.9 L717.7 279.0 L721.7 279.1 L725.8 279.1 L730.0 279.2 L734.2 279.3 L738.3 279.4 L742.5 279.4 L746.6 279.5 M560.0 302.7 L562.0 302.7 L564.0 302.7 L565.9 302.7 L567.9 302.7 L569.9 302.7 L571.9 302.7 L573.9 302.7 L575.9 302.8 L577.9 302.9 L580.0 303.1 L582.2 303.3 L584.4 303.6 L586.7 304.0 L589.0 304.3 L591.3 304.7 L593.6 305.2 L595.9 305.6 L598.0 306.0 L600.1 306.4 L602.0 306.8 L603.8 307.2 L605.4 307.6 L607.0 308.0 L608.5 308.4 L609.9 308.7 L611.3 309.1 L612.7 309.5 L614.1 309.9 L615.5 310.2 L617.0 310.5 L618.5 310.8 L619.9 311.1 L621.3 311.3 L622.8 311.6 L624.2 311.8 L625.6 312.1 L627.1 312.2 L628.7 312.4 L630.3 312.6 L632.0 312.7 L633.8 312.8 L635.5 312.9 L637.3 312.9 L639.2 312.9 L641.1 312.9 L643.1 312.9 L645.2 312.9 L647.3 312.9 L649.6 312.8 L652.0 312.7 L654.5 312.6 L657.2 312.4 L660.0 312.3 L662.9 312.1 L665.9 311.9 L668.9 311.7 L671.9 311.5 L675.0 311.3 L678.0 311.1 L681.0 310.9 L683.9 310.7 L686.8 310.6 L689.8 310.4 L692.7 310.3 L695.6 310.1 L698.5 310.0 L701.6 309.9 L704.6 309.7 L707.8 309.6 L711.0 309.5 L714.7 309.4 L718.5 309.3 L722.5 309.2 L726.4 309.1 L730.5 309.0 L734.5 308.9 L738.6 308.9 L742.6 308.8 L746.6 308.7 M560.0 309.0 L562.7 309.1 L565.4 309.1 L568.0 309.1 L570.7 309.2 L573.3 309.2 L576.0 309.3 L578.7 309.3 L581.4 309.4 L584.2 309.5 L587.0 309.7 L589.9 309.9 L593.0 310.1 L596.3 310.4 L599.5 310.7 L602.8 311.0 L605.9 311.4 L609.0 311.7 L611.9 311.9 L614.6 312.2 L617.0 312.4 L619.1 312.6 L620.9 312.7 L622.4 312.8 L623.8 312.9 L625.1 313.0 L626.4 313.0 L627.6 313.1 L628.9 313.1 L630.4 313.2 L632.0 313.2 L633.8 313.2 L635.5 313.3 L637.3 313.3 L639.2 313.4 L641.1 313.4 L643.1 313.4 L645.2 313.4 L647.3 313.4 L649.6 313.4 L652.0 313.3 L654.5 313.2 L657.2 313.0 L660.0 312.9 L662.9 312.7 L665.9 312.4 L668.9 312.2 L671.9 312.0 L675.0 311.8 L678.0 311.6 L681.0 311.4 L683.9 311.2 L686.8 311.1 L689.8 310.9 L692.7 310.8 L695.6 310.6 L698.5 310.5 L701.6 310.4 L704.6 310.2 L707.8 310.1 L711.0 310.0 L714.7 309.9 L718.5 309.8 L722.5 309.7 L726.4 309.6 L730.5 309.5 L734.5 309.4 L738.6 309.4 L742.6 309.3 L746.6 309.2 M560.0 310.5 L563.6 310.6 L567.2 310.7 L570.9 310.9 L574.5 311.0 L578.2 311.1 L581.8 311.2 L585.4 311.3 L589.0 311.5 L592.5 311.6 L596.0 311.8 L599.4 312.0 L602.8 312.2 L606.2 312.4 L609.5 312.6 L612.8 312.8 L616.1 313.0 L619.3 313.3 L622.6 313.6 L625.8 313.9 L629.0 314.2 L632.2 314.5 L635.4 314.9 L638.6 315.2 L641.8 315.6 L645.0 316.0 L648.1 316.5 L651.2 317.0 L654.2 317.5 L657.2 318.1 L660.0 318.8 L662.8 319.6 L665.6 320.5 L668.3 321.4 L671.0 322.5 L673.6 323.5 L676.2 324.6 L678.6 325.7 L680.9 326.8 L683.0 327.8 L685.0 328.8 L686.8 329.8 L688.5 330.7 L690.0 331.7 L691.4 332.6 L692.6 333.5 L693.8 334.5 L694.9 335.3 L696.0 336.2 L697.0 337.0 L698.0 337.7 L699.0 338.4 L699.8 339.0 L700.6 339.6 L701.4 340.1 L702.1 340.6 L702.7 341.1 L703.3 341.6 L703.9 342.0 L704.4 342.5 L705.0 343.0 L705.6 343.6 L706.1 344.1 L706.6 344.6 L707.0 345.2 L707.4 345.7 L707.8 346.2 L708.2 346.7 L708.6 347.3 L709.0 347.8 M560.0 312.0 L563.0 312.1 L566.1 312.3 L569.2 312.4 L572.2 312.5 L575.3 312.7 L578.4 312.8 L581.4 312.9 L584.3 313.1 L587.2 313.2 L590.0 313.4 L592.7 313.6 L595.4 313.7 L598.0 313.9 L600.6 314.1 L603.1 314.3 L605.6 314.5 L608.0 314.7 L610.4 314.9 L612.7 315.2 L615.0 315.5 L617.2 315.8 L619.4 316.2 L621.5 316.5 L623.5 316.9 L625.5 317.3 L627.5 317.8 L629.4 318.3 L631.3 318.8 L633.1 319.4 L635.0 320.0 L636.8 320.7 L638.6 321.5 L640.4 322.3 L642.1 323.2 L643.8 324.1 L645.4 325.1 L647.1 326.0 L648.7 326.9 L650.4 327.8 L652.0 328.6 L653.6 329.4 L655.2 330.1 L656.8 330.8 L658.4 331.6 L660.0 332.3 L661.6 333.0 L663.2 333.6 L664.8 334.4 L666.4 335.1 L668.0 335.8 L669.7 336.6 L671.5 337.4 L673.3 338.2 L675.2 339.0 L677.1 339.8 L678.9 340.6 L680.6 341.4 L682.2 342.2 L683.7 342.9 L685.0 343.5 L686.2 344.1 L687.2 344.7 L688.1 345.2 L688.8 345.6 L689.4 346.1 L690.0 346.5 L690.6 346.9 L691.3 347.3 L692.0 347.8 M560.0 317.9 L564.0 318.0 L568.2 318.1 L572.3 318.1 L576.5 318.2 L580.6 318.2 L584.7 318.3 L588.7 318.4 L592.6 318.6 L596.4 318.8 L600.0 319.0 L603.5 319.3 L606.8 319.7 L610.0 320.1 L613.2 320.5 L616.2 320.9 L619.2 321.4 L622.0 321.9 L624.8 322.4 L627.5 323.0 L630.0 323.5 L632.4 324.0 L634.6 324.6 L636.7 325.2 L638.7 325.7 L640.6 326.3 L642.5 327.0 L644.3 327.6 L646.2 328.2 L648.0 328.9 L650.0 329.5 L652.0 330.2 L654.1 330.9 L656.2 331.6 L658.2 332.3 L660.3 333.0 L662.4 333.8 L664.4 334.5 L666.3 335.2 L668.2 335.9 L670.0 336.5 L671.7 337.1 L673.4 337.7 L675.0 338.3 L676.5 338.8 L678.0 339.3 L679.5 339.9 L680.9 340.4 L682.3 340.9 L683.6 341.4 L685.0 342.0 L686.5 342.6 L687.9 343.3 L689.2 343.9 L690.5 344.6 L691.8 345.2 L693.1 345.9 L694.4 346.5 L695.7 347.2 L697.0 347.8 M560.0 320.1 L564.0 320.2 L568.2 320.3 L572.3 320.4 L576.5 320.5 L580.6 320.6 L584.7 320.7 L588.7 320.9 L592.6 321.0 L596.4 321.2 L600.0 321.5 L603.5 321.8 L606.8 322.2 L610.0 322.6 L613.2 323.0 L616.2 323.5 L619.2 323.9 L622.0 324.4 L624.8 325.0 L627.5 325.5 L630.0 326.0 L632.4 326.5 L634.7 327.1 L636.8 327.7 L638.8 328.3 L640.8 328.9 L642.6 329.5 L644.5 330.1 L646.3 330.7 L648.1 331.4 L650.0 332.0 L651.9 332.6 L653.8 333.3 L655.7 333.9 L657.5 334.6 L659.4 335.3 L661.2 335.9 L663.0 336.6 L664.7 337.3 L666.4 337.9 L668.0 338.5 L669.6 339.1 L671.2 339.7 L672.7 340.3 L674.2 340.9 L675.6 341.4 L677.0 342.0 L678.4 342.5 L679.6 343.0 L680.9 343.5 L682.0 344.0 L683.2 344.5 L684.2 345.0 L685.1 345.4 L686.0 345.8 L686.8 346.2 L687.6 346.6 L688.3 347.0 L689.1 347.4 L690.0 347.8 M560.0 328.9 L562.0 328.9 L564.0 328.9 L565.9 328.9 L567.9 328.9 L569.9 328.9 L571.9 328.9 L573.9 328.9 L575.9 329.0 L577.9 329.1 L580.0 329.2 L582.1 329.4 L584.3 329.6 L586.5 329.8 L588.7 330.0 L590.9 330.3 L593.1 330.6 L595.3 330.9 L597.6 331.2 L599.8 331.6 L602.0 331.9 L604.2 332.3 L606.5 332.7 L608.8 333.1 L611.1 333.5 L613.4 334.0 L615.7 334.5 L617.9 334.9 L620.0 335.4 L622.1 335.9 L624.0 336.3 L625.8 336.7 L627.4 337.2 L629.0 337.6 L630.5 338.0 L631.9 338.4 L633.3 338.9 L634.7 339.3 L636.1 339.8 L637.5 340.2 L639.0 340.7 L640.5 341.2 L642.1 341.7 L643.8 342.3 L645.4 342.9 L647.1 343.5 L648.6 344.0 L650.2 344.6 L651.6 345.1 L652.9 345.5 L654.0 345.9 L655.1 346.3 L655.9 346.5 L656.7 346.8 L657.3 347.0 L657.8 347.1 L658.3 347.3 L658.8 347.4 L659.4 347.6 L660.0 347.8 M560.0 330.4 L562.7 330.5 L565.5 330.5 L568.2 330.5 L571.0 330.5 L573.8 330.6 L576.5 330.6 L579.2 330.7 L581.9 330.8 L584.5 330.9 L587.0 331.1 L589.5 331.3 L591.9 331.6 L594.2 331.9 L596.5 332.3 L598.8 332.7 L601.1 333.1 L603.3 333.5 L605.5 333.9 L607.8 334.4 L610.0 334.8 L612.3 335.3 L614.5 335.7 L616.8 336.2 L619.1 336.7 L621.4 337.3 L623.6 337.8 L625.8 338.3 L627.9 338.9 L630.0 339.4 L632.0 340.0 L634.0 340.6 L635.9 341.2 L637.8 341.8 L639.7 342.5 L641.5 343.2 L643.2 343.8 L644.9 344.4 L646.4 345.0 L647.8 345.5 L649.0 345.9 L650.1 346.3 L651.1 346.6 L651.8 346.8 L652.4 347.0 L652.9 347.2 L653.4 347.3 L653.9 347.5 L654.4 347.6 L655.0 347.8 M560.0 335.6 L562.0 335.7 L564.0 335.7 L565.9 335.7 L567.9 335.7 L569.9 335.8 L571.9 335.8 L573.9 335.9 L575.9 336.0 L577.9 336.1 L580.0 336.3 L582.1 336.5 L584.3 336.8 L586.6 337.1 L588.8 337.5 L591.1 337.8 L593.4 338.2 L595.6 338.6 L597.8 339.1 L600.0 339.5 L602.0 340.0 L604.0 340.5 L606.1 341.1 L608.1 341.7 L610.1 342.4 L612.1 343.1 L613.9 343.7 L615.7 344.4 L617.3 344.9 L618.7 345.5 L620.0 345.9 L621.1 346.3 L622.0 346.6 L622.6 346.8 L623.1 347.0 L623.5 347.2 L623.8 347.3 L624.1 347.5 L624.5 347.6 L625.0 347.8 M560.0 338.5 L562.0 338.6 L564.0 338.6 L565.9 338.6 L567.9 338.6 L569.9 338.6 L571.9 338.6 L573.9 338.7 L575.9 338.8 L577.9 339.0 L580.0 339.2 L582.2 339.5 L584.5 339.9 L586.9 340.3 L589.3 340.7 L591.8 341.2 L594.1 341.7 L596.4 342.3 L598.5 342.8 L600.4 343.2 L602.0 343.7 L603.5 344.2 L604.7 344.6 L605.7 345.1 L606.5 345.5 L607.2 346.0 L607.9 346.4 L608.5 346.9 L609.2 347.3 L610.0 347.8 M560.0 341.5 L562.0 341.6 L564.1 341.6 L566.2 341.6 L568.2 341.7 L570.3 341.7 L572.4 341.8 L574.4 341.8 L576.3 341.9 L578.2 342.0 L580.0 342.2 L581.7 342.4 L583.4 342.6 L585.1 342.9 L586.7 343.2 L588.3 343.5 L589.8 343.8 L591.2 344.2 L592.6 344.5 L593.8 344.8 L595.0 345.1 L596.1 345.4 L597.1 345.7 L597.9 346.0 L598.7 346.3 L599.3 346.6 L600.0 346.9 L600.6 347.2 L601.3 347.5 L602.0 347.8" fill="none" stroke="#161616" stroke-width="1.5"/>
</g>
<text x="186.3" y="52.9" class="lg">W<tspan class="lgs" dy="3">edge</tspan></text>
<text x="189.2" y="70.4" class="lg">S<tspan class="lgs" dy="4">edge</tspan></text>
<text x="213.4" y="90.5" text-anchor="end" class="lg" style="font-size:13.2px">Mn</text>
<circle cx="224.5" cy="50.1" r="3.6" fill="none" stroke="#e3173d" stroke-width="1.8"/>
<circle cx="224.5" cy="68.5" r="3.6" fill="none" stroke="#3d3df0" stroke-width="1.8"/>
<circle cx="224.5" cy="87.2" r="3.6" fill="none" stroke="#6bef6b" stroke-width="1.8"/>
<text x="439.1" y="52.9" class="lg">W<tspan class="lgs" dy="3">edge</tspan></text>
<text x="442.0" y="70.4" class="lg">S<tspan class="lgs" dy="4">edge</tspan></text>
<text x="466.2" y="90.5" text-anchor="end" class="lg" style="font-size:13.2px">Mn</text>
<circle cx="477.3" cy="50.1" r="3.6" fill="none" stroke="#e3173d" stroke-width="1.8"/>
<circle cx="477.3" cy="68.5" r="3.6" fill="none" stroke="#3d3df0" stroke-width="1.8"/>
<circle cx="477.3" cy="87.2" r="3.6" fill="none" stroke="#6bef6b" stroke-width="1.8"/>
<rect x="55.5" y="34.5" width="185.80" height="313.30" fill="none" stroke="#2a2a2a" stroke-width="1.6"/>
<path d="M52.00 337.50H55.5M241.3 337.50H244.30M53.90 327.40H55.5M241.3 327.40H242.80M53.90 317.30H55.5M241.3 317.30H242.80M53.90 307.20H55.5M241.3 307.20H242.80M52.00 297.10H55.5M241.3 297.10H244.30M53.90 287.00H55.5M241.3 287.00H242.80M53.90 276.90H55.5M241.3 276.90H242.80M53.90 266.80H55.5M241.3 266.80H242.80M52.00 256.70H55.5M241.3 256.70H244.30M53.90 246.60H55.5M241.3 246.60H242.80M53.90 236.50H55.5M241.3 236.50H242.80M53.90 226.40H55.5M241.3 226.40H242.80M52.00 216.30H55.5M241.3 216.30H244.30M53.90 206.20H55.5M241.3 206.20H242.80M53.90 196.10H55.5M241.3 196.10H242.80M53.90 186.00H55.5M241.3 186.00H242.80M52.00 175.90H55.5M241.3 175.90H244.30M53.90 165.80H55.5M241.3 165.80H242.80M53.90 155.70H55.5M241.3 155.70H242.80M53.90 145.60H55.5M241.3 145.60H242.80M52.00 135.50H55.5M241.3 135.50H244.30M53.90 125.40H55.5M241.3 125.40H242.80M53.90 115.30H55.5M241.3 115.30H242.80M53.90 105.20H55.5M241.3 105.20H242.80M52.00 95.10H55.5M241.3 95.10H244.30M53.90 85.00H55.5M241.3 85.00H242.80M53.90 74.90H55.5M241.3 74.90H242.80M53.90 64.80H55.5M241.3 64.80H242.80M52.00 54.70H55.5M241.3 54.70H244.30M53.90 44.60H55.5M241.3 44.60H242.80" stroke="#222" stroke-width="1" fill="none"/>
<text x="50.50" y="61.10" text-anchor="end" class="tl">1.6</text>
<text x="50.50" y="101.50" text-anchor="end" class="tl">1.2</text>
<text x="50.50" y="141.90" text-anchor="end" class="tl">0.8</text>
<text x="50.50" y="182.30" text-anchor="end" class="tl">0.4</text>
<text x="50.50" y="222.70" text-anchor="end" class="tl">0</text>
<text x="50.50" y="263.10" text-anchor="end" class="tl">-0.4</text>
<text x="50.50" y="303.50" text-anchor="end" class="tl">-0.8</text>
<text x="50.50" y="343.90" text-anchor="end" class="tl">-1.2</text>
<path d="M53.00 368V355.3H60.10" stroke="#111" stroke-width="1.9" fill="none"/>
<text x="239.80" y="366.8" text-anchor="middle" class="ky">Y</text>
<text transform="translate(15.00,245) rotate(-90)" class="yl" textLength="87" lengthAdjust="spacingAndGlyphs">Energy (eV)</text>
<rect x="308.2" y="34.5" width="185.90" height="313.30" fill="none" stroke="#2a2a2a" stroke-width="1.6"/>
<path d="M304.70 337.50H308.2M494.1 337.50H497.10M306.60 327.40H308.2M494.1 327.40H495.60M306.60 317.30H308.2M494.1 317.30H495.60M306.60 307.20H308.2M494.1 307.20H495.60M304.70 297.10H308.2M494.1 297.10H497.10M306.60 287.00H308.2M494.1 287.00H495.60M306.60 276.90H308.2M494.1 276.90H495.60M306.60 266.80H308.2M494.1 266.80H495.60M304.70 256.70H308.2M494.1 256.70H497.10M306.60 246.60H308.2M494.1 246.60H495.60M306.60 236.50H308.2M494.1 236.50H495.60M306.60 226.40H308.2M494.1 226.40H495.60M304.70 216.30H308.2M494.1 216.30H497.10M306.60 206.20H308.2M494.1 206.20H495.60M306.60 196.10H308.2M494.1 196.10H495.60M306.60 186.00H308.2M494.1 186.00H495.60M304.70 175.90H308.2M494.1 175.90H497.10M306.60 165.80H308.2M494.1 165.80H495.60M306.60 155.70H308.2M494.1 155.70H495.60M306.60 145.60H308.2M494.1 145.60H495.60M304.70 135.50H308.2M494.1 135.50H497.10M306.60 125.40H308.2M494.1 125.40H495.60M306.60 115.30H308.2M494.1 115.30H495.60M306.60 105.20H308.2M494.1 105.20H495.60M304.70 95.10H308.2M494.1 95.10H497.10M306.60 85.00H308.2M494.1 85.00H495.60M306.60 74.90H308.2M494.1 74.90H495.60M306.60 64.80H308.2M494.1 64.80H495.60M304.70 54.70H308.2M494.1 54.70H497.10M306.60 44.60H308.2M494.1 44.60H495.60" stroke="#222" stroke-width="1" fill="none"/>
<text x="303.20" y="61.10" text-anchor="end" class="tl">1.6</text>
<text x="303.20" y="101.50" text-anchor="end" class="tl">1.2</text>
<text x="303.20" y="141.90" text-anchor="end" class="tl">0.8</text>
<text x="303.20" y="182.30" text-anchor="end" class="tl">0.4</text>
<text x="303.20" y="222.70" text-anchor="end" class="tl">0</text>
<text x="303.20" y="263.10" text-anchor="end" class="tl">-0.4</text>
<text x="303.20" y="303.50" text-anchor="end" class="tl">-0.8</text>
<text x="303.20" y="343.90" text-anchor="end" class="tl">-1.2</text>
<path d="M305.70 368V355.3H312.80" stroke="#111" stroke-width="1.9" fill="none"/>
<text x="492.60" y="366.8" text-anchor="middle" class="ky">Y</text>
<text transform="translate(269.20,245) rotate(-90)" class="yl" textLength="87" lengthAdjust="spacingAndGlyphs">Energy (eV)</text>
<rect x="560.1" y="34.5" width="186.50" height="313.30" fill="none" stroke="#2a2a2a" stroke-width="1.6"/>
<path d="M556.60 337.50H560.1M746.6 337.50H749.60M558.50 327.40H560.1M746.6 327.40H748.10M558.50 317.30H560.1M746.6 317.30H748.10M558.50 307.20H560.1M746.6 307.20H748.10M556.60 297.10H560.1M746.6 297.10H749.60M558.50 287.00H560.1M746.6 287.00H748.10M558.50 276.90H560.1M746.6 276.90H748.10M558.50 266.80H560.1M746.6 266.80H748.10M556.60 256.70H560.1M746.6 256.70H749.60M558.50 246.60H560.1M746.6 246.60H748.10M558.50 236.50H560.1M746.6 236.50H748.10M558.50 226.40H560.1M746.6 226.40H748.10M556.60 216.30H560.1M746.6 216.30H749.60M558.50 206.20H560.1M746.6 206.20H748.10M558.50 196.10H560.1M746.6 196.10H748.10M558.50 186.00H560.1M746.6 186.00H748.10M556.60 175.90H560.1M746.6 175.90H749.60M558.50 165.80H560.1M746.6 165.80H748.10M558.50 155.70H560.1M746.6 155.70H748.10M558.50 145.60H560.1M746.6 145.60H748.10M556.60 135.50H560.1M746.6 135.50H749.60M558.50 125.40H560.1M746.6 125.40H748.10M558.50 115.30H560.1M746.6 115.30H748.10M558.50 105.20H560.1M746.6 105.20H748.10M556.60 95.10H560.1M746.6 95.10H749.60M558.50 85.00H560.1M746.6 85.00H748.10M558.50 74.90H560.1M746.6 74.90H748.10M558.50 64.80H560.1M746.6 64.80H748.10M556.60 54.70H560.1M746.6 54.70H749.60M558.50 44.60H560.1M746.6 44.60H748.10" stroke="#222" stroke-width="1" fill="none"/>
<text x="555.10" y="61.10" text-anchor="end" class="tl">1.6</text>
<text x="555.10" y="101.50" text-anchor="end" class="tl">1.2</text>
<text x="555.10" y="141.90" text-anchor="end" class="tl">0.8</text>
<text x="555.10" y="182.30" text-anchor="end" class="tl">0.4</text>
<text x="555.10" y="222.70" text-anchor="end" class="tl">0</text>
<text x="555.10" y="263.10" text-anchor="end" class="tl">-0.4</text>
<text x="555.10" y="303.50" text-anchor="end" class="tl">-0.8</text>
<text x="555.10" y="343.90" text-anchor="end" class="tl">-1.2</text>
<path d="M557.60 368V355.3H564.70" stroke="#111" stroke-width="1.9" fill="none"/>
<text x="745.10" y="366.8" text-anchor="middle" class="ky">Y</text>
<text transform="translate(521.00,245) rotate(-90)" class="yl" textLength="87" lengthAdjust="spacingAndGlyphs">Energy (eV)</text>
<text x="35.9" y="20.3" text-anchor="middle" class="pl">(a)</text>
<text x="292.4" y="20.3" text-anchor="middle" class="pl">(b)</text>
<text x="548.8" y="20.3" text-anchor="middle" class="pl">(c)</text>
</svg>
</body></html>
